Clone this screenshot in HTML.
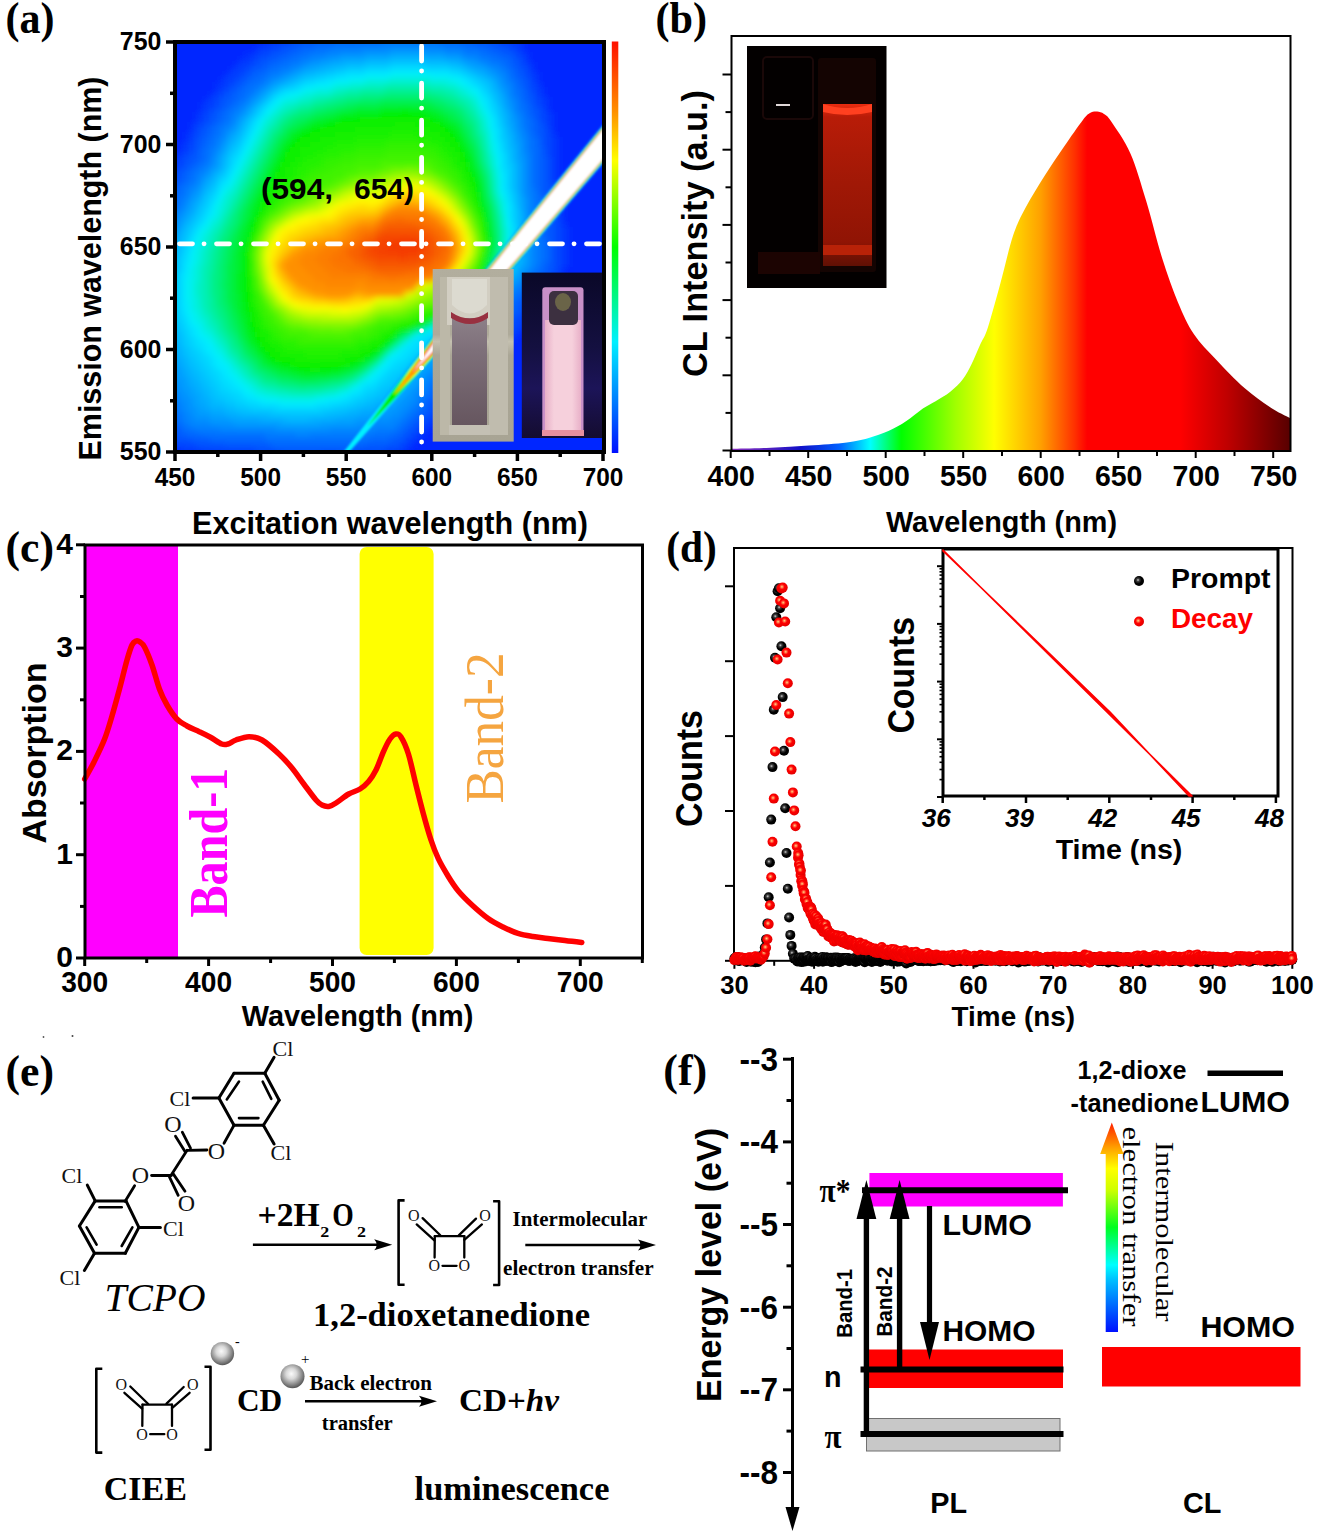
<!DOCTYPE html><html><head><meta charset="utf-8"><style>html,body{margin:0;padding:0;background:#fff;}svg{display:block;}</style></head><body>
<svg width="1325" height="1539" viewBox="0 0 1325 1539">
<rect width="1325" height="1539" fill="#fff"/>
<defs><clipPath id="clipA"><rect x="175" y="42" width="429" height="410"/></clipPath><filter id="blurA" x="-5%" y="-5%" width="110%" height="110%"><feGaussianBlur stdDeviation="3"/></filter><filter id="blurB"><feGaussianBlur stdDeviation="0.9"/></filter></defs>
<g clip-path="url(#clipA)">
<g filter="url(#blurA)"><path fill="#0028ff" d="M160 27h130v5h-130zM500 27h120v5h-120zM160 32h120v5h-120zM510 32h110v5h-110zM160 37h110v5h-110zM520 37h100v5h-100zM160 42h100v5h-100zM525 42h95v5h-95zM160 47h95v5h-95zM525 47h95v5h-95zM160 52h85v5h-85zM530 52h90v5h-90zM160 57h80v5h-80zM530 57h90v5h-90zM160 62h75v5h-75zM535 62h85v5h-85zM160 67h70v5h-70zM535 67h85v5h-85zM160 72h65v5h-65zM540 72h80v5h-80zM160 77h60v5h-60zM540 77h80v5h-80zM160 82h55v5h-55zM540 82h80v5h-80zM160 87h55v5h-55zM545 87h75v5h-75zM160 92h50v5h-50zM545 92h75v5h-75zM160 97h45v5h-45zM550 97h70v5h-70zM160 102h40v5h-40zM550 102h70v5h-70zM160 107h40v5h-40zM550 107h70v5h-70zM160 112h35v5h-35zM555 112h65v5h-65zM160 117h35v5h-35zM555 117h65v5h-65zM160 122h30v5h-30zM555 122h65v5h-65zM160 127h30v5h-30zM555 127h65v5h-65zM160 132h25v5h-25zM555 132h65v5h-65zM160 137h25v5h-25zM560 137h60v5h-60zM160 142h20v5h-20zM560 142h60v5h-60zM160 147h20v5h-20zM560 147h60v5h-60zM160 152h15v5h-15zM560 152h60v5h-60zM160 157h10v5h-10zM560 157h60v5h-60zM160 162h5v5h-5zM560 162h60v5h-60zM160 167h5v5h-5zM560 167h60v5h-60zM560 172h60v5h-60zM560 177h60v5h-60zM560 182h60v5h-60zM565 187h55v5h-55zM565 192h55v5h-55zM565 197h55v5h-55zM565 202h55v5h-55zM565 207h55v5h-55zM565 212h55v5h-55zM565 217h55v5h-55zM565 222h55v5h-55zM570 227h50v5h-50zM570 232h50v5h-50zM570 237h50v5h-50zM570 242h50v5h-50zM570 247h50v5h-50zM570 252h50v5h-50zM570 257h50v5h-50zM570 262h50v5h-50zM565 267h55v5h-55zM565 272h55v5h-55zM560 277h60v5h-60zM560 282h60v5h-60zM555 287h65v5h-65zM550 292h70v5h-70zM550 297h70v5h-70zM545 302h75v5h-75zM540 307h80v5h-80zM535 312h85v5h-85zM530 317h90v5h-90zM530 322h90v5h-90zM525 327h95v5h-95zM520 332h100v5h-100zM515 337h105v5h-105zM510 342h110v5h-110zM505 347h115v5h-115zM500 352h120v5h-120zM495 357h125v5h-125zM490 362h130v5h-130zM490 367h130v5h-130zM485 372h135v5h-135zM480 377h140v5h-140zM475 382h145v5h-145zM470 387h150v5h-150zM465 392h155v5h-155zM460 397h160v5h-160zM455 402h165v5h-165zM445 407h175v5h-175zM440 412h180v5h-180zM440 417h180v5h-180zM435 422h185v5h-185zM430 427h190v5h-190zM425 432h195v5h-195zM420 437h200v5h-200zM415 442h205v5h-205zM160 447h5v5h-5zM410 447h210v5h-210zM160 452h25v5h-25zM405 452h215v5h-215zM160 457h70v5h-70zM400 457h220v5h-220zM160 462h105v5h-105zM375 462h245v5h-245z"/><path fill="#0033ff" d="M290 27h15v5h-15zM485 27h15v5h-15zM280 32h10v5h-10zM500 32h10v5h-10zM270 37h10v5h-10zM510 37h10v5h-10zM260 42h10v5h-10zM520 42h5v5h-5zM255 47h5v5h-5zM520 47h5v5h-5zM245 52h10v5h-10zM525 52h5v5h-5zM240 57h10v5h-10zM525 57h5v5h-5zM235 62h5v5h-5zM530 62h5v5h-5zM230 67h5v5h-5zM530 67h5v5h-5zM225 72h5v5h-5zM535 72h5v5h-5zM220 77h5v5h-5zM535 77h5v5h-5zM215 82h10v5h-10zM215 87h5v5h-5zM540 87h5v5h-5zM210 92h5v5h-5zM540 92h5v5h-5zM205 97h5v5h-5zM545 97h5v5h-5zM200 102h5v5h-5zM545 102h5v5h-5zM200 107h5v5h-5zM545 107h5v5h-5zM195 112h5v5h-5zM550 112h5v5h-5zM195 117h5v5h-5zM550 117h5v5h-5zM190 122h5v5h-5zM550 122h5v5h-5zM190 127h5v5h-5zM550 127h5v5h-5zM185 132h5v5h-5zM185 137h5v5h-5zM555 137h5v5h-5zM180 142h5v5h-5zM555 142h5v5h-5zM180 147h5v5h-5zM555 147h5v5h-5zM175 152h5v5h-5zM555 152h5v5h-5zM170 157h5v5h-5zM555 157h5v5h-5zM165 162h10v5h-10zM555 162h5v5h-5zM165 167h5v5h-5zM555 167h5v5h-5zM160 172h5v5h-5zM555 172h5v5h-5zM160 177h5v5h-5zM555 177h5v5h-5zM560 187h5v5h-5zM560 192h5v5h-5zM560 197h5v5h-5zM560 202h5v5h-5zM560 207h5v5h-5zM560 212h5v5h-5zM560 217h5v5h-5zM565 227h5v5h-5zM565 232h5v5h-5zM565 237h5v5h-5zM565 242h5v5h-5zM565 247h5v5h-5zM565 252h5v5h-5zM565 257h5v5h-5zM565 262h5v5h-5zM560 267h5v5h-5zM560 272h5v5h-5zM555 277h5v5h-5zM555 282h5v5h-5zM550 287h5v5h-5zM545 292h5v5h-5zM545 297h5v5h-5zM540 302h5v5h-5zM535 307h5v5h-5zM530 312h5v5h-5zM525 317h5v5h-5zM525 322h5v5h-5zM520 327h5v5h-5zM515 332h5v5h-5zM510 337h5v5h-5zM505 342h5v5h-5zM500 347h5v5h-5zM495 352h5v5h-5zM490 357h5v5h-5zM485 362h5v5h-5zM485 367h5v5h-5zM480 372h5v5h-5zM475 377h5v5h-5zM470 382h5v5h-5zM465 387h5v5h-5zM460 392h5v5h-5zM455 397h5v5h-5zM445 402h10v5h-10zM440 407h5v5h-5zM435 417h5v5h-5zM430 422h5v5h-5zM425 427h5v5h-5zM420 432h5v5h-5zM160 437h5v5h-5zM415 437h5v5h-5zM160 442h5v5h-5zM410 442h5v5h-5zM165 447h15v5h-15zM405 447h5v5h-5zM185 452h25v5h-25zM400 452h5v5h-5zM230 457h30v5h-30zM380 457h20v5h-20zM265 462h110v5h-110z"/><path fill="#003dff" d="M305 27h15v5h-15zM475 27h10v5h-10zM290 32h15v5h-15zM485 32h15v5h-15zM280 37h10v5h-10zM500 37h10v5h-10zM270 42h10v5h-10zM510 42h10v5h-10zM260 47h10v5h-10zM515 47h5v5h-5zM255 52h5v5h-5zM520 52h5v5h-5zM250 57h5v5h-5zM240 62h10v5h-10zM525 62h5v5h-5zM235 67h10v5h-10zM230 72h10v5h-10zM530 72h5v5h-5zM225 77h10v5h-10zM530 77h5v5h-5zM225 82h5v5h-5zM535 82h5v5h-5zM220 87h5v5h-5zM535 87h5v5h-5zM215 92h5v5h-5zM535 92h5v5h-5zM210 97h5v5h-5zM540 97h5v5h-5zM205 102h10v5h-10zM540 102h5v5h-5zM205 107h5v5h-5zM200 112h5v5h-5zM545 112h5v5h-5zM200 117h5v5h-5zM545 117h5v5h-5zM195 122h5v5h-5zM545 122h5v5h-5zM190 132h5v5h-5zM550 132h5v5h-5zM190 137h5v5h-5zM550 137h5v5h-5zM185 142h5v5h-5zM550 142h5v5h-5zM185 147h5v5h-5zM550 147h5v5h-5zM180 152h5v5h-5zM550 152h5v5h-5zM175 157h5v5h-5zM550 157h5v5h-5zM175 162h5v5h-5zM550 162h5v5h-5zM170 167h5v5h-5zM550 167h5v5h-5zM165 172h5v5h-5zM550 172h5v5h-5zM165 177h5v5h-5zM550 177h5v5h-5zM160 182h5v5h-5zM555 182h5v5h-5zM555 187h5v5h-5zM555 192h5v5h-5zM555 197h5v5h-5zM555 202h5v5h-5zM555 207h5v5h-5zM555 212h5v5h-5zM560 222h5v5h-5zM560 227h5v5h-5zM560 232h5v5h-5zM560 237h5v5h-5zM560 242h5v5h-5zM560 247h5v5h-5zM560 252h5v5h-5zM560 257h5v5h-5zM560 262h5v5h-5zM555 272h5v5h-5zM550 277h5v5h-5zM550 282h5v5h-5zM545 287h5v5h-5zM540 292h5v5h-5zM540 297h5v5h-5zM535 302h5v5h-5zM530 307h5v5h-5zM525 312h5v5h-5zM520 317h5v5h-5zM520 322h5v5h-5zM515 327h5v5h-5zM510 332h5v5h-5zM505 337h5v5h-5zM500 342h5v5h-5zM495 347h5v5h-5zM490 352h5v5h-5zM485 357h5v5h-5zM480 362h5v5h-5zM475 367h10v5h-10zM475 372h5v5h-5zM470 377h5v5h-5zM465 382h5v5h-5zM460 387h5v5h-5zM455 392h5v5h-5zM445 397h10v5h-10zM440 402h5v5h-5zM435 407h5v5h-5zM435 412h5v5h-5zM430 417h5v5h-5zM425 422h5v5h-5zM420 427h5v5h-5zM160 432h5v5h-5zM415 432h5v5h-5zM165 437h5v5h-5zM410 437h5v5h-5zM165 442h10v5h-10zM405 442h5v5h-5zM180 447h20v5h-20zM400 447h5v5h-5zM210 452h45v5h-45zM385 452h15v5h-15zM260 457h120v5h-120z"/><path fill="#0047ff" d="M320 27h25v5h-25zM455 27h20v5h-20zM305 32h10v5h-10zM475 32h10v5h-10zM290 37h10v5h-10zM490 37h10v5h-10zM280 42h10v5h-10zM500 42h10v5h-10zM270 47h10v5h-10zM510 47h5v5h-5zM260 52h10v5h-10zM515 52h5v5h-5zM255 57h5v5h-5zM520 57h5v5h-5zM250 62h5v5h-5zM520 62h5v5h-5zM245 67h5v5h-5zM525 67h5v5h-5zM240 72h5v5h-5zM525 72h5v5h-5zM235 77h5v5h-5zM230 82h5v5h-5zM530 82h5v5h-5zM225 87h5v5h-5zM530 87h5v5h-5zM220 92h5v5h-5zM215 97h5v5h-5zM535 97h5v5h-5zM215 102h5v5h-5zM535 102h5v5h-5zM210 107h5v5h-5zM540 107h5v5h-5zM205 112h5v5h-5zM540 112h5v5h-5zM205 117h5v5h-5zM540 117h5v5h-5zM200 122h5v5h-5zM195 127h5v5h-5zM545 127h5v5h-5zM195 132h5v5h-5zM545 132h5v5h-5zM545 137h5v5h-5zM190 142h5v5h-5zM545 142h5v5h-5zM190 147h5v5h-5zM545 147h5v5h-5zM185 152h5v5h-5zM545 152h5v5h-5zM180 157h5v5h-5zM180 162h5v5h-5zM175 167h5v5h-5zM170 172h5v5h-5zM170 177h5v5h-5zM165 182h5v5h-5zM550 182h5v5h-5zM160 187h5v5h-5zM550 187h5v5h-5zM160 192h5v5h-5zM550 192h5v5h-5zM550 197h5v5h-5zM550 202h5v5h-5zM555 217h5v5h-5zM555 222h5v5h-5zM555 227h5v5h-5zM555 232h5v5h-5zM555 237h5v5h-5zM555 242h5v5h-5zM555 247h5v5h-5zM555 252h5v5h-5zM555 257h5v5h-5zM555 262h5v5h-5zM555 267h5v5h-5zM550 272h5v5h-5zM545 277h5v5h-5zM545 282h5v5h-5zM540 287h5v5h-5zM535 292h5v5h-5zM535 297h5v5h-5zM530 302h5v5h-5zM525 307h5v5h-5zM520 312h5v5h-5zM515 317h5v5h-5zM510 322h10v5h-10zM510 327h5v5h-5zM505 332h5v5h-5zM500 337h5v5h-5zM490 342h10v5h-10zM485 347h10v5h-10zM485 352h5v5h-5zM480 357h5v5h-5zM475 362h5v5h-5zM470 367h5v5h-5zM470 372h5v5h-5zM465 377h5v5h-5zM460 382h5v5h-5zM450 387h10v5h-10zM445 392h10v5h-10zM440 397h5v5h-5zM435 402h5v5h-5zM430 412h5v5h-5zM425 417h5v5h-5zM160 422h5v5h-5zM420 422h5v5h-5zM160 427h5v5h-5zM415 427h5v5h-5zM165 432h5v5h-5zM410 432h5v5h-5zM170 437h5v5h-5zM405 437h5v5h-5zM175 442h20v5h-20zM400 442h5v5h-5zM200 447h55v5h-55zM385 447h15v5h-15zM255 452h30v5h-30zM320 452h20v5h-20zM345 452h40v5h-40z"/><path fill="#0052ff" d="M345 27h55v5h-55zM420 27h35v5h-35zM315 32h25v5h-25zM460 32h15v5h-15zM300 37h15v5h-15zM475 37h15v5h-15zM290 42h10v5h-10zM490 42h10v5h-10zM280 47h10v5h-10zM500 47h10v5h-10zM270 52h10v5h-10zM510 52h5v5h-5zM260 57h10v5h-10zM515 57h5v5h-5zM255 62h10v5h-10zM515 62h5v5h-5zM250 67h5v5h-5zM520 67h5v5h-5zM245 72h5v5h-5zM520 72h5v5h-5zM240 77h5v5h-5zM525 77h5v5h-5zM235 82h5v5h-5zM525 82h5v5h-5zM230 87h5v5h-5zM525 87h5v5h-5zM225 92h5v5h-5zM530 92h5v5h-5zM220 97h5v5h-5zM530 97h5v5h-5zM220 102h5v5h-5zM530 102h5v5h-5zM215 107h5v5h-5zM535 107h5v5h-5zM210 112h5v5h-5zM535 112h5v5h-5zM210 117h5v5h-5zM535 117h5v5h-5zM205 122h5v5h-5zM540 122h5v5h-5zM200 127h5v5h-5zM540 127h5v5h-5zM200 132h5v5h-5zM540 132h5v5h-5zM195 137h5v5h-5zM540 137h5v5h-5zM195 142h5v5h-5zM540 142h5v5h-5zM195 147h5v5h-5zM190 152h5v5h-5zM185 157h10v5h-10zM545 157h5v5h-5zM185 162h5v5h-5zM545 162h5v5h-5zM180 167h5v5h-5zM545 167h5v5h-5zM175 172h5v5h-5zM545 172h5v5h-5zM175 177h5v5h-5zM545 177h5v5h-5zM170 182h5v5h-5zM545 182h5v5h-5zM165 187h5v5h-5zM545 187h5v5h-5zM165 192h5v5h-5zM545 192h5v5h-5zM160 197h5v5h-5zM545 197h5v5h-5zM160 202h5v5h-5zM550 207h5v5h-5zM550 212h5v5h-5zM550 217h5v5h-5zM550 222h5v5h-5zM550 227h5v5h-5zM550 232h5v5h-5zM550 237h5v5h-5zM550 242h5v5h-5zM550 247h5v5h-5zM550 252h5v5h-5zM550 257h5v5h-5zM550 262h5v5h-5zM550 267h5v5h-5zM545 272h5v5h-5zM540 282h5v5h-5zM535 287h5v5h-5zM530 292h5v5h-5zM525 297h10v5h-10zM520 302h10v5h-10zM520 307h5v5h-5zM515 312h5v5h-5zM510 317h5v5h-5zM505 322h5v5h-5zM500 327h10v5h-10zM495 332h10v5h-10zM490 337h10v5h-10zM485 342h5v5h-5zM480 347h5v5h-5zM480 352h5v5h-5zM475 357h5v5h-5zM470 362h5v5h-5zM465 367h5v5h-5zM460 372h10v5h-10zM455 377h10v5h-10zM450 382h10v5h-10zM445 387h5v5h-5zM440 392h5v5h-5zM435 397h5v5h-5zM430 402h5v5h-5zM430 407h5v5h-5zM160 412h5v5h-5zM425 412h5v5h-5zM160 417h5v5h-5zM420 417h5v5h-5zM165 422h5v5h-5zM415 422h5v5h-5zM165 427h10v5h-10zM410 427h5v5h-5zM170 432h5v5h-5zM405 432h5v5h-5zM175 437h15v5h-15zM400 437h5v5h-5zM195 442h30v5h-30zM390 442h10v5h-10zM255 447h20v5h-20zM355 447h30v5h-30zM285 452h35v5h-35zM340 452h5v5h-5z"/><path fill="#005cff" d="M400 27h20v5h-20zM340 32h50v5h-50zM430 32h30v5h-30zM315 37h20v5h-20zM460 37h15v5h-15zM300 42h15v5h-15zM475 42h15v5h-15zM290 47h10v5h-10zM490 47h10v5h-10zM280 52h10v5h-10zM500 52h10v5h-10zM270 57h10v5h-10zM510 57h5v5h-5zM265 62h5v5h-5zM510 62h5v5h-5zM255 67h10v5h-10zM515 67h5v5h-5zM250 72h5v5h-5zM515 72h5v5h-5zM245 77h5v5h-5zM520 77h5v5h-5zM240 82h5v5h-5zM520 82h5v5h-5zM235 87h5v5h-5zM230 92h5v5h-5zM525 92h5v5h-5zM225 97h10v5h-10zM525 97h5v5h-5zM225 102h5v5h-5zM220 107h5v5h-5zM530 107h5v5h-5zM215 112h5v5h-5zM530 112h5v5h-5zM215 117h5v5h-5zM210 122h5v5h-5zM535 122h5v5h-5zM205 127h5v5h-5zM535 127h5v5h-5zM205 132h5v5h-5zM535 132h5v5h-5zM200 137h5v5h-5zM200 142h5v5h-5zM540 147h5v5h-5zM195 152h5v5h-5zM540 152h5v5h-5zM195 157h5v5h-5zM540 157h5v5h-5zM190 162h5v5h-5zM540 162h5v5h-5zM185 167h5v5h-5zM540 167h5v5h-5zM180 172h5v5h-5zM540 172h5v5h-5zM180 177h5v5h-5zM540 177h5v5h-5zM175 182h5v5h-5zM540 182h5v5h-5zM170 187h5v5h-5zM540 187h5v5h-5zM170 192h5v5h-5zM540 192h5v5h-5zM165 197h5v5h-5zM165 202h5v5h-5zM545 202h5v5h-5zM160 207h5v5h-5zM545 207h5v5h-5zM160 212h5v5h-5zM545 212h5v5h-5zM545 217h5v5h-5zM545 222h5v5h-5zM545 227h5v5h-5zM545 232h5v5h-5zM545 237h5v5h-5zM545 262h5v5h-5zM545 267h5v5h-5zM540 272h5v5h-5zM540 277h5v5h-5zM535 282h5v5h-5zM530 287h5v5h-5zM525 292h5v5h-5zM520 297h5v5h-5zM515 302h5v5h-5zM515 307h5v5h-5zM510 312h5v5h-5zM505 317h5v5h-5zM500 322h5v5h-5zM495 327h5v5h-5zM490 332h5v5h-5zM485 337h5v5h-5zM480 342h5v5h-5zM475 347h5v5h-5zM475 352h5v5h-5zM470 357h5v5h-5zM465 362h5v5h-5zM460 367h5v5h-5zM455 372h5v5h-5zM450 377h5v5h-5zM445 382h5v5h-5zM440 387h5v5h-5zM435 392h5v5h-5zM430 397h5v5h-5zM160 402h5v5h-5zM425 402h5v5h-5zM160 407h5v5h-5zM425 407h5v5h-5zM165 412h5v5h-5zM420 412h5v5h-5zM165 417h5v5h-5zM415 417h5v5h-5zM170 422h5v5h-5zM410 422h5v5h-5zM175 427h5v5h-5zM405 427h5v5h-5zM175 432h10v5h-10zM400 432h5v5h-5zM190 437h20v5h-20zM390 437h10v5h-10zM225 442h45v5h-45zM365 442h25v5h-25zM275 447h80v5h-80z"/><path fill="#0067ff" d="M390 32h40v5h-40zM335 37h50v5h-50zM435 37h25v5h-25zM315 42h20v5h-20zM460 42h15v5h-15zM300 47h15v5h-15zM480 47h10v5h-10zM290 52h10v5h-10zM490 52h10v5h-10zM280 57h10v5h-10zM500 57h10v5h-10zM270 62h10v5h-10zM505 62h5v5h-5zM265 67h5v5h-5zM510 67h5v5h-5zM255 72h10v5h-10zM510 72h5v5h-5zM250 77h10v5h-10zM515 77h5v5h-5zM245 82h5v5h-5zM515 82h5v5h-5zM240 87h5v5h-5zM520 87h5v5h-5zM235 92h10v5h-10zM520 92h5v5h-5zM235 97h5v5h-5zM520 97h5v5h-5zM230 102h5v5h-5zM525 102h5v5h-5zM225 107h5v5h-5zM525 107h5v5h-5zM220 112h5v5h-5zM525 112h5v5h-5zM220 117h5v5h-5zM530 117h5v5h-5zM215 122h5v5h-5zM530 122h5v5h-5zM210 127h5v5h-5zM530 127h5v5h-5zM210 132h5v5h-5zM530 132h5v5h-5zM205 137h5v5h-5zM535 137h5v5h-5zM205 142h5v5h-5zM535 142h5v5h-5zM200 147h5v5h-5zM535 147h5v5h-5zM200 152h5v5h-5zM535 152h5v5h-5zM200 157h5v5h-5zM535 157h5v5h-5zM195 162h5v5h-5zM535 162h5v5h-5zM190 167h5v5h-5zM535 167h5v5h-5zM185 172h5v5h-5zM535 172h5v5h-5zM185 177h5v5h-5zM535 177h5v5h-5zM180 182h5v5h-5zM535 182h5v5h-5zM175 187h5v5h-5zM535 187h5v5h-5zM175 192h5v5h-5zM170 197h5v5h-5zM540 197h5v5h-5zM170 202h5v5h-5zM540 202h5v5h-5zM165 207h5v5h-5zM540 207h5v5h-5zM165 212h5v5h-5zM540 212h5v5h-5zM160 217h5v5h-5zM540 217h5v5h-5zM160 222h5v5h-5zM540 222h5v5h-5zM540 227h5v5h-5zM540 232h5v5h-5zM545 242h5v5h-5zM545 247h5v5h-5zM545 252h5v5h-5zM545 257h5v5h-5zM540 262h5v5h-5zM540 267h5v5h-5zM535 272h5v5h-5zM535 277h5v5h-5zM530 282h5v5h-5zM525 287h5v5h-5zM520 292h5v5h-5zM515 297h5v5h-5zM510 302h5v5h-5zM510 307h5v5h-5zM505 312h5v5h-5zM500 317h5v5h-5zM495 322h5v5h-5zM490 327h5v5h-5zM485 332h5v5h-5zM480 337h5v5h-5zM475 342h5v5h-5zM470 347h5v5h-5zM465 352h10v5h-10zM465 357h5v5h-5zM460 362h5v5h-5zM455 367h5v5h-5zM450 372h5v5h-5zM445 377h5v5h-5zM440 382h5v5h-5zM430 387h10v5h-10zM160 392h5v5h-5zM430 392h5v5h-5zM160 397h5v5h-5zM425 397h5v5h-5zM165 402h5v5h-5zM165 407h5v5h-5zM420 407h5v5h-5zM170 412h5v5h-5zM415 412h5v5h-5zM170 417h5v5h-5zM410 417h5v5h-5zM175 422h5v5h-5zM405 422h5v5h-5zM180 427h5v5h-5zM400 427h5v5h-5zM185 432h15v5h-15zM390 432h10v5h-10zM210 437h55v5h-55zM370 437h20v5h-20zM270 442h95v5h-95z"/><path fill="#0071ff" d="M385 37h50v5h-50zM335 42h45v5h-45zM440 42h20v5h-20zM315 47h15v5h-15zM465 47h15v5h-15zM300 52h10v5h-10zM480 52h10v5h-10zM290 57h10v5h-10zM490 57h10v5h-10zM280 62h10v5h-10zM500 62h5v5h-5zM270 67h10v5h-10zM505 67h5v5h-5zM265 72h5v5h-5zM260 77h5v5h-5zM510 77h5v5h-5zM250 82h10v5h-10zM245 87h10v5h-10zM515 87h5v5h-5zM245 92h5v5h-5zM515 92h5v5h-5zM240 97h5v5h-5zM235 102h5v5h-5zM520 102h5v5h-5zM230 107h5v5h-5zM520 107h5v5h-5zM225 112h5v5h-5zM225 117h5v5h-5zM525 117h5v5h-5zM220 122h5v5h-5zM525 122h5v5h-5zM215 127h5v5h-5zM525 127h5v5h-5zM215 132h5v5h-5zM210 137h5v5h-5zM530 137h5v5h-5zM210 142h5v5h-5zM530 142h5v5h-5zM205 147h5v5h-5zM530 147h5v5h-5zM205 152h5v5h-5zM530 152h5v5h-5zM205 157h5v5h-5zM530 157h5v5h-5zM200 162h5v5h-5zM530 162h5v5h-5zM195 167h5v5h-5zM530 167h5v5h-5zM190 172h5v5h-5zM530 172h5v5h-5zM190 177h5v5h-5zM530 177h5v5h-5zM185 182h5v5h-5zM530 182h5v5h-5zM180 187h5v5h-5zM180 192h5v5h-5zM535 192h5v5h-5zM175 197h5v5h-5zM535 197h5v5h-5zM175 202h5v5h-5zM535 202h5v5h-5zM170 207h5v5h-5zM535 207h5v5h-5zM535 212h5v5h-5zM165 217h5v5h-5zM535 217h5v5h-5zM535 222h5v5h-5zM160 227h5v5h-5zM535 227h5v5h-5zM160 232h5v5h-5zM540 237h5v5h-5zM540 242h5v5h-5zM540 247h5v5h-5zM540 252h5v5h-5zM540 257h5v5h-5zM535 267h5v5h-5zM530 272h5v5h-5zM530 277h5v5h-5zM525 282h5v5h-5zM520 287h5v5h-5zM515 292h5v5h-5zM510 297h5v5h-5zM505 302h5v5h-5zM505 307h5v5h-5zM500 312h5v5h-5zM495 317h5v5h-5zM490 322h5v5h-5zM485 327h5v5h-5zM475 332h10v5h-10zM470 337h10v5h-10zM470 342h5v5h-5zM465 347h5v5h-5zM460 352h5v5h-5zM460 357h5v5h-5zM455 362h5v5h-5zM450 367h5v5h-5zM445 372h5v5h-5zM435 377h10v5h-10zM160 382h5v5h-5zM430 382h10v5h-10zM160 387h5v5h-5zM425 392h5v5h-5zM165 397h5v5h-5zM420 397h5v5h-5zM170 402h5v5h-5zM420 402h5v5h-5zM170 407h5v5h-5zM415 407h5v5h-5zM175 412h5v5h-5zM410 412h5v5h-5zM175 417h5v5h-5zM405 417h5v5h-5zM180 422h5v5h-5zM400 422h5v5h-5zM185 427h10v5h-10zM395 427h5v5h-5zM200 432h65v5h-65zM370 432h20v5h-20zM265 437h105v5h-105z"/><path fill="#007bff" d="M380 42h60v5h-60zM330 47h30v5h-30zM445 47h20v5h-20zM310 52h15v5h-15zM465 52h15v5h-15zM300 57h10v5h-10zM480 57h10v5h-10zM290 62h10v5h-10zM490 62h10v5h-10zM280 67h10v5h-10zM500 67h5v5h-5zM270 72h10v5h-10zM505 72h5v5h-5zM265 77h5v5h-5zM505 77h5v5h-5zM260 82h5v5h-5zM510 82h5v5h-5zM255 87h5v5h-5zM510 87h5v5h-5zM250 92h5v5h-5zM510 92h5v5h-5zM245 97h5v5h-5zM515 97h5v5h-5zM240 102h5v5h-5zM515 102h5v5h-5zM235 107h5v5h-5zM515 107h5v5h-5zM230 112h5v5h-5zM520 112h5v5h-5zM230 117h5v5h-5zM520 117h5v5h-5zM225 122h5v5h-5zM520 122h5v5h-5zM220 127h5v5h-5zM220 132h5v5h-5zM525 132h5v5h-5zM215 137h5v5h-5zM525 137h5v5h-5zM215 142h5v5h-5zM525 142h5v5h-5zM210 147h5v5h-5zM525 147h5v5h-5zM210 152h5v5h-5zM205 162h5v5h-5zM200 167h5v5h-5zM195 172h5v5h-5zM195 177h5v5h-5zM190 182h5v5h-5zM185 187h5v5h-5zM530 187h5v5h-5zM185 192h5v5h-5zM530 192h5v5h-5zM180 197h5v5h-5zM530 197h5v5h-5zM180 202h5v5h-5zM530 202h5v5h-5zM175 207h5v5h-5zM530 207h5v5h-5zM170 212h5v5h-5zM530 212h5v5h-5zM170 217h5v5h-5zM530 217h5v5h-5zM165 222h5v5h-5zM530 222h5v5h-5zM165 227h5v5h-5zM535 232h5v5h-5zM160 237h5v5h-5zM535 237h5v5h-5zM160 242h5v5h-5zM535 242h5v5h-5zM535 247h5v5h-5zM535 252h5v5h-5zM535 257h5v5h-5zM535 262h5v5h-5zM530 267h5v5h-5zM525 272h5v5h-5zM525 277h5v5h-5zM520 282h5v5h-5zM515 287h5v5h-5zM510 292h5v5h-5zM505 297h5v5h-5zM500 302h5v5h-5zM500 307h5v5h-5zM495 312h5v5h-5zM490 317h5v5h-5zM485 322h5v5h-5zM475 327h10v5h-10zM470 332h5v5h-5zM465 337h5v5h-5zM465 342h5v5h-5zM460 347h5v5h-5zM455 352h5v5h-5zM450 357h10v5h-10zM450 362h5v5h-5zM440 367h10v5h-10zM160 372h5v5h-5zM435 372h10v5h-10zM160 377h5v5h-5zM430 377h5v5h-5zM165 382h5v5h-5zM425 382h5v5h-5zM165 387h5v5h-5zM425 387h5v5h-5zM165 392h5v5h-5zM420 392h5v5h-5zM170 397h5v5h-5zM175 402h5v5h-5zM415 402h5v5h-5zM175 407h5v5h-5zM410 407h5v5h-5zM180 412h5v5h-5zM405 412h5v5h-5zM180 417h5v5h-5zM400 417h5v5h-5zM185 422h5v5h-5zM395 422h5v5h-5zM195 427h25v5h-25zM375 427h20v5h-20zM265 432h30v5h-30zM310 432h60v5h-60z"/><path fill="#0086ff" d="M360 47h30v5h-30zM425 47h20v5h-20zM325 52h15v5h-15zM460 52h5v5h-5zM310 57h10v5h-10zM475 57h5v5h-5zM300 62h5v5h-5zM485 62h5v5h-5zM290 67h5v5h-5zM495 67h5v5h-5zM280 72h5v5h-5zM500 72h5v5h-5zM270 77h5v5h-5zM265 82h5v5h-5zM505 82h5v5h-5zM510 97h5v5h-5zM245 102h5v5h-5zM240 107h5v5h-5zM235 112h5v5h-5zM515 112h5v5h-5zM230 122h5v5h-5zM225 127h5v5h-5zM520 127h5v5h-5zM520 132h5v5h-5zM220 137h5v5h-5zM215 147h5v5h-5zM525 152h5v5h-5zM210 157h5v5h-5zM525 157h5v5h-5zM210 162h5v5h-5zM525 162h5v5h-5zM205 167h5v5h-5zM525 167h5v5h-5zM200 172h5v5h-5zM525 172h5v5h-5zM525 177h5v5h-5zM195 182h5v5h-5zM525 182h5v5h-5zM190 187h5v5h-5zM525 187h5v5h-5zM525 192h5v5h-5zM185 197h5v5h-5zM180 207h5v5h-5zM175 212h5v5h-5zM170 222h5v5h-5zM530 227h5v5h-5zM165 232h5v5h-5zM530 232h5v5h-5zM165 237h5v5h-5zM530 237h5v5h-5zM530 242h5v5h-5zM160 247h5v5h-5zM530 247h5v5h-5zM160 252h5v5h-5zM530 252h5v5h-5zM160 257h5v5h-5zM530 257h5v5h-5zM530 262h5v5h-5zM520 277h5v5h-5zM515 282h5v5h-5zM510 287h5v5h-5zM500 297h5v5h-5zM495 307h5v5h-5zM490 312h5v5h-5zM485 317h5v5h-5zM480 322h5v5h-5zM465 332h5v5h-5zM460 342h5v5h-5zM455 347h5v5h-5zM160 352h5v5h-5zM450 352h5v5h-5zM160 357h5v5h-5zM160 362h5v5h-5zM440 362h10v5h-10zM160 367h5v5h-5zM435 367h5v5h-5zM165 372h5v5h-5zM430 372h5v5h-5zM165 377h5v5h-5zM425 377h5v5h-5zM170 382h5v5h-5zM170 387h5v5h-5zM420 387h5v5h-5zM170 392h10v5h-10zM415 392h5v5h-5zM175 397h5v5h-5zM415 397h5v5h-5zM180 402h5v5h-5zM410 402h5v5h-5zM180 407h5v5h-5zM405 407h5v5h-5zM185 412h5v5h-5zM400 412h5v5h-5zM185 417h10v5h-10zM390 417h10v5h-10zM190 422h20v5h-20zM375 422h20v5h-20zM220 427h55v5h-55zM330 427h45v5h-45zM295 432h15v5h-15z"/><path fill="#0090ff" d="M390 47h35v5h-35zM340 52h25v5h-25zM445 52h15v5h-15zM320 57h10v5h-10zM465 57h10v5h-10zM305 62h5v5h-5zM480 62h5v5h-5zM295 67h5v5h-5zM490 67h5v5h-5zM285 72h5v5h-5zM495 72h5v5h-5zM275 77h5v5h-5zM500 77h5v5h-5zM500 82h5v5h-5zM260 87h5v5h-5zM505 87h5v5h-5zM255 92h5v5h-5zM505 92h5v5h-5zM250 97h5v5h-5zM510 102h5v5h-5zM510 107h5v5h-5zM240 112h5v5h-5zM235 117h5v5h-5zM515 117h5v5h-5zM515 122h5v5h-5zM230 127h5v5h-5zM515 127h5v5h-5zM225 132h5v5h-5zM520 137h5v5h-5zM220 142h5v5h-5zM520 142h5v5h-5zM520 147h5v5h-5zM215 152h5v5h-5zM520 152h5v5h-5zM205 172h5v5h-5zM200 177h5v5h-5zM195 187h5v5h-5zM190 192h5v5h-5zM525 197h5v5h-5zM185 202h5v5h-5zM525 202h5v5h-5zM525 207h5v5h-5zM180 212h5v5h-5zM525 212h5v5h-5zM175 217h5v5h-5zM525 217h5v5h-5zM175 222h5v5h-5zM170 227h5v5h-5zM170 232h5v5h-5zM165 242h5v5h-5zM165 247h5v5h-5zM160 262h5v5h-5zM160 267h5v5h-5zM525 267h5v5h-5zM160 272h5v5h-5zM520 272h5v5h-5zM505 292h5v5h-5zM495 302h5v5h-5zM490 307h5v5h-5zM485 312h5v5h-5zM480 317h5v5h-5zM475 322h5v5h-5zM470 327h5v5h-5zM160 332h5v5h-5zM160 337h5v5h-5zM460 337h5v5h-5zM160 342h5v5h-5zM455 342h5v5h-5zM160 347h5v5h-5zM450 347h5v5h-5zM165 352h5v5h-5zM165 357h5v5h-5zM440 357h10v5h-10zM165 362h5v5h-5zM435 362h5v5h-5zM165 367h5v5h-5zM430 367h5v5h-5zM170 372h5v5h-5zM425 372h5v5h-5zM170 377h5v5h-5zM420 377h5v5h-5zM175 382h5v5h-5zM420 382h5v5h-5zM175 387h5v5h-5zM415 387h5v5h-5zM180 392h5v5h-5zM410 392h5v5h-5zM180 397h10v5h-10zM405 397h10v5h-10zM185 402h5v5h-5zM400 402h10v5h-10zM185 407h10v5h-10zM395 407h10v5h-10zM190 412h5v5h-5zM390 412h10v5h-10zM195 417h15v5h-15zM375 417h15v5h-15zM210 422h25v5h-25zM355 422h20v5h-20zM275 427h55v5h-55z"/><path fill="#009aff" d="M365 52h25v5h-25zM425 52h20v5h-20zM330 57h10v5h-10zM460 57h5v5h-5zM310 62h10v5h-10zM470 62h10v5h-10zM300 67h5v5h-5zM485 67h5v5h-5zM290 72h5v5h-5zM490 72h5v5h-5zM280 77h5v5h-5zM495 77h5v5h-5zM270 82h5v5h-5zM265 87h5v5h-5zM500 87h5v5h-5zM260 92h5v5h-5zM255 97h5v5h-5zM505 97h5v5h-5zM250 102h5v5h-5zM505 102h5v5h-5zM245 107h5v5h-5zM510 112h5v5h-5zM510 117h5v5h-5zM235 122h5v5h-5zM515 132h5v5h-5zM225 137h5v5h-5zM515 137h5v5h-5zM220 147h5v5h-5zM215 157h5v5h-5zM520 157h5v5h-5zM215 162h5v5h-5zM520 162h5v5h-5zM210 167h5v5h-5zM520 167h5v5h-5zM520 172h5v5h-5zM520 177h5v5h-5zM200 182h5v5h-5zM520 182h5v5h-5zM520 187h5v5h-5zM195 192h5v5h-5zM520 192h5v5h-5zM190 197h5v5h-5zM185 207h5v5h-5zM180 217h5v5h-5zM525 222h5v5h-5zM175 227h5v5h-5zM525 227h5v5h-5zM525 232h5v5h-5zM170 237h5v5h-5zM165 252h5v5h-5zM525 252h5v5h-5zM165 257h5v5h-5zM525 257h5v5h-5zM525 262h5v5h-5zM520 267h5v5h-5zM160 277h5v5h-5zM515 277h5v5h-5zM160 282h5v5h-5zM510 282h5v5h-5zM160 287h5v5h-5zM505 287h5v5h-5zM160 292h5v5h-5zM500 292h5v5h-5zM160 297h5v5h-5zM495 297h5v5h-5zM160 302h5v5h-5zM160 307h5v5h-5zM160 312h5v5h-5zM160 317h5v5h-5zM160 322h5v5h-5zM470 322h5v5h-5zM160 327h5v5h-5zM465 327h5v5h-5zM460 332h5v5h-5zM165 337h5v5h-5zM455 337h5v5h-5zM165 342h5v5h-5zM165 347h5v5h-5zM445 352h5v5h-5zM170 357h5v5h-5zM435 357h5v5h-5zM170 362h5v5h-5zM430 362h5v5h-5zM170 367h10v5h-10zM425 367h5v5h-5zM175 372h5v5h-5zM420 372h5v5h-5zM175 377h10v5h-10zM180 382h5v5h-5zM415 382h5v5h-5zM180 387h10v5h-10zM410 387h5v5h-5zM185 392h5v5h-5zM405 392h5v5h-5zM190 397h5v5h-5zM400 397h5v5h-5zM190 402h5v5h-5zM395 402h5v5h-5zM195 407h5v5h-5zM385 407h10v5h-10zM195 412h15v5h-15zM375 412h15v5h-15zM210 417h20v5h-20zM355 417h20v5h-20zM235 422h45v5h-45zM320 422h35v5h-35z"/><path fill="#00a4ff" d="M390 52h35v5h-35zM340 57h25v5h-25zM445 57h15v5h-15zM320 62h10v5h-10zM465 62h5v5h-5zM305 67h10v5h-10zM475 67h10v5h-10zM295 72h5v5h-5zM485 72h5v5h-5zM285 77h5v5h-5zM275 82h5v5h-5zM495 82h5v5h-5zM500 92h5v5h-5zM505 107h5v5h-5zM245 112h5v5h-5zM240 117h5v5h-5zM510 122h5v5h-5zM235 127h5v5h-5zM510 127h5v5h-5zM230 132h5v5h-5zM225 142h5v5h-5zM515 142h5v5h-5zM515 147h5v5h-5zM220 152h5v5h-5zM515 152h5v5h-5zM515 157h5v5h-5zM215 167h5v5h-5zM210 172h5v5h-5zM205 177h5v5h-5zM200 187h5v5h-5zM195 197h5v5h-5zM520 197h5v5h-5zM190 202h5v5h-5zM520 202h5v5h-5zM190 207h5v5h-5zM520 207h5v5h-5zM185 212h5v5h-5zM180 222h5v5h-5zM175 232h5v5h-5zM525 237h5v5h-5zM170 242h5v5h-5zM525 242h5v5h-5zM170 247h5v5h-5zM525 247h5v5h-5zM165 262h5v5h-5zM520 262h5v5h-5zM165 267h5v5h-5zM165 272h5v5h-5zM515 272h5v5h-5zM165 277h5v5h-5zM510 277h5v5h-5zM490 302h5v5h-5zM485 307h5v5h-5zM480 312h5v5h-5zM165 317h5v5h-5zM475 317h5v5h-5zM165 322h5v5h-5zM165 327h5v5h-5zM460 327h5v5h-5zM165 332h5v5h-5zM455 332h5v5h-5zM170 342h5v5h-5zM450 342h5v5h-5zM170 347h5v5h-5zM445 347h5v5h-5zM170 352h5v5h-5zM435 352h10v5h-10zM175 357h5v5h-5zM430 357h5v5h-5zM175 362h5v5h-5zM425 362h5v5h-5zM180 367h5v5h-5zM420 367h5v5h-5zM180 372h5v5h-5zM415 372h5v5h-5zM185 377h5v5h-5zM415 377h5v5h-5zM185 382h5v5h-5zM410 382h5v5h-5zM190 387h5v5h-5zM405 387h5v5h-5zM190 392h10v5h-10zM400 392h5v5h-5zM195 397h5v5h-5zM395 397h5v5h-5zM195 402h10v5h-10zM385 402h10v5h-10zM200 407h10v5h-10zM375 407h10v5h-10zM210 412h15v5h-15zM360 412h15v5h-15zM230 417h30v5h-30zM335 417h20v5h-20zM280 422h40v5h-40z"/><path fill="#00aeff" d="M365 57h25v5h-25zM425 57h20v5h-20zM330 62h15v5h-15zM460 62h5v5h-5zM315 67h10v5h-10zM470 67h5v5h-5zM300 72h5v5h-5zM480 72h5v5h-5zM290 77h5v5h-5zM490 77h5v5h-5zM280 82h5v5h-5zM270 87h5v5h-5zM495 87h5v5h-5zM265 92h5v5h-5zM260 97h5v5h-5zM500 97h5v5h-5zM255 102h5v5h-5zM500 102h5v5h-5zM250 107h5v5h-5zM505 112h5v5h-5zM505 117h5v5h-5zM240 122h5v5h-5zM505 122h5v5h-5zM235 132h5v5h-5zM510 132h5v5h-5zM230 137h5v5h-5zM510 137h5v5h-5zM510 142h5v5h-5zM225 147h5v5h-5zM220 157h5v5h-5zM220 162h5v5h-5zM515 162h5v5h-5zM515 167h5v5h-5zM515 172h5v5h-5zM210 177h5v5h-5zM515 177h5v5h-5zM205 182h5v5h-5zM515 182h5v5h-5zM515 187h5v5h-5zM200 192h5v5h-5zM195 202h5v5h-5zM190 212h5v5h-5zM520 212h5v5h-5zM185 217h5v5h-5zM520 217h5v5h-5zM520 222h5v5h-5zM180 227h5v5h-5zM520 227h5v5h-5zM175 237h5v5h-5zM175 242h5v5h-5zM170 252h5v5h-5zM520 252h5v5h-5zM170 257h5v5h-5zM520 257h5v5h-5zM170 262h5v5h-5zM515 267h5v5h-5zM165 282h5v5h-5zM505 282h5v5h-5zM165 287h5v5h-5zM500 287h5v5h-5zM165 292h5v5h-5zM495 292h5v5h-5zM165 297h5v5h-5zM490 297h5v5h-5zM165 302h5v5h-5zM485 302h5v5h-5zM165 307h5v5h-5zM480 307h5v5h-5zM165 312h5v5h-5zM475 312h5v5h-5zM470 317h5v5h-5zM465 322h5v5h-5zM170 327h5v5h-5zM170 332h5v5h-5zM170 337h5v5h-5zM450 337h5v5h-5zM175 342h5v5h-5zM445 342h5v5h-5zM175 347h5v5h-5zM435 347h10v5h-10zM175 352h5v5h-5zM430 352h5v5h-5zM180 357h5v5h-5zM425 357h5v5h-5zM180 362h5v5h-5zM420 362h5v5h-5zM185 367h5v5h-5zM415 367h5v5h-5zM185 372h5v5h-5zM410 372h5v5h-5zM190 377h5v5h-5zM405 377h10v5h-10zM190 382h10v5h-10zM400 382h10v5h-10zM195 387h5v5h-5zM395 387h10v5h-10zM200 392h5v5h-5zM390 392h10v5h-10zM200 397h10v5h-10zM385 397h10v5h-10zM205 402h5v5h-5zM375 402h10v5h-10zM210 407h15v5h-15zM360 407h15v5h-15zM225 412h15v5h-15zM345 412h15v5h-15zM260 417h25v5h-25zM310 417h25v5h-25z"/><path fill="#00b8ff" d="M390 57h35v5h-35zM345 62h20v5h-20zM450 62h10v5h-10zM325 67h10v5h-10zM465 67h5v5h-5zM305 72h10v5h-10zM475 72h5v5h-5zM295 77h5v5h-5zM485 77h5v5h-5zM285 82h5v5h-5zM490 82h5v5h-5zM275 87h5v5h-5zM490 87h5v5h-5zM495 92h5v5h-5zM495 97h5v5h-5zM500 107h5v5h-5zM250 112h5v5h-5zM500 112h5v5h-5zM245 117h5v5h-5zM240 127h5v5h-5zM505 127h5v5h-5zM505 132h5v5h-5zM235 137h5v5h-5zM230 142h5v5h-5zM510 147h5v5h-5zM225 152h5v5h-5zM510 152h5v5h-5zM510 157h5v5h-5zM220 167h5v5h-5zM215 172h5v5h-5zM210 182h5v5h-5zM205 187h5v5h-5zM515 192h5v5h-5zM200 197h5v5h-5zM515 197h5v5h-5zM515 202h5v5h-5zM195 207h5v5h-5zM190 217h5v5h-5zM185 222h5v5h-5zM180 232h5v5h-5zM520 232h5v5h-5zM180 237h5v5h-5zM520 237h5v5h-5zM520 242h5v5h-5zM175 247h5v5h-5zM520 247h5v5h-5zM175 252h5v5h-5zM515 262h5v5h-5zM170 267h5v5h-5zM170 272h5v5h-5zM510 272h5v5h-5zM170 277h5v5h-5zM505 277h5v5h-5zM170 282h5v5h-5zM170 307h5v5h-5zM170 312h5v5h-5zM170 317h5v5h-5zM465 317h5v5h-5zM170 322h5v5h-5zM460 322h5v5h-5zM455 327h5v5h-5zM175 332h5v5h-5zM450 332h5v5h-5zM175 337h5v5h-5zM445 337h5v5h-5zM440 342h5v5h-5zM180 347h5v5h-5zM430 347h5v5h-5zM180 352h5v5h-5zM425 352h5v5h-5zM185 357h5v5h-5zM420 357h5v5h-5zM185 362h5v5h-5zM415 362h5v5h-5zM190 367h5v5h-5zM410 367h5v5h-5zM190 372h10v5h-10zM405 372h5v5h-5zM195 377h5v5h-5zM400 377h5v5h-5zM200 382h5v5h-5zM395 382h5v5h-5zM200 387h10v5h-10zM390 387h5v5h-5zM205 392h5v5h-5zM385 392h5v5h-5zM210 397h5v5h-5zM375 397h10v5h-10zM210 402h15v5h-15zM365 402h10v5h-10zM225 407h10v5h-10zM350 407h10v5h-10zM240 412h30v5h-30zM325 412h20v5h-20zM285 417h25v5h-25z"/><path fill="#00c2ff" d="M365 62h25v5h-25zM425 62h25v5h-25zM335 67h10v5h-10zM460 67h5v5h-5zM315 72h10v5h-10zM470 72h5v5h-5zM300 77h5v5h-5zM480 77h5v5h-5zM290 82h5v5h-5zM485 82h5v5h-5zM270 92h5v5h-5zM490 92h5v5h-5zM265 97h5v5h-5zM260 102h5v5h-5zM495 102h5v5h-5zM255 107h5v5h-5zM500 117h5v5h-5zM245 122h5v5h-5zM500 122h5v5h-5zM240 132h5v5h-5zM505 137h5v5h-5zM235 142h5v5h-5zM505 142h5v5h-5zM230 147h5v5h-5zM505 147h5v5h-5zM225 157h5v5h-5zM225 162h5v5h-5zM510 162h5v5h-5zM510 167h5v5h-5zM220 172h5v5h-5zM510 172h5v5h-5zM215 177h5v5h-5zM510 177h5v5h-5zM510 182h5v5h-5zM210 187h5v5h-5zM510 187h5v5h-5zM205 192h5v5h-5zM200 202h5v5h-5zM515 207h5v5h-5zM195 212h5v5h-5zM515 212h5v5h-5zM515 217h5v5h-5zM190 222h5v5h-5zM515 222h5v5h-5zM185 227h5v5h-5zM185 232h5v5h-5zM180 242h5v5h-5zM515 252h5v5h-5zM175 257h5v5h-5zM515 257h5v5h-5zM175 262h5v5h-5zM175 267h5v5h-5zM510 267h5v5h-5zM500 282h5v5h-5zM170 287h5v5h-5zM495 287h5v5h-5zM170 292h5v5h-5zM490 292h5v5h-5zM170 297h5v5h-5zM485 297h5v5h-5zM170 302h5v5h-5zM480 302h5v5h-5zM475 307h5v5h-5zM470 312h5v5h-5zM175 322h5v5h-5zM455 322h5v5h-5zM175 327h5v5h-5zM450 327h5v5h-5zM180 332h5v5h-5zM445 332h5v5h-5zM180 337h5v5h-5zM440 337h5v5h-5zM180 342h5v5h-5zM430 342h10v5h-10zM185 347h5v5h-5zM425 347h5v5h-5zM185 352h5v5h-5zM420 352h5v5h-5zM190 357h5v5h-5zM415 357h5v5h-5zM190 362h10v5h-10zM410 362h5v5h-5zM195 367h5v5h-5zM405 367h5v5h-5zM200 372h5v5h-5zM400 372h5v5h-5zM200 377h10v5h-10zM395 377h5v5h-5zM205 382h5v5h-5zM390 382h5v5h-5zM210 387h5v5h-5zM380 387h10v5h-10zM210 392h10v5h-10zM375 392h10v5h-10zM215 397h10v5h-10zM365 397h10v5h-10zM225 402h10v5h-10zM355 402h10v5h-10zM235 407h15v5h-15zM335 407h15v5h-15zM270 412h55v5h-55z"/><path fill="#00ccff" d="M390 62h35v5h-35zM345 67h20v5h-20zM450 67h10v5h-10zM325 72h10v5h-10zM465 72h5v5h-5zM305 77h10v5h-10zM475 77h5v5h-5zM295 82h5v5h-5zM480 82h5v5h-5zM280 87h5v5h-5zM485 87h5v5h-5zM490 97h5v5h-5zM495 107h5v5h-5zM255 112h5v5h-5zM495 112h5v5h-5zM250 117h5v5h-5zM245 127h5v5h-5zM500 127h5v5h-5zM500 132h5v5h-5zM240 137h5v5h-5zM500 137h5v5h-5zM235 147h5v5h-5zM230 152h5v5h-5zM505 152h5v5h-5zM505 157h5v5h-5zM505 162h5v5h-5zM225 167h5v5h-5zM215 182h5v5h-5zM210 192h5v5h-5zM510 192h5v5h-5zM205 197h5v5h-5zM510 197h5v5h-5zM205 202h5v5h-5zM200 207h5v5h-5zM200 212h5v5h-5zM195 217h5v5h-5zM190 227h5v5h-5zM515 227h5v5h-5zM515 232h5v5h-5zM185 237h5v5h-5zM515 237h5v5h-5zM515 242h5v5h-5zM180 247h5v5h-5zM515 247h5v5h-5zM180 252h5v5h-5zM510 262h5v5h-5zM175 272h5v5h-5zM505 272h5v5h-5zM175 277h5v5h-5zM500 277h5v5h-5zM175 282h5v5h-5zM495 282h5v5h-5zM175 287h5v5h-5zM490 287h5v5h-5zM175 292h5v5h-5zM485 292h5v5h-5zM175 297h5v5h-5zM480 297h5v5h-5zM175 302h5v5h-5zM475 302h5v5h-5zM175 307h5v5h-5zM470 307h5v5h-5zM175 312h5v5h-5zM465 312h5v5h-5zM175 317h5v5h-5zM460 317h5v5h-5zM180 322h5v5h-5zM450 322h5v5h-5zM180 327h5v5h-5zM445 327h5v5h-5zM440 332h5v5h-5zM185 337h5v5h-5zM435 337h5v5h-5zM185 342h5v5h-5zM425 342h5v5h-5zM190 347h5v5h-5zM420 347h5v5h-5zM190 352h10v5h-10zM415 352h5v5h-5zM195 357h5v5h-5zM410 357h5v5h-5zM200 362h5v5h-5zM405 362h5v5h-5zM200 367h10v5h-10zM400 367h5v5h-5zM205 372h5v5h-5zM390 372h10v5h-10zM210 377h5v5h-5zM385 377h10v5h-10zM210 382h10v5h-10zM380 382h10v5h-10zM215 387h5v5h-5zM375 387h5v5h-5zM220 392h10v5h-10zM365 392h10v5h-10zM225 397h10v5h-10zM355 397h10v5h-10zM235 402h10v5h-10zM345 402h10v5h-10zM250 407h25v5h-25zM320 407h15v5h-15z"/><path fill="#00d5ff" d="M365 67h25v5h-25zM425 67h25v5h-25zM335 72h10v5h-10zM460 72h5v5h-5zM315 77h10v5h-10zM470 77h5v5h-5zM300 82h5v5h-5zM475 82h5v5h-5zM285 87h10v5h-10zM480 87h5v5h-5zM275 92h5v5h-5zM485 92h5v5h-5zM270 97h5v5h-5zM265 102h5v5h-5zM490 102h5v5h-5zM260 107h5v5h-5zM490 107h5v5h-5zM495 117h5v5h-5zM250 122h5v5h-5zM495 122h5v5h-5zM245 132h5v5h-5zM240 142h5v5h-5zM500 142h5v5h-5zM500 147h5v5h-5zM235 152h5v5h-5zM230 157h5v5h-5zM230 162h5v5h-5zM505 167h5v5h-5zM225 172h5v5h-5zM505 172h5v5h-5zM220 177h5v5h-5zM505 177h5v5h-5zM505 182h5v5h-5zM215 187h5v5h-5zM505 187h5v5h-5zM210 197h5v5h-5zM510 202h5v5h-5zM205 207h5v5h-5zM510 207h5v5h-5zM510 212h5v5h-5zM200 217h5v5h-5zM510 217h5v5h-5zM195 222h5v5h-5zM190 232h5v5h-5zM185 242h5v5h-5zM185 247h5v5h-5zM510 252h5v5h-5zM180 257h5v5h-5zM510 257h5v5h-5zM180 262h5v5h-5zM180 267h5v5h-5zM505 267h5v5h-5zM465 307h5v5h-5zM180 312h5v5h-5zM460 312h5v5h-5zM180 317h5v5h-5zM455 317h5v5h-5zM445 322h5v5h-5zM185 327h5v5h-5zM440 327h5v5h-5zM185 332h5v5h-5zM435 332h5v5h-5zM190 337h5v5h-5zM425 337h10v5h-10zM190 342h5v5h-5zM420 342h5v5h-5zM195 347h5v5h-5zM415 347h5v5h-5zM200 352h5v5h-5zM410 352h5v5h-5zM200 357h10v5h-10zM405 357h5v5h-5zM205 362h5v5h-5zM395 362h10v5h-10zM210 367h5v5h-5zM390 367h10v5h-10zM210 372h10v5h-10zM385 372h5v5h-5zM215 377h5v5h-5zM380 377h5v5h-5zM220 382h5v5h-5zM375 382h5v5h-5zM220 387h10v5h-10zM365 387h10v5h-10zM230 392h10v5h-10zM360 392h5v5h-5zM235 397h10v5h-10zM350 397h5v5h-5zM245 402h15v5h-15zM330 402h15v5h-15zM275 407h45v5h-45z"/><path fill="#00e0ff" d="M390 67h35v5h-35zM345 72h20v5h-20zM450 72h10v5h-10zM325 77h10v5h-10zM465 77h5v5h-5zM305 82h10v5h-10zM470 82h5v5h-5zM295 87h5v5h-5zM280 92h5v5h-5zM480 92h5v5h-5zM485 97h5v5h-5zM485 102h5v5h-5zM260 112h5v5h-5zM490 112h5v5h-5zM255 117h5v5h-5zM250 127h5v5h-5zM495 127h5v5h-5zM495 132h5v5h-5zM245 137h5v5h-5zM495 137h5v5h-5zM240 147h5v5h-5zM500 152h5v5h-5zM235 157h5v5h-5zM500 157h5v5h-5zM500 162h5v5h-5zM230 167h5v5h-5zM500 167h5v5h-5zM225 177h5v5h-5zM220 182h5v5h-5zM215 192h5v5h-5zM505 192h5v5h-5zM505 197h5v5h-5zM210 202h5v5h-5zM205 212h5v5h-5zM200 222h5v5h-5zM510 222h5v5h-5zM195 227h5v5h-5zM510 227h5v5h-5zM510 232h5v5h-5zM190 237h5v5h-5zM510 237h5v5h-5zM510 242h5v5h-5zM510 247h5v5h-5zM185 252h5v5h-5zM185 257h5v5h-5zM505 262h5v5h-5zM180 272h5v5h-5zM500 272h5v5h-5zM180 277h5v5h-5zM495 277h5v5h-5zM180 282h5v5h-5zM490 282h5v5h-5zM180 287h5v5h-5zM485 287h5v5h-5zM180 292h5v5h-5zM480 292h5v5h-5zM180 297h5v5h-5zM475 297h5v5h-5zM180 302h5v5h-5zM470 302h5v5h-5zM180 307h5v5h-5zM185 317h5v5h-5zM450 317h5v5h-5zM185 322h5v5h-5zM440 322h5v5h-5zM190 327h5v5h-5zM435 327h5v5h-5zM190 332h5v5h-5zM425 332h10v5h-10zM195 337h5v5h-5zM415 337h10v5h-10zM195 342h10v5h-10zM410 342h10v5h-10zM200 347h5v5h-5zM405 347h10v5h-10zM205 352h5v5h-5zM400 352h10v5h-10zM210 357h5v5h-5zM395 357h10v5h-10zM210 362h5v5h-5zM390 362h5v5h-5zM215 367h5v5h-5zM385 367h5v5h-5zM220 372h5v5h-5zM380 372h5v5h-5zM220 377h10v5h-10zM375 377h5v5h-5zM225 382h10v5h-10zM365 382h10v5h-10zM230 387h10v5h-10zM360 387h5v5h-5zM240 392h5v5h-5zM350 392h10v5h-10zM245 397h10v5h-10zM340 397h10v5h-10zM260 402h20v5h-20zM315 402h15v5h-15z"/><path fill="#00eaff" d="M365 72h25v5h-25zM430 72h20v5h-20zM335 77h15v5h-15zM460 77h5v5h-5zM315 82h15v5h-15zM465 82h5v5h-5zM300 87h5v5h-5zM475 87h5v5h-5zM285 92h5v5h-5zM275 97h5v5h-5zM480 97h5v5h-5zM270 102h5v5h-5zM265 107h5v5h-5zM485 107h5v5h-5zM490 117h5v5h-5zM255 122h5v5h-5zM490 122h5v5h-5zM490 127h5v5h-5zM250 132h5v5h-5zM245 142h5v5h-5zM495 142h5v5h-5zM495 147h5v5h-5zM240 152h5v5h-5zM495 152h5v5h-5zM235 162h5v5h-5zM230 172h5v5h-5zM500 172h5v5h-5zM500 177h5v5h-5zM225 182h5v5h-5zM500 182h5v5h-5zM220 187h5v5h-5zM500 187h5v5h-5zM215 197h5v5h-5zM505 202h5v5h-5zM210 207h5v5h-5zM505 207h5v5h-5zM210 212h5v5h-5zM505 212h5v5h-5zM205 217h5v5h-5zM195 232h5v5h-5zM190 242h5v5h-5zM190 247h5v5h-5zM505 252h5v5h-5zM505 257h5v5h-5zM185 262h5v5h-5zM185 267h5v5h-5zM500 267h5v5h-5zM185 272h5v5h-5zM495 272h5v5h-5zM470 297h5v5h-5zM185 302h5v5h-5zM465 302h5v5h-5zM185 307h5v5h-5zM460 307h5v5h-5zM185 312h5v5h-5zM455 312h5v5h-5zM445 317h5v5h-5zM190 322h5v5h-5zM435 322h5v5h-5zM195 327h5v5h-5zM430 327h5v5h-5zM195 332h5v5h-5zM420 332h5v5h-5zM200 337h5v5h-5zM410 337h5v5h-5zM205 342h5v5h-5zM405 342h5v5h-5zM205 347h10v5h-10zM400 347h5v5h-5zM210 352h5v5h-5zM395 352h5v5h-5zM215 357h5v5h-5zM385 357h10v5h-10zM215 362h10v5h-10zM385 362h5v5h-5zM220 367h10v5h-10zM380 367h5v5h-5zM225 372h5v5h-5zM375 372h5v5h-5zM230 377h5v5h-5zM370 377h5v5h-5zM235 382h5v5h-5zM360 382h5v5h-5zM240 387h5v5h-5zM355 387h5v5h-5zM245 392h10v5h-10zM345 392h5v5h-5zM255 397h10v5h-10zM325 397h15v5h-15zM280 402h35v5h-35z"/><path fill="#00f0f8" d="M390 72h40v5h-40zM350 77h15v5h-15zM450 77h10v5h-10zM330 82h5v5h-5zM460 82h5v5h-5zM305 87h10v5h-10zM470 87h5v5h-5zM290 92h10v5h-10zM475 92h5v5h-5zM280 97h5v5h-5zM275 102h5v5h-5zM480 102h5v5h-5zM270 107h5v5h-5zM265 112h5v5h-5zM485 112h5v5h-5zM260 117h5v5h-5zM255 127h5v5h-5zM490 132h5v5h-5zM250 137h5v5h-5zM490 137h5v5h-5zM245 147h5v5h-5zM240 157h5v5h-5zM495 157h5v5h-5zM495 162h5v5h-5zM235 167h5v5h-5zM230 177h5v5h-5zM220 192h5v5h-5zM500 192h5v5h-5zM215 202h5v5h-5zM505 217h5v5h-5zM205 222h5v5h-5zM505 222h5v5h-5zM200 227h5v5h-5zM195 237h5v5h-5zM195 242h5v5h-5zM505 247h5v5h-5zM190 252h5v5h-5zM190 257h5v5h-5zM190 262h5v5h-5zM500 262h5v5h-5zM185 277h5v5h-5zM490 277h5v5h-5zM185 282h5v5h-5zM485 282h5v5h-5zM185 287h5v5h-5zM480 287h5v5h-5zM185 292h5v5h-5zM475 292h5v5h-5zM185 297h5v5h-5zM190 312h5v5h-5zM450 312h5v5h-5zM190 317h5v5h-5zM195 322h5v5h-5zM200 332h5v5h-5zM415 332h5v5h-5zM205 337h5v5h-5zM210 342h5v5h-5zM215 352h5v5h-5zM390 352h5v5h-5zM220 357h5v5h-5zM225 362h5v5h-5zM380 362h5v5h-5zM375 367h5v5h-5zM230 372h5v5h-5zM370 372h5v5h-5zM235 377h5v5h-5zM365 377h5v5h-5zM240 382h5v5h-5zM245 387h5v5h-5zM350 387h5v5h-5zM340 392h5v5h-5zM265 397h15v5h-15zM315 397h10v5h-10z"/><path fill="#00f0e9" d="M365 77h25v5h-25zM430 77h20v5h-20zM335 82h15v5h-15zM455 82h5v5h-5zM315 87h15v5h-15zM465 87h5v5h-5zM300 92h5v5h-5zM470 92h5v5h-5zM285 97h10v5h-10zM475 97h5v5h-5zM480 107h5v5h-5zM485 117h5v5h-5zM260 122h5v5h-5zM485 122h5v5h-5zM255 132h5v5h-5zM250 142h5v5h-5zM490 142h5v5h-5zM490 147h5v5h-5zM245 152h5v5h-5zM240 162h5v5h-5zM495 167h5v5h-5zM235 172h5v5h-5zM495 172h5v5h-5zM230 182h5v5h-5zM225 187h5v5h-5zM220 197h5v5h-5zM500 197h5v5h-5zM215 207h5v5h-5zM215 212h5v5h-5zM210 217h5v5h-5zM205 227h5v5h-5zM505 227h5v5h-5zM200 232h5v5h-5zM505 232h5v5h-5zM200 237h5v5h-5zM505 237h5v5h-5zM505 242h5v5h-5zM195 247h5v5h-5zM195 252h5v5h-5zM195 257h5v5h-5zM500 257h5v5h-5zM190 267h5v5h-5zM190 272h5v5h-5zM190 277h5v5h-5zM190 282h5v5h-5zM190 287h5v5h-5zM190 292h5v5h-5zM190 297h5v5h-5zM190 302h5v5h-5zM190 307h5v5h-5zM195 312h5v5h-5zM195 317h5v5h-5zM200 322h5v5h-5zM200 327h5v5h-5zM425 327h5v5h-5zM205 332h5v5h-5zM210 337h5v5h-5zM215 347h5v5h-5zM395 347h5v5h-5zM220 352h5v5h-5zM230 367h5v5h-5zM235 372h5v5h-5zM240 377h5v5h-5zM245 382h5v5h-5zM355 382h5v5h-5zM250 387h5v5h-5zM255 392h10v5h-10zM335 392h5v5h-5zM280 397h35v5h-35z"/><path fill="#00f0da" d="M390 77h40v5h-40zM350 82h15v5h-15zM445 82h10v5h-10zM330 87h5v5h-5zM460 87h5v5h-5zM305 92h10v5h-10zM465 92h5v5h-5zM295 97h5v5h-5zM280 102h5v5h-5zM475 102h5v5h-5zM275 107h5v5h-5zM270 112h5v5h-5zM480 112h5v5h-5zM265 117h5v5h-5zM260 127h5v5h-5zM485 127h5v5h-5zM255 137h5v5h-5zM250 147h5v5h-5zM490 152h5v5h-5zM245 157h5v5h-5zM240 167h5v5h-5zM235 177h5v5h-5zM495 177h5v5h-5zM495 182h5v5h-5zM230 187h5v5h-5zM495 187h5v5h-5zM225 192h5v5h-5zM220 202h5v5h-5zM500 202h5v5h-5zM220 207h5v5h-5zM500 207h5v5h-5zM215 217h5v5h-5zM210 222h5v5h-5zM205 232h5v5h-5zM200 242h5v5h-5zM200 247h5v5h-5zM195 262h5v5h-5zM195 267h5v5h-5zM495 267h5v5h-5zM195 272h5v5h-5zM195 277h5v5h-5zM195 297h5v5h-5zM195 302h5v5h-5zM195 307h5v5h-5zM200 317h5v5h-5zM205 327h5v5h-5zM210 332h5v5h-5zM215 342h5v5h-5zM400 342h5v5h-5zM220 347h5v5h-5zM225 357h5v5h-5zM230 362h5v5h-5zM235 367h5v5h-5zM360 377h5v5h-5zM250 382h5v5h-5zM255 387h5v5h-5zM345 387h5v5h-5zM265 392h10v5h-10zM325 392h10v5h-10z"/><path fill="#00f0cb" d="M365 82h20v5h-20zM430 82h15v5h-15zM335 87h10v5h-10zM455 87h5v5h-5zM315 92h15v5h-15zM460 92h5v5h-5zM300 97h10v5h-10zM470 97h5v5h-5zM285 102h10v5h-10zM280 107h5v5h-5zM475 107h5v5h-5zM275 112h5v5h-5zM270 117h5v5h-5zM480 117h5v5h-5zM265 122h5v5h-5zM260 132h5v5h-5zM485 132h5v5h-5zM485 137h5v5h-5zM255 142h5v5h-5zM250 152h5v5h-5zM490 157h5v5h-5zM245 162h5v5h-5zM490 162h5v5h-5zM240 172h5v5h-5zM235 182h5v5h-5zM230 192h5v5h-5zM495 192h5v5h-5zM225 197h5v5h-5zM225 202h5v5h-5zM220 212h5v5h-5zM500 212h5v5h-5zM215 222h5v5h-5zM210 227h5v5h-5zM205 237h5v5h-5zM205 242h5v5h-5zM200 252h5v5h-5zM500 252h5v5h-5zM200 257h5v5h-5zM200 262h5v5h-5zM195 282h5v5h-5zM195 287h5v5h-5zM195 292h5v5h-5zM200 307h5v5h-5zM455 307h5v5h-5zM200 312h5v5h-5zM205 317h5v5h-5zM440 317h5v5h-5zM205 322h5v5h-5zM210 327h5v5h-5zM215 337h5v5h-5zM405 337h5v5h-5zM220 342h5v5h-5zM225 352h5v5h-5zM230 357h5v5h-5zM240 372h5v5h-5zM365 372h5v5h-5zM245 377h5v5h-5zM350 382h5v5h-5zM260 387h5v5h-5zM340 387h5v5h-5zM275 392h15v5h-15zM315 392h10v5h-10z"/><path fill="#00f0bc" d="M385 82h45v5h-45zM345 87h15v5h-15zM445 87h10v5h-10zM330 92h5v5h-5zM455 92h5v5h-5zM310 97h5v5h-5zM465 97h5v5h-5zM295 102h5v5h-5zM470 102h5v5h-5zM285 107h5v5h-5zM475 112h5v5h-5zM270 122h5v5h-5zM480 122h5v5h-5zM265 127h5v5h-5zM480 127h5v5h-5zM260 137h5v5h-5zM485 142h5v5h-5zM255 147h5v5h-5zM485 147h5v5h-5zM250 157h5v5h-5zM245 167h5v5h-5zM490 167h5v5h-5zM240 177h5v5h-5zM235 187h5v5h-5zM230 197h5v5h-5zM495 197h5v5h-5zM225 207h5v5h-5zM220 217h5v5h-5zM500 217h5v5h-5zM500 222h5v5h-5zM215 227h5v5h-5zM210 232h5v5h-5zM210 237h5v5h-5zM205 247h5v5h-5zM500 247h5v5h-5zM205 252h5v5h-5zM205 257h5v5h-5zM495 262h5v5h-5zM200 267h5v5h-5zM200 272h5v5h-5zM490 272h5v5h-5zM200 277h5v5h-5zM200 282h5v5h-5zM200 287h5v5h-5zM200 292h5v5h-5zM200 297h5v5h-5zM200 302h5v5h-5zM205 312h5v5h-5zM210 322h5v5h-5zM215 332h5v5h-5zM220 337h5v5h-5zM225 347h5v5h-5zM385 352h5v5h-5zM235 362h5v5h-5zM240 367h5v5h-5zM370 367h5v5h-5zM245 372h5v5h-5zM250 377h5v5h-5zM255 382h5v5h-5zM265 387h10v5h-10zM335 387h5v5h-5zM290 392h25v5h-25z"/><path fill="#00f0ad" d="M360 87h25v5h-25zM430 87h15v5h-15zM335 92h10v5h-10zM450 92h5v5h-5zM315 97h10v5h-10zM460 97h5v5h-5zM300 102h10v5h-10zM465 102h5v5h-5zM290 107h5v5h-5zM470 107h5v5h-5zM280 112h5v5h-5zM275 117h5v5h-5zM475 117h5v5h-5zM265 132h5v5h-5zM480 132h5v5h-5zM260 142h5v5h-5zM255 152h5v5h-5zM485 152h5v5h-5zM485 157h5v5h-5zM250 162h5v5h-5zM245 172h5v5h-5zM490 172h5v5h-5zM490 177h5v5h-5zM240 182h5v5h-5zM235 192h5v5h-5zM230 202h5v5h-5zM495 202h5v5h-5zM225 212h5v5h-5zM220 222h5v5h-5zM500 227h5v5h-5zM215 232h5v5h-5zM500 232h5v5h-5zM500 237h5v5h-5zM210 242h5v5h-5zM500 242h5v5h-5zM210 247h5v5h-5zM205 262h5v5h-5zM205 267h5v5h-5zM205 272h5v5h-5zM205 277h5v5h-5zM485 277h5v5h-5zM205 282h5v5h-5zM205 287h5v5h-5zM205 292h5v5h-5zM205 297h5v5h-5zM465 297h5v5h-5zM205 302h5v5h-5zM460 302h5v5h-5zM205 307h5v5h-5zM210 312h5v5h-5zM210 317h5v5h-5zM215 322h5v5h-5zM215 327h5v5h-5zM220 332h5v5h-5zM410 332h5v5h-5zM225 342h5v5h-5zM390 347h5v5h-5zM230 352h5v5h-5zM235 357h5v5h-5zM380 357h5v5h-5zM240 362h5v5h-5zM375 362h5v5h-5zM245 367h5v5h-5zM255 377h5v5h-5zM355 377h5v5h-5zM260 382h5v5h-5zM345 382h5v5h-5zM275 387h10v5h-10zM325 387h10v5h-10z"/><path fill="#00f09d" d="M385 87h45v5h-45zM345 92h15v5h-15zM440 92h10v5h-10zM325 97h10v5h-10zM455 97h5v5h-5zM310 102h5v5h-5zM460 102h5v5h-5zM295 107h5v5h-5zM465 107h5v5h-5zM285 112h5v5h-5zM470 112h5v5h-5zM280 117h5v5h-5zM275 122h5v5h-5zM475 122h5v5h-5zM270 127h5v5h-5zM475 127h5v5h-5zM265 137h5v5h-5zM480 137h5v5h-5zM480 142h5v5h-5zM260 147h5v5h-5zM255 157h5v5h-5zM485 162h5v5h-5zM250 167h5v5h-5zM245 177h5v5h-5zM490 182h5v5h-5zM240 187h5v5h-5zM490 187h5v5h-5zM235 197h5v5h-5zM230 207h5v5h-5zM495 207h5v5h-5zM225 217h5v5h-5zM220 227h5v5h-5zM215 237h5v5h-5zM215 242h5v5h-5zM210 252h5v5h-5zM210 257h5v5h-5zM495 257h5v5h-5zM210 262h5v5h-5zM210 267h5v5h-5zM480 282h5v5h-5zM470 292h5v5h-5zM210 297h5v5h-5zM210 302h5v5h-5zM210 307h5v5h-5zM215 317h5v5h-5zM430 322h5v5h-5zM220 327h5v5h-5zM225 337h5v5h-5zM395 342h5v5h-5zM230 347h5v5h-5zM235 352h5v5h-5zM250 372h5v5h-5zM360 372h5v5h-5zM265 382h10v5h-10zM340 382h5v5h-5zM285 387h15v5h-15zM305 387h20v5h-20z"/><path fill="#00f08e" d="M360 92h25v5h-25zM430 92h10v5h-10zM335 97h10v5h-10zM445 97h10v5h-10zM315 102h10v5h-10zM455 102h5v5h-5zM300 107h10v5h-10zM290 112h5v5h-5zM465 112h5v5h-5zM470 117h5v5h-5zM275 127h5v5h-5zM270 132h5v5h-5zM475 132h5v5h-5zM265 142h5v5h-5zM480 147h5v5h-5zM260 152h5v5h-5zM255 162h5v5h-5zM485 167h5v5h-5zM250 172h5v5h-5zM245 182h5v5h-5zM240 192h5v5h-5zM490 192h5v5h-5zM235 202h5v5h-5zM230 212h5v5h-5zM495 212h5v5h-5zM495 217h5v5h-5zM225 222h5v5h-5zM220 232h5v5h-5zM215 247h5v5h-5zM215 252h5v5h-5zM495 252h5v5h-5zM215 257h5v5h-5zM490 267h5v5h-5zM210 272h5v5h-5zM210 277h5v5h-5zM210 282h5v5h-5zM210 287h5v5h-5zM475 287h5v5h-5zM210 292h5v5h-5zM215 307h5v5h-5zM215 312h5v5h-5zM220 317h5v5h-5zM220 322h5v5h-5zM420 327h5v5h-5zM225 332h5v5h-5zM230 337h5v5h-5zM400 337h5v5h-5zM230 342h5v5h-5zM235 347h5v5h-5zM240 357h5v5h-5zM245 362h5v5h-5zM250 367h5v5h-5zM365 367h5v5h-5zM255 372h5v5h-5zM260 377h5v5h-5zM350 377h5v5h-5zM275 382h5v5h-5zM330 382h10v5h-10zM300 387h5v5h-5z"/><path fill="#00f07f" d="M385 92h45v5h-45zM345 97h15v5h-15zM440 97h5v5h-5zM325 102h10v5h-10zM450 102h5v5h-5zM310 107h5v5h-5zM460 107h5v5h-5zM295 112h5v5h-5zM285 117h5v5h-5zM465 117h5v5h-5zM280 122h5v5h-5zM470 122h5v5h-5zM270 137h5v5h-5zM475 137h5v5h-5zM265 147h5v5h-5zM480 152h5v5h-5zM260 157h5v5h-5zM480 157h5v5h-5zM255 167h5v5h-5zM485 172h5v5h-5zM250 177h5v5h-5zM245 187h5v5h-5zM240 197h5v5h-5zM490 197h5v5h-5zM235 207h5v5h-5zM230 217h5v5h-5zM230 222h5v5h-5zM495 222h5v5h-5zM225 227h5v5h-5zM495 227h5v5h-5zM225 232h5v5h-5zM220 237h5v5h-5zM220 242h5v5h-5zM220 247h5v5h-5zM495 247h5v5h-5zM215 262h5v5h-5zM490 262h5v5h-5zM215 267h5v5h-5zM215 272h5v5h-5zM215 277h5v5h-5zM215 282h5v5h-5zM215 287h5v5h-5zM215 292h5v5h-5zM215 297h5v5h-5zM215 302h5v5h-5zM220 307h5v5h-5zM220 312h5v5h-5zM225 322h5v5h-5zM225 327h5v5h-5zM230 332h5v5h-5zM235 342h5v5h-5zM240 352h5v5h-5zM245 357h5v5h-5zM250 362h5v5h-5zM370 362h5v5h-5zM260 372h5v5h-5zM355 372h5v5h-5zM265 377h10v5h-10zM345 377h5v5h-5zM280 382h15v5h-15zM320 382h10v5h-10z"/><path fill="#00f070" d="M360 97h20v5h-20zM430 97h10v5h-10zM335 102h10v5h-10zM445 102h5v5h-5zM315 107h10v5h-10zM455 107h5v5h-5zM300 112h10v5h-10zM460 112h5v5h-5zM290 117h5v5h-5zM285 122h5v5h-5zM465 122h5v5h-5zM280 127h5v5h-5zM470 127h5v5h-5zM275 132h5v5h-5zM470 132h5v5h-5zM270 142h5v5h-5zM475 142h5v5h-5zM265 152h5v5h-5zM260 162h5v5h-5zM480 162h5v5h-5zM255 172h5v5h-5zM485 177h5v5h-5zM250 182h5v5h-5zM485 182h5v5h-5zM245 192h5v5h-5zM240 202h5v5h-5zM490 202h5v5h-5zM235 212h5v5h-5zM235 217h5v5h-5zM230 227h5v5h-5zM495 232h5v5h-5zM225 237h5v5h-5zM495 237h5v5h-5zM495 242h5v5h-5zM220 252h5v5h-5zM220 257h5v5h-5zM220 262h5v5h-5zM220 267h5v5h-5zM220 272h5v5h-5zM485 272h5v5h-5zM220 277h5v5h-5zM220 287h5v5h-5zM220 292h5v5h-5zM220 297h5v5h-5zM220 302h5v5h-5zM225 312h5v5h-5zM445 312h5v5h-5zM225 317h5v5h-5zM230 327h5v5h-5zM235 337h5v5h-5zM240 347h5v5h-5zM375 357h5v5h-5zM255 367h5v5h-5zM265 372h5v5h-5zM275 377h5v5h-5zM340 377h5v5h-5zM295 382h25v5h-25z"/><path fill="#00f061" d="M380 97h50v5h-50zM345 102h10v5h-10zM435 102h10v5h-10zM325 107h10v5h-10zM445 107h10v5h-10zM310 112h5v5h-5zM455 112h5v5h-5zM295 117h10v5h-10zM460 117h5v5h-5zM290 122h5v5h-5zM465 127h5v5h-5zM280 132h5v5h-5zM275 137h5v5h-5zM470 137h5v5h-5zM270 147h5v5h-5zM475 147h5v5h-5zM475 152h5v5h-5zM265 157h5v5h-5zM260 167h5v5h-5zM480 167h5v5h-5zM255 177h5v5h-5zM250 187h5v5h-5zM485 187h5v5h-5zM485 192h5v5h-5zM245 197h5v5h-5zM240 207h5v5h-5zM490 207h5v5h-5zM490 212h5v5h-5zM235 222h5v5h-5zM230 232h5v5h-5zM225 242h5v5h-5zM225 247h5v5h-5zM225 252h5v5h-5zM225 257h5v5h-5zM490 257h5v5h-5zM220 282h5v5h-5zM225 302h5v5h-5zM225 307h5v5h-5zM230 317h5v5h-5zM230 322h5v5h-5zM235 332h5v5h-5zM405 332h5v5h-5zM240 342h5v5h-5zM385 347h5v5h-5zM245 352h5v5h-5zM380 352h5v5h-5zM250 357h5v5h-5zM255 362h5v5h-5zM260 367h5v5h-5zM360 367h5v5h-5zM270 372h5v5h-5zM350 372h5v5h-5zM280 377h10v5h-10zM330 377h10v5h-10z"/><path fill="#00f051" d="M355 102h25v5h-25zM430 102h5v5h-5zM335 107h10v5h-10zM440 107h5v5h-5zM315 112h10v5h-10zM450 112h5v5h-5zM305 117h5v5h-5zM455 117h5v5h-5zM295 122h5v5h-5zM460 122h5v5h-5zM285 127h5v5h-5zM465 132h5v5h-5zM275 142h5v5h-5zM470 142h5v5h-5zM270 152h5v5h-5zM475 157h5v5h-5zM265 162h5v5h-5zM260 172h5v5h-5zM480 172h5v5h-5zM255 182h5v5h-5zM250 192h5v5h-5zM485 197h5v5h-5zM245 202h5v5h-5zM240 212h5v5h-5zM240 217h5v5h-5zM490 217h5v5h-5zM235 227h5v5h-5zM230 237h5v5h-5zM230 242h5v5h-5zM230 247h5v5h-5zM490 252h5v5h-5zM225 262h5v5h-5zM225 267h5v5h-5zM485 267h5v5h-5zM225 272h5v5h-5zM225 277h5v5h-5zM480 277h5v5h-5zM225 282h5v5h-5zM225 287h5v5h-5zM225 292h5v5h-5zM225 297h5v5h-5zM230 307h5v5h-5zM230 312h5v5h-5zM235 322h5v5h-5zM235 327h5v5h-5zM415 327h5v5h-5zM240 337h5v5h-5zM395 337h5v5h-5zM390 342h5v5h-5zM245 347h5v5h-5zM250 352h5v5h-5zM255 357h5v5h-5zM365 362h5v5h-5zM265 367h5v5h-5zM275 372h5v5h-5zM345 372h5v5h-5zM290 377h10v5h-10zM315 377h15v5h-15z"/><path fill="#00f042" d="M380 102h50v5h-50zM345 107h10v5h-10zM435 107h5v5h-5zM325 112h10v5h-10zM445 112h5v5h-5zM310 117h5v5h-5zM450 117h5v5h-5zM300 122h5v5h-5zM290 127h5v5h-5zM460 127h5v5h-5zM285 132h5v5h-5zM280 137h5v5h-5zM465 137h5v5h-5zM275 147h5v5h-5zM470 147h5v5h-5zM270 157h5v5h-5zM475 162h5v5h-5zM265 167h5v5h-5zM260 177h5v5h-5zM480 177h5v5h-5zM255 187h5v5h-5zM250 197h5v5h-5zM485 202h5v5h-5zM245 207h5v5h-5zM245 212h5v5h-5zM240 222h5v5h-5zM490 222h5v5h-5zM490 227h5v5h-5zM235 232h5v5h-5zM235 237h5v5h-5zM490 247h5v5h-5zM230 252h5v5h-5zM230 257h5v5h-5zM230 262h5v5h-5zM230 267h5v5h-5zM230 272h5v5h-5zM230 277h5v5h-5zM230 282h5v5h-5zM475 282h5v5h-5zM230 287h5v5h-5zM230 292h5v5h-5zM230 297h5v5h-5zM230 302h5v5h-5zM450 307h5v5h-5zM235 312h5v5h-5zM235 317h5v5h-5zM435 317h5v5h-5zM240 327h5v5h-5zM240 332h5v5h-5zM400 332h5v5h-5zM245 342h5v5h-5zM250 347h5v5h-5zM260 362h5v5h-5zM270 367h5v5h-5zM355 367h5v5h-5zM280 372h10v5h-10zM340 372h5v5h-5zM300 377h15v5h-15z"/><path fill="#00f033" d="M355 107h25v5h-25zM425 107h10v5h-10zM335 112h5v5h-5zM440 112h5v5h-5zM315 117h10v5h-10zM445 117h5v5h-5zM305 122h5v5h-5zM455 122h5v5h-5zM295 127h5v5h-5zM460 132h5v5h-5zM285 137h5v5h-5zM280 142h5v5h-5zM465 142h5v5h-5zM275 152h5v5h-5zM470 152h5v5h-5zM270 162h5v5h-5zM475 167h5v5h-5zM265 172h5v5h-5zM260 182h5v5h-5zM480 182h5v5h-5zM480 187h5v5h-5zM255 192h5v5h-5zM250 202h5v5h-5zM485 207h5v5h-5zM245 217h5v5h-5zM240 227h5v5h-5zM240 232h5v5h-5zM490 232h5v5h-5zM490 237h5v5h-5zM235 242h5v5h-5zM490 242h5v5h-5zM235 247h5v5h-5zM235 252h5v5h-5zM235 257h5v5h-5zM235 262h5v5h-5zM485 262h5v5h-5zM235 267h5v5h-5zM470 287h5v5h-5zM235 292h5v5h-5zM235 297h5v5h-5zM235 302h5v5h-5zM455 302h5v5h-5zM235 307h5v5h-5zM240 317h5v5h-5zM240 322h5v5h-5zM425 322h5v5h-5zM245 337h5v5h-5zM255 352h5v5h-5zM260 357h5v5h-5zM370 357h5v5h-5zM265 362h5v5h-5zM360 362h5v5h-5zM275 367h5v5h-5zM350 367h5v5h-5zM290 372h10v5h-10zM330 372h10v5h-10z"/><path fill="#00f024" d="M380 107h20v5h-20zM410 107h15v5h-15zM340 112h15v5h-15zM430 112h10v5h-10zM325 117h10v5h-10zM440 117h5v5h-5zM310 122h5v5h-5zM450 122h5v5h-5zM300 127h5v5h-5zM455 127h5v5h-5zM290 132h5v5h-5zM460 137h5v5h-5zM280 147h5v5h-5zM465 147h5v5h-5zM275 157h5v5h-5zM470 157h5v5h-5zM470 162h5v5h-5zM270 167h5v5h-5zM475 172h5v5h-5zM265 177h5v5h-5zM260 187h5v5h-5zM480 192h5v5h-5zM255 197h5v5h-5zM250 207h5v5h-5zM250 212h5v5h-5zM485 212h5v5h-5zM245 222h5v5h-5zM245 227h5v5h-5zM240 237h5v5h-5zM240 242h5v5h-5zM240 247h5v5h-5zM485 257h5v5h-5zM235 272h5v5h-5zM480 272h5v5h-5zM235 277h5v5h-5zM235 282h5v5h-5zM235 287h5v5h-5zM465 292h5v5h-5zM460 297h5v5h-5zM240 302h5v5h-5zM240 307h5v5h-5zM240 312h5v5h-5zM245 327h5v5h-5zM245 332h5v5h-5zM250 342h5v5h-5zM255 347h5v5h-5zM260 352h5v5h-5zM375 352h5v5h-5zM270 362h5v5h-5zM280 367h10v5h-10zM345 367h5v5h-5zM300 372h30v5h-30z"/><path fill="#00f015" d="M400 107h10v5h-10zM355 112h25v5h-25zM425 112h5v5h-5zM335 117h5v5h-5zM435 117h5v5h-5zM315 122h10v5h-10zM445 122h5v5h-5zM305 127h5v5h-5zM450 127h5v5h-5zM295 132h5v5h-5zM455 132h5v5h-5zM290 137h5v5h-5zM285 142h5v5h-5zM460 142h5v5h-5zM280 152h5v5h-5zM465 152h5v5h-5zM275 162h5v5h-5zM470 167h5v5h-5zM270 172h5v5h-5zM475 177h5v5h-5zM265 182h5v5h-5zM260 192h5v5h-5zM480 197h5v5h-5zM255 202h5v5h-5zM480 202h5v5h-5zM255 207h5v5h-5zM250 217h5v5h-5zM485 217h5v5h-5zM485 222h5v5h-5zM245 232h5v5h-5zM245 237h5v5h-5zM240 252h5v5h-5zM485 252h5v5h-5zM240 257h5v5h-5zM240 262h5v5h-5zM240 267h5v5h-5zM240 272h5v5h-5zM240 277h5v5h-5zM240 282h5v5h-5zM240 287h5v5h-5zM240 292h5v5h-5zM240 297h5v5h-5zM245 312h5v5h-5zM245 317h5v5h-5zM245 322h5v5h-5zM410 327h5v5h-5zM250 332h5v5h-5zM250 337h5v5h-5zM255 342h5v5h-5zM380 347h5v5h-5zM265 357h5v5h-5zM365 357h5v5h-5zM275 362h5v5h-5zM355 362h5v5h-5zM290 367h5v5h-5zM340 367h5v5h-5z"/><path fill="#00f006" d="M380 112h45v5h-45zM340 117h20v5h-20zM430 117h5v5h-5zM325 122h10v5h-10zM440 122h5v5h-5zM310 127h10v5h-10zM445 127h5v5h-5zM300 132h10v5h-10zM450 132h5v5h-5zM295 137h5v5h-5zM455 137h5v5h-5zM290 142h5v5h-5zM285 147h5v5h-5zM460 147h5v5h-5zM280 157h5v5h-5zM465 157h5v5h-5zM275 167h5v5h-5zM470 172h5v5h-5zM270 177h5v5h-5zM475 182h5v5h-5zM265 187h5v5h-5zM475 187h5v5h-5zM260 197h5v5h-5zM480 207h5v5h-5zM255 212h5v5h-5zM250 222h5v5h-5zM250 227h5v5h-5zM485 227h5v5h-5zM485 232h5v5h-5zM245 242h5v5h-5zM245 247h5v5h-5zM485 247h5v5h-5zM245 252h5v5h-5zM245 257h5v5h-5zM245 262h5v5h-5zM245 267h5v5h-5zM480 267h5v5h-5zM245 272h5v5h-5zM245 277h5v5h-5zM475 277h5v5h-5zM245 282h5v5h-5zM245 287h5v5h-5zM245 292h5v5h-5zM245 297h5v5h-5zM245 302h5v5h-5zM245 307h5v5h-5zM250 322h5v5h-5zM250 327h5v5h-5zM395 332h5v5h-5zM255 337h5v5h-5zM390 337h5v5h-5zM385 342h5v5h-5zM260 347h5v5h-5zM265 352h5v5h-5zM370 352h5v5h-5zM270 357h5v5h-5zM280 362h10v5h-10zM350 362h5v5h-5zM295 367h15v5h-15zM320 367h20v5h-20z"/><path fill="#08f000" d="M360 117h70v5h-70zM335 122h60v5h-60zM415 122h25v5h-25zM320 127h35v5h-35zM430 127h15v5h-15zM310 132h25v5h-25zM440 132h10v5h-10zM300 137h20v5h-20zM445 137h10v5h-10zM295 142h15v5h-15zM450 142h10v5h-10zM290 147h10v5h-10zM455 147h5v5h-5zM285 152h15v5h-15zM460 152h5v5h-5zM285 157h10v5h-10zM460 157h5v5h-5zM280 162h10v5h-10zM465 162h5v5h-5zM280 167h5v5h-5zM465 167h5v5h-5zM275 172h10v5h-10zM275 177h5v5h-5zM470 177h5v5h-5zM270 182h10v5h-10zM470 182h5v5h-5zM270 187h5v5h-5zM265 192h5v5h-5zM475 192h5v5h-5zM265 197h5v5h-5zM475 197h5v5h-5zM260 202h5v5h-5zM260 207h5v5h-5zM480 212h5v5h-5zM255 217h5v5h-5zM250 232h5v5h-5zM485 237h5v5h-5zM485 242h5v5h-5zM480 262h5v5h-5zM470 282h5v5h-5zM450 302h5v5h-5zM250 307h5v5h-5zM445 307h5v5h-5zM250 312h5v5h-5zM440 312h5v5h-5zM250 317h5v5h-5zM430 317h5v5h-5zM415 322h10v5h-10zM255 327h5v5h-5zM400 327h10v5h-10zM255 332h5v5h-5zM260 337h5v5h-5zM385 337h5v5h-5zM260 342h10v5h-10zM380 342h5v5h-5zM265 347h10v5h-10zM370 347h10v5h-10zM270 352h10v5h-10zM360 352h10v5h-10zM275 357h20v5h-20zM345 357h20v5h-20zM290 362h60v5h-60zM310 367h10v5h-10z"/><path fill="#16f100" d="M395 122h20v5h-20zM355 127h75v5h-75zM335 132h55v5h-55zM415 132h25v5h-25zM320 137h35v5h-35zM430 137h15v5h-15zM310 142h25v5h-25zM440 142h10v5h-10zM300 147h25v5h-25zM445 147h10v5h-10zM300 152h15v5h-15zM450 152h10v5h-10zM295 157h10v5h-10zM455 157h5v5h-5zM290 162h10v5h-10zM455 162h10v5h-10zM285 167h10v5h-10zM460 167h5v5h-5zM285 172h10v5h-10zM465 172h5v5h-5zM280 177h10v5h-10zM465 177h5v5h-5zM280 182h5v5h-5zM275 187h5v5h-5zM470 187h5v5h-5zM270 192h5v5h-5zM270 197h5v5h-5zM265 202h5v5h-5zM475 202h5v5h-5zM260 212h5v5h-5zM480 217h5v5h-5zM255 222h5v5h-5zM250 237h5v5h-5zM475 272h5v5h-5zM465 287h5v5h-5zM250 292h5v5h-5zM460 292h5v5h-5zM250 297h5v5h-5zM455 297h5v5h-5zM250 302h5v5h-5zM440 307h5v5h-5zM255 312h5v5h-5zM435 312h5v5h-5zM255 317h5v5h-5zM420 317h10v5h-10zM255 322h5v5h-5zM410 322h5v5h-5zM260 327h5v5h-5zM395 327h5v5h-5zM260 332h10v5h-10zM385 332h10v5h-10zM265 337h5v5h-5zM380 337h5v5h-5zM270 342h10v5h-10zM370 342h10v5h-10zM275 347h10v5h-10zM360 347h10v5h-10zM280 352h25v5h-25zM340 352h20v5h-20zM295 357h50v5h-50z"/><path fill="#24f200" d="M390 132h25v5h-25zM355 137h75v5h-75zM335 142h50v5h-50zM420 142h20v5h-20zM325 147h30v5h-30zM435 147h10v5h-10zM315 152h25v5h-25zM440 152h10v5h-10zM305 157h20v5h-20zM445 157h10v5h-10zM300 162h20v5h-20zM450 162h5v5h-5zM295 167h15v5h-15zM455 167h5v5h-5zM295 172h10v5h-10zM460 172h5v5h-5zM290 177h10v5h-10zM460 177h5v5h-5zM285 182h10v5h-10zM465 182h5v5h-5zM280 187h10v5h-10zM465 187h5v5h-5zM275 192h10v5h-10zM470 192h5v5h-5zM275 197h5v5h-5zM470 197h5v5h-5zM270 202h5v5h-5zM265 207h5v5h-5zM475 207h5v5h-5zM480 222h5v5h-5zM255 227h5v5h-5zM480 227h5v5h-5zM250 242h5v5h-5zM480 257h5v5h-5zM250 277h5v5h-5zM470 277h5v5h-5zM250 282h5v5h-5zM250 287h5v5h-5zM255 302h5v5h-5zM445 302h5v5h-5zM255 307h5v5h-5zM425 312h10v5h-10zM260 317h5v5h-5zM415 317h5v5h-5zM260 322h5v5h-5zM400 322h10v5h-10zM265 327h5v5h-5zM390 327h5v5h-5zM270 332h5v5h-5zM380 332h5v5h-5zM270 337h10v5h-10zM370 337h10v5h-10zM280 342h15v5h-15zM355 342h15v5h-15zM285 347h75v5h-75zM305 352h35v5h-35z"/><path fill="#31f200" d="M385 142h35v5h-35zM355 147h80v5h-80zM340 152h45v5h-45zM425 152h15v5h-15zM325 157h30v5h-30zM435 157h10v5h-10zM320 162h20v5h-20zM440 162h10v5h-10zM310 167h20v5h-20zM445 167h10v5h-10zM305 172h15v5h-15zM450 172h10v5h-10zM300 177h10v5h-10zM455 177h5v5h-5zM295 182h10v5h-10zM460 182h5v5h-5zM290 187h10v5h-10zM285 192h10v5h-10zM465 192h5v5h-5zM280 197h5v5h-5zM275 202h5v5h-5zM470 202h5v5h-5zM270 207h5v5h-5zM265 212h5v5h-5zM475 212h5v5h-5zM260 217h5v5h-5zM255 232h5v5h-5zM480 232h5v5h-5zM250 247h5v5h-5zM480 252h5v5h-5zM250 257h5v5h-5zM250 262h5v5h-5zM250 267h5v5h-5zM475 267h5v5h-5zM250 272h5v5h-5zM465 282h5v5h-5zM460 287h5v5h-5zM255 292h5v5h-5zM455 292h5v5h-5zM255 297h5v5h-5zM450 297h5v5h-5zM440 302h5v5h-5zM260 307h5v5h-5zM430 307h10v5h-10zM260 312h5v5h-5zM420 312h5v5h-5zM265 317h5v5h-5zM410 317h5v5h-5zM265 322h10v5h-10zM390 322h10v5h-10zM270 327h10v5h-10zM375 327h15v5h-15zM275 332h10v5h-10zM370 332h10v5h-10zM280 337h20v5h-20zM355 337h15v5h-15zM295 342h60v5h-60z"/><path fill="#3ff300" d="M385 152h40v5h-40zM355 157h80v5h-80zM340 162h40v5h-40zM430 162h10v5h-10zM330 167h25v5h-25zM435 167h10v5h-10zM320 172h25v5h-25zM445 172h5v5h-5zM310 177h25v5h-25zM450 177h5v5h-5zM305 182h20v5h-20zM455 182h5v5h-5zM300 187h10v5h-10zM460 187h5v5h-5zM295 192h10v5h-10zM460 192h5v5h-5zM285 197h10v5h-10zM465 197h5v5h-5zM280 202h5v5h-5zM275 207h5v5h-5zM470 207h5v5h-5zM475 217h5v5h-5zM260 222h5v5h-5zM480 237h5v5h-5zM480 242h5v5h-5zM250 252h5v5h-5zM470 272h5v5h-5zM255 287h5v5h-5zM260 297h5v5h-5zM445 297h5v5h-5zM260 302h5v5h-5zM265 307h5v5h-5zM425 307h5v5h-5zM265 312h10v5h-10zM415 312h5v5h-5zM270 317h5v5h-5zM400 317h10v5h-10zM275 322h5v5h-5zM375 322h15v5h-15zM280 327h10v5h-10zM365 327h10v5h-10zM285 332h25v5h-25zM350 332h20v5h-20zM300 337h55v5h-55z"/><path fill="#4df400" d="M380 162h50v5h-50zM355 167h30v5h-30zM430 167h5v5h-5zM345 172h15v5h-15zM435 172h10v5h-10zM335 177h10v5h-10zM445 177h5v5h-5zM325 182h10v5h-10zM450 182h5v5h-5zM310 187h15v5h-15zM455 187h5v5h-5zM305 192h5v5h-5zM295 197h10v5h-10zM285 202h5v5h-5zM465 202h5v5h-5zM270 212h5v5h-5zM470 212h5v5h-5zM265 217h5v5h-5zM475 222h5v5h-5zM260 227h5v5h-5zM255 237h5v5h-5zM480 247h5v5h-5zM475 262h5v5h-5zM255 277h5v5h-5zM465 277h5v5h-5zM255 282h5v5h-5zM455 287h5v5h-5zM260 292h5v5h-5zM450 292h5v5h-5zM440 297h5v5h-5zM265 302h5v5h-5zM435 302h5v5h-5zM420 307h5v5h-5zM410 312h5v5h-5zM275 317h5v5h-5zM380 317h20v5h-20zM280 322h5v5h-5zM370 322h5v5h-5zM290 327h15v5h-15zM355 327h10v5h-10zM310 332h40v5h-40z"/><path fill="#5bf500" d="M385 167h5v5h-5zM425 167h5v5h-5zM360 172h15v5h-15zM345 177h5v5h-5zM440 177h5v5h-5zM335 182h5v5h-5zM325 187h5v5h-5zM310 192h5v5h-5zM460 197h5v5h-5zM290 202h5v5h-5zM280 207h5v5h-5zM275 212h5v5h-5zM475 227h5v5h-5zM255 242h5v5h-5zM475 257h5v5h-5zM470 267h5v5h-5zM255 272h5v5h-5zM460 282h5v5h-5zM445 292h5v5h-5zM430 302h5v5h-5zM270 307h5v5h-5zM415 307h5v5h-5zM275 312h5v5h-5zM405 312h5v5h-5zM280 317h5v5h-5zM375 317h5v5h-5zM285 322h5v5h-5zM365 322h5v5h-5zM305 327h15v5h-15zM325 327h5v5h-5zM345 327h10v5h-10z"/><path fill="#69f600" d="M390 167h15v5h-15zM415 167h10v5h-10zM375 172h5v5h-5zM430 172h5v5h-5zM350 177h5v5h-5zM340 182h5v5h-5zM445 182h5v5h-5zM330 187h5v5h-5zM450 187h5v5h-5zM315 192h5v5h-5zM455 192h5v5h-5zM305 197h5v5h-5zM295 202h5v5h-5zM285 207h5v5h-5zM465 207h5v5h-5zM270 217h5v5h-5zM470 217h5v5h-5zM265 222h5v5h-5zM260 232h5v5h-5zM475 232h5v5h-5zM255 247h5v5h-5zM255 262h5v5h-5zM255 267h5v5h-5zM260 287h5v5h-5zM450 287h5v5h-5zM440 292h5v5h-5zM265 297h5v5h-5zM435 297h5v5h-5zM425 302h5v5h-5zM410 307h5v5h-5zM395 312h10v5h-10zM290 322h10v5h-10zM360 322h5v5h-5zM320 327h5v5h-5zM330 327h15v5h-15z"/><path fill="#77f700" d="M405 167h10v5h-10zM380 172h10v5h-10zM425 172h5v5h-5zM355 177h20v5h-20zM435 177h5v5h-5zM345 182h5v5h-5zM335 187h5v5h-5zM320 192h5v5h-5zM310 197h5v5h-5zM300 202h5v5h-5zM460 202h5v5h-5zM280 212h5v5h-5zM470 222h5v5h-5zM475 237h5v5h-5zM255 252h5v5h-5zM475 252h5v5h-5zM255 257h5v5h-5zM465 272h5v5h-5zM460 277h5v5h-5zM260 282h5v5h-5zM455 282h5v5h-5zM445 287h5v5h-5zM430 297h5v5h-5zM270 302h5v5h-5zM415 302h10v5h-10zM275 307h5v5h-5zM405 307h5v5h-5zM280 312h5v5h-5zM380 312h15v5h-15zM285 317h5v5h-5zM370 317h5v5h-5zM300 322h10v5h-10zM355 322h5v5h-5z"/><path fill="#85f700" d="M390 172h5v5h-5zM420 172h5v5h-5zM375 177h5v5h-5zM350 182h5v5h-5zM440 182h5v5h-5zM445 187h5v5h-5zM325 192h5v5h-5zM450 192h5v5h-5zM315 197h5v5h-5zM455 197h5v5h-5zM305 202h5v5h-5zM290 207h5v5h-5zM465 212h5v5h-5zM275 217h5v5h-5zM265 227h5v5h-5zM260 237h5v5h-5zM475 242h5v5h-5zM475 247h5v5h-5zM470 262h5v5h-5zM260 277h5v5h-5zM450 282h5v5h-5zM265 292h5v5h-5zM435 292h5v5h-5zM425 297h5v5h-5zM400 307h5v5h-5zM375 312h5v5h-5zM290 317h5v5h-5zM365 317h5v5h-5zM310 322h45v5h-45z"/><path fill="#92f800" d="M395 172h25v5h-25zM380 177h5v5h-5zM430 177h5v5h-5zM355 182h10v5h-10zM340 187h5v5h-5zM330 192h5v5h-5zM320 197h5v5h-5zM310 202h5v5h-5zM295 207h5v5h-5zM460 207h5v5h-5zM285 212h5v5h-5zM270 222h5v5h-5zM470 227h5v5h-5zM260 242h5v5h-5zM465 267h5v5h-5zM260 272h5v5h-5zM455 277h5v5h-5zM440 287h5v5h-5zM430 292h5v5h-5zM270 297h5v5h-5zM420 297h5v5h-5zM410 302h5v5h-5zM280 307h5v5h-5zM390 307h10v5h-10zM285 312h5v5h-5zM370 312h5v5h-5zM295 317h10v5h-10zM360 317h5v5h-5z"/><path fill="#a0f900" d="M385 177h5v5h-5zM425 177h5v5h-5zM365 182h15v5h-15zM435 182h5v5h-5zM345 187h5v5h-5zM440 187h5v5h-5zM335 192h5v5h-5zM315 202h5v5h-5zM455 202h5v5h-5zM300 207h5v5h-5zM280 217h5v5h-5zM465 217h5v5h-5zM265 232h5v5h-5zM470 257h5v5h-5zM260 267h5v5h-5zM460 272h5v5h-5zM445 282h5v5h-5zM265 287h5v5h-5zM435 287h5v5h-5zM425 292h5v5h-5zM415 297h5v5h-5zM275 302h5v5h-5zM405 302h5v5h-5zM380 307h10v5h-10zM290 312h5v5h-5zM305 317h15v5h-15zM355 317h5v5h-5z"/><path fill="#aefa00" d="M390 177h10v5h-10zM420 177h5v5h-5zM380 182h5v5h-5zM430 182h5v5h-5zM350 187h5v5h-5zM445 192h5v5h-5zM325 197h5v5h-5zM450 197h5v5h-5zM305 207h5v5h-5zM290 212h5v5h-5zM460 212h5v5h-5zM275 222h5v5h-5zM270 227h5v5h-5zM470 232h5v5h-5zM265 237h5v5h-5zM260 247h5v5h-5zM260 252h5v5h-5zM260 257h5v5h-5zM260 262h5v5h-5zM450 277h5v5h-5zM265 282h5v5h-5zM440 282h5v5h-5zM430 287h5v5h-5zM270 292h5v5h-5zM420 292h5v5h-5zM410 297h5v5h-5zM400 302h5v5h-5zM285 307h5v5h-5zM375 307h5v5h-5zM295 312h5v5h-5zM365 312h5v5h-5zM320 317h35v5h-35z"/><path fill="#bcfb00" d="M400 177h20v5h-20zM355 187h20v5h-20zM435 187h5v5h-5zM340 192h5v5h-5zM330 197h5v5h-5zM320 202h5v5h-5zM310 207h10v5h-10zM455 207h5v5h-5zM295 212h5v5h-5zM285 217h5v5h-5zM465 222h5v5h-5zM470 237h5v5h-5zM470 252h5v5h-5zM465 262h5v5h-5zM425 287h5v5h-5zM415 292h5v5h-5zM275 297h5v5h-5zM405 297h5v5h-5zM280 302h5v5h-5zM390 302h10v5h-10zM370 307h5v5h-5zM300 312h5v5h-5zM360 312h5v5h-5z"/><path fill="#cafb00" d="M385 182h10v5h-10zM425 182h5v5h-5zM375 187h5v5h-5zM345 192h5v5h-5zM440 192h5v5h-5zM335 197h5v5h-5zM445 197h5v5h-5zM325 202h5v5h-5zM450 202h5v5h-5zM300 212h5v5h-5zM280 222h5v5h-5zM270 232h5v5h-5zM265 242h5v5h-5zM470 242h5v5h-5zM470 247h5v5h-5zM460 267h5v5h-5zM455 272h5v5h-5zM265 277h5v5h-5zM445 277h5v5h-5zM435 282h5v5h-5zM270 287h5v5h-5zM420 287h5v5h-5zM400 297h5v5h-5zM375 302h15v5h-15zM290 307h5v5h-5zM305 312h25v5h-25zM350 312h10v5h-10z"/><path fill="#d8fc00" d="M395 182h5v5h-5zM420 182h5v5h-5zM380 187h5v5h-5zM430 187h5v5h-5zM350 192h25v5h-25zM340 197h5v5h-5zM330 202h5v5h-5zM320 207h5v5h-5zM290 217h5v5h-5zM460 217h5v5h-5zM275 227h5v5h-5zM465 227h5v5h-5zM465 257h5v5h-5zM265 267h5v5h-5zM265 272h5v5h-5zM425 282h10v5h-10zM415 287h5v5h-5zM275 292h5v5h-5zM410 292h5v5h-5zM395 297h5v5h-5zM285 302h5v5h-5zM295 307h5v5h-5zM365 307h5v5h-5zM330 312h20v5h-20z"/><path fill="#e6fd00" d="M400 182h20v5h-20zM385 187h5v5h-5zM375 192h5v5h-5zM435 192h5v5h-5zM345 197h5v5h-5zM325 207h5v5h-5zM450 207h5v5h-5zM305 212h10v5h-10zM455 212h5v5h-5zM465 232h5v5h-5zM270 237h5v5h-5zM265 247h5v5h-5zM265 262h5v5h-5zM450 272h5v5h-5zM440 277h5v5h-5zM270 282h5v5h-5zM405 292h5v5h-5zM280 297h5v5h-5zM380 297h15v5h-15zM370 302h5v5h-5zM300 307h10v5h-10zM360 307h5v5h-5z"/><path fill="#f3fe00" d="M390 187h5v5h-5zM425 187h5v5h-5zM350 197h5v5h-5zM440 197h5v5h-5zM335 202h5v5h-5zM445 202h5v5h-5zM315 212h10v5h-10zM295 217h5v5h-5zM285 222h5v5h-5zM460 222h5v5h-5zM465 237h5v5h-5zM265 252h5v5h-5zM465 252h5v5h-5zM265 257h5v5h-5zM460 262h5v5h-5zM420 282h5v5h-5zM275 287h5v5h-5zM375 297h5v5h-5zM290 302h5v5h-5zM310 307h30v5h-30zM350 307h10v5h-10z"/><path fill="#fffc00" d="M395 187h5v5h-5zM420 187h5v5h-5zM380 192h5v5h-5zM430 192h5v5h-5zM355 197h25v5h-25zM340 202h5v5h-5zM330 207h5v5h-5zM325 212h5v5h-5zM300 217h10v5h-10zM455 217h5v5h-5zM290 222h5v5h-5zM280 227h5v5h-5zM275 232h5v5h-5zM275 237h5v5h-5zM270 242h5v5h-5zM465 242h5v5h-5zM455 267h5v5h-5zM270 277h5v5h-5zM435 277h5v5h-5zM280 292h5v5h-5zM285 297h5v5h-5zM295 302h5v5h-5zM365 302h5v5h-5zM340 307h10v5h-10z"/><path fill="#fff100" d="M400 187h20v5h-20zM385 192h5v5h-5zM425 192h5v5h-5zM380 197h5v5h-5zM435 197h5v5h-5zM345 202h10v5h-10zM370 202h5v5h-5zM440 202h5v5h-5zM335 207h5v5h-5zM445 207h5v5h-5zM330 212h5v5h-5zM450 212h5v5h-5zM310 217h10v5h-10zM295 222h10v5h-10zM285 227h10v5h-10zM460 227h5v5h-5zM280 232h5v5h-5zM275 242h5v5h-5zM270 247h5v5h-5zM465 247h5v5h-5zM270 252h5v5h-5zM460 257h5v5h-5zM270 267h5v5h-5zM270 272h5v5h-5zM445 272h5v5h-5zM275 282h5v5h-5zM300 302h10v5h-10zM360 302h5v5h-5z"/><path fill="#ffe600" d="M390 192h10v5h-10zM420 192h5v5h-5zM430 197h5v5h-5zM355 202h15v5h-15zM375 202h5v5h-5zM435 202h5v5h-5zM340 207h10v5h-10zM335 212h5v5h-5zM320 217h15v5h-15zM305 222h10v5h-10zM455 222h5v5h-5zM295 227h5v5h-5zM285 232h5v5h-5zM460 232h5v5h-5zM280 237h5v5h-5zM275 247h5v5h-5zM270 257h5v5h-5zM270 262h5v5h-5zM275 277h5v5h-5zM280 287h5v5h-5zM285 292h5v5h-5zM290 297h5v5h-5zM310 302h20v5h-20zM350 302h10v5h-10z"/><path fill="#ffdb00" d="M400 192h5v5h-5zM415 192h5v5h-5zM385 197h5v5h-5zM425 197h5v5h-5zM380 202h5v5h-5zM350 207h10v5h-10zM365 207h10v5h-10zM440 207h5v5h-5zM340 212h5v5h-5zM445 212h5v5h-5zM450 217h5v5h-5zM315 222h5v5h-5zM300 227h10v5h-10zM290 232h10v5h-10zM285 237h5v5h-5zM460 237h5v5h-5zM280 242h5v5h-5zM275 252h5v5h-5zM460 252h5v5h-5zM455 262h5v5h-5zM280 282h5v5h-5zM285 287h5v5h-5zM295 297h5v5h-5zM370 297h5v5h-5zM330 302h20v5h-20z"/><path fill="#ffd100" d="M405 192h10v5h-10zM390 197h5v5h-5zM420 197h5v5h-5zM430 202h5v5h-5zM360 207h5v5h-5zM375 207h5v5h-5zM345 212h5v5h-5zM335 217h5v5h-5zM320 222h10v5h-10zM310 227h10v5h-10zM455 227h5v5h-5zM300 232h5v5h-5zM290 237h5v5h-5zM285 242h5v5h-5zM460 242h5v5h-5zM280 247h5v5h-5zM275 257h5v5h-5zM450 267h5v5h-5zM275 272h5v5h-5zM290 292h5v5h-5zM300 297h10v5h-10zM355 297h5v5h-5z"/><path fill="#ffc600" d="M395 197h5v5h-5zM415 197h5v5h-5zM385 202h5v5h-5zM425 202h5v5h-5zM435 207h5v5h-5zM350 212h20v5h-20zM340 217h5v5h-5zM330 222h10v5h-10zM450 222h5v5h-5zM320 227h5v5h-5zM305 232h10v5h-10zM295 237h5v5h-5zM290 242h5v5h-5zM285 247h5v5h-5zM460 247h5v5h-5zM280 252h5v5h-5zM275 267h5v5h-5zM280 277h5v5h-5zM285 282h5v5h-5zM290 287h5v5h-5zM295 292h5v5h-5zM310 297h5v5h-5zM350 297h5v5h-5zM360 297h10v5h-10z"/><path fill="#ffbb00" d="M400 197h15v5h-15zM390 202h5v5h-5zM380 207h5v5h-5zM370 212h10v5h-10zM440 212h5v5h-5zM345 217h10v5h-10zM445 217h5v5h-5zM340 222h5v5h-5zM325 227h10v5h-10zM315 232h10v5h-10zM455 232h5v5h-5zM300 237h10v5h-10zM295 242h5v5h-5zM455 257h5v5h-5zM275 262h5v5h-5zM280 272h5v5h-5zM300 292h5v5h-5zM315 297h10v5h-10zM345 297h5v5h-5z"/><path fill="#ffb000" d="M420 202h5v5h-5zM430 207h5v5h-5zM355 217h5v5h-5zM345 222h5v5h-5zM335 227h5v5h-5zM450 227h5v5h-5zM325 232h10v5h-10zM310 237h5v5h-5zM455 237h5v5h-5zM300 242h5v5h-5zM290 247h5v5h-5zM285 252h5v5h-5zM455 252h5v5h-5zM280 257h5v5h-5zM285 277h5v5h-5zM290 282h5v5h-5zM295 287h5v5h-5zM305 292h5v5h-5zM355 292h5v5h-5zM325 297h20v5h-20z"/><path fill="#ffa500" d="M395 202h5v5h-5zM410 202h10v5h-10zM385 207h5v5h-5zM425 207h5v5h-5zM435 212h5v5h-5zM360 217h15v5h-15zM440 217h5v5h-5zM350 222h5v5h-5zM445 222h5v5h-5zM340 227h5v5h-5zM335 232h5v5h-5zM315 237h10v5h-10zM455 242h5v5h-5zM295 247h5v5h-5zM455 247h5v5h-5zM450 262h5v5h-5zM280 267h5v5h-5zM300 287h5v5h-5zM310 292h5v5h-5zM360 292h5v5h-5z"/><path fill="#ff9a00" d="M400 202h10v5h-10zM380 212h5v5h-5zM430 212h5v5h-5zM375 217h5v5h-5zM355 222h5v5h-5zM345 227h5v5h-5zM340 232h5v5h-5zM450 232h5v5h-5zM325 237h15v5h-15zM305 242h10v5h-10zM290 252h5v5h-5zM285 257h5v5h-5zM280 262h5v5h-5zM285 272h5v5h-5zM440 272h5v5h-5zM290 277h5v5h-5zM295 282h5v5h-5zM305 287h5v5h-5zM410 287h5v5h-5zM315 292h10v5h-10zM350 292h5v5h-5zM365 292h5v5h-5zM400 292h5v5h-5z"/><path fill="#fe9000" d="M390 207h5v5h-5zM420 207h5v5h-5zM435 217h5v5h-5zM360 222h15v5h-15zM440 222h5v5h-5zM350 227h5v5h-5zM445 227h5v5h-5zM345 232h5v5h-5zM340 237h5v5h-5zM450 237h5v5h-5zM315 242h10v5h-10zM300 247h15v5h-15zM295 252h10v5h-10zM290 257h10v5h-10zM450 257h5v5h-5zM285 262h15v5h-15zM285 267h20v5h-20zM445 267h5v5h-5zM290 272h20v5h-20zM295 277h20v5h-20zM300 282h25v5h-25zM355 282h10v5h-10zM415 282h5v5h-5zM310 287h100v5h-100zM325 292h25v5h-25zM370 292h30v5h-30z"/><path fill="#fd8600" d="M395 207h25v5h-25zM385 212h5v5h-5zM425 212h5v5h-5zM355 227h5v5h-5zM350 232h5v5h-5zM345 237h5v5h-5zM325 242h15v5h-15zM450 242h5v5h-5zM315 247h10v5h-10zM305 252h15v5h-15zM450 252h5v5h-5zM300 257h15v5h-15zM300 262h20v5h-20zM305 267h20v5h-20zM310 272h20v5h-20zM315 277h55v5h-55zM420 277h15v5h-15zM325 282h30v5h-30zM365 282h50v5h-50z"/><path fill="#fc7d00" d="M390 212h35v5h-35zM380 217h5v5h-5zM425 217h10v5h-10zM375 222h5v5h-5zM435 222h5v5h-5zM360 227h15v5h-15zM355 232h5v5h-5zM445 232h5v5h-5zM350 237h5v5h-5zM340 242h10v5h-10zM325 247h15v5h-15zM450 247h5v5h-5zM320 252h15v5h-15zM315 257h15v5h-15zM320 262h15v5h-15zM445 262h5v5h-5zM325 267h20v5h-20zM440 267h5v5h-5zM330 272h40v5h-40zM425 272h15v5h-15zM370 277h20v5h-20zM395 277h25v5h-25z"/><path fill="#fb7300" d="M385 217h10v5h-10zM405 217h20v5h-20zM425 222h10v5h-10zM435 227h10v5h-10zM360 232h5v5h-5zM440 232h5v5h-5zM355 237h5v5h-5zM445 237h5v5h-5zM350 242h5v5h-5zM340 247h5v5h-5zM335 252h10v5h-10zM445 252h5v5h-5zM330 257h20v5h-20zM445 257h5v5h-5zM335 262h20v5h-20zM435 262h10v5h-10zM345 267h20v5h-20zM430 267h10v5h-10zM370 272h10v5h-10zM405 272h20v5h-20zM390 277h5v5h-5z"/><path fill="#f96a00" d="M395 217h10v5h-10zM380 222h5v5h-5zM415 222h10v5h-10zM375 227h5v5h-5zM430 227h5v5h-5zM365 232h10v5h-10zM435 232h5v5h-5zM360 237h5v5h-5zM440 237h5v5h-5zM355 242h5v5h-5zM440 242h10v5h-10zM345 247h5v5h-5zM445 247h5v5h-5zM345 252h5v5h-5zM440 252h5v5h-5zM350 257h5v5h-5zM435 257h10v5h-10zM355 262h10v5h-10zM430 262h5v5h-5zM365 267h10v5h-10zM415 267h15v5h-15zM380 272h25v5h-25z"/><path fill="#f86000" d="M385 222h30v5h-30zM380 227h5v5h-5zM420 227h10v5h-10zM430 232h5v5h-5zM365 237h10v5h-10zM435 237h5v5h-5zM360 242h5v5h-5zM435 242h5v5h-5zM350 247h10v5h-10zM435 247h10v5h-10zM350 252h10v5h-10zM435 252h5v5h-5zM355 257h10v5h-10zM430 257h5v5h-5zM365 262h10v5h-10zM420 262h10v5h-10zM375 267h40v5h-40z"/><path fill="#f75600" d="M385 227h35v5h-35zM375 232h5v5h-5zM420 232h10v5h-10zM430 237h5v5h-5zM365 242h5v5h-5zM430 242h5v5h-5zM360 247h5v5h-5zM430 247h5v5h-5zM360 252h5v5h-5zM430 252h5v5h-5zM365 257h10v5h-10zM420 257h10v5h-10zM375 262h45v5h-45z"/><path fill="#f64d00" d="M380 232h40v5h-40zM375 237h5v5h-5zM420 237h10v5h-10zM370 242h5v5h-5zM425 242h5v5h-5zM365 247h5v5h-5zM425 247h5v5h-5zM365 252h10v5h-10zM420 252h10v5h-10zM375 257h25v5h-25zM405 257h15v5h-15z"/><path fill="#f54300" d="M380 237h20v5h-20zM410 237h10v5h-10zM375 242h15v5h-15zM420 242h5v5h-5zM370 247h15v5h-15zM420 247h5v5h-5zM375 252h25v5h-25zM405 252h15v5h-15zM400 257h5v5h-5z"/><path fill="#f43a00" d="M400 237h10v5h-10zM390 242h20v5h-20zM415 242h5v5h-5zM385 247h35v5h-35zM400 252h5v5h-5z"/><path fill="#f33000" d="M410 242h5v5h-5z"/></g>
<g filter="url(#blurB)"><path fill="rgb(0,128,255)" d="M337.4,466.2 L348.6,453.4 L370.6,428.7 L397.3,398.8 L417.3,376.5 L437.4,354.1 L457.5,331.9 L477.7,309.7 L503.8,279.3 L536.5,241.4 L569.1,203.5 L614.7,150.3 L633.9,127.3 L614.3,110.9 L595.1,133.9 L550.9,188.3 L519.4,227.2 L488.0,266.1 L462.8,297.2 L444.5,321.0 L426.2,344.9 L407.8,368.6 L389.4,392.3 L364.8,423.9 L344.5,449.9 L333.9,463.2Z"/><path fill="rgb(0,240,255)" d="M336.5,465.4 L347.9,452.8 L370.0,428.3 L396.7,398.4 L416.8,376.1 L436.8,353.7 L456.9,331.4 L477.1,309.1 L503.2,278.8 L535.8,240.9 L568.4,202.9 L614.1,149.8 L633.3,126.8 L614.9,111.4 L595.7,134.5 L551.6,188.9 L520.1,227.7 L488.6,266.6 L463.4,297.7 L445.1,321.5 L426.8,345.3 L408.4,369.0 L390.0,392.8 L365.4,424.3 L345.2,450.5 L334.8,464.0Z"/><path fill="rgb(0,240,0)" d="M335.6,464.7 L346.5,451.6 L367.7,426.3 L395.8,397.7 L416.1,375.5 L436.2,353.2 L456.3,330.8 L476.4,308.5 L502.6,278.3 L535.2,240.4 L567.8,202.4 L613.4,149.3 L632.7,126.3 L615.5,111.9 L596.3,135.0 L552.2,189.4 L520.7,228.2 L489.2,267.1 L464.1,298.3 L445.8,322.1 L427.4,345.8 L409.0,369.6 L390.9,393.5 L367.7,426.3 L346.5,451.6 L335.6,464.7Z"/><path fill="rgb(255,255,0)" d="M335.6,464.7 L346.5,451.6 L367.7,426.3 L393.3,395.6 L415.3,374.8 L435.5,352.6 L455.6,330.3 L475.8,308.0 L502.0,277.8 L534.7,239.9 L567.3,202.0 L612.9,148.9 L632.2,125.8 L616.0,112.4 L596.8,135.4 L552.7,189.8 L521.2,228.7 L489.8,267.6 L464.8,298.8 L446.4,322.6 L428.1,346.4 L409.9,370.3 L393.3,395.6 L367.7,426.3 L346.5,451.6 L335.6,464.7Z"/><path fill="rgb(255,150,0)" d="M335.6,464.7 L346.5,451.6 L367.7,426.3 L393.3,395.6 L414.3,374.0 L435.2,352.3 L455.3,330.0 L475.4,307.7 L501.7,277.5 L534.4,239.7 L567.1,201.8 L612.7,148.7 L631.9,125.7 L616.3,112.5 L597.0,135.6 L552.9,190.0 L521.5,228.9 L490.1,267.9 L465.1,299.1 L446.8,322.9 L428.4,346.7 L410.8,371.1 L393.3,395.6 L367.7,426.3 L346.5,451.6 L335.6,464.7Z"/><path fill="rgb(240,20,0)" d="M335.6,464.7 L346.5,451.6 L367.7,426.3 L393.3,395.6 L412.6,372.5 L434.4,351.6 L454.7,329.5 L474.9,307.3 L501.3,277.2 L534.1,239.4 L566.8,201.5 L612.4,148.4 L631.6,125.4 L616.6,112.8 L597.3,135.8 L553.2,190.3 L521.8,229.2 L490.5,268.2 L465.6,299.5 L447.4,323.4 L429.2,347.4 L412.6,372.5 L393.3,395.6 L367.7,426.3 L346.5,451.6 L335.6,464.7Z"/><path fill="rgb(255,255,255)" d="M335.6,464.7 L346.5,451.6 L367.7,426.3 L393.3,395.6 L412.6,372.5 L433.5,350.9 L454.3,329.2 L474.7,307.1 L501.1,277.0 L533.9,239.3 L566.6,201.4 L612.3,148.3 L631.5,125.3 L616.7,112.9 L597.5,136.0 L553.4,190.4 L522.0,229.3 L490.7,268.4 L465.8,299.7 L447.8,323.7 L430.1,348.1 L412.6,372.5 L393.3,395.6 L367.7,426.3 L346.5,451.6 L335.6,464.7Z"/></g>
</g>
<line x1="179.5" y1="243.8" x2="601" y2="243.8" stroke="#fff" stroke-width="4.8" stroke-linecap="round" stroke-dasharray="13 11.5 0.1 12.4"/>
<line x1="421.6" y1="46" x2="421.6" y2="450" stroke="#fff" stroke-width="4.8" stroke-linecap="round" stroke-dasharray="15 10 0.1 12"/>
<defs><linearGradient id="gph" x1="0" y1="0" x2="0" y2="1"><stop offset="0" stop-color="#b2ae9e"/><stop offset="0.38" stop-color="#aeaa9a"/><stop offset="0.42" stop-color="#c4c0b0"/><stop offset="0.5" stop-color="#aaa696"/><stop offset="1" stop-color="#a8a494"/></linearGradient><linearGradient id="gliq" x1="0" y1="0" x2="0" y2="1"><stop offset="0" stop-color="#8c8088"/><stop offset="0.3" stop-color="#7e707a"/><stop offset="1" stop-color="#66565f"/></linearGradient><linearGradient id="pph" x1="0" y1="0" x2="0" y2="1"><stop offset="0" stop-color="#0a0828"/><stop offset="0.45" stop-color="#141040"/><stop offset="0.7" stop-color="#1c1458"/><stop offset="1" stop-color="#140c30"/></linearGradient><linearGradient id="pliq" x1="0" y1="0" x2="1" y2="0"><stop offset="0" stop-color="#e8b0c8"/><stop offset="0.25" stop-color="#f6d0dc"/><stop offset="0.75" stop-color="#f6d0dc"/><stop offset="1" stop-color="#e8b0c8"/></linearGradient></defs>
<rect x="432.7" y="269" width="81" height="172.6" fill="url(#gph)" />
<rect x="440" y="277" width="10" height="158" fill="#bcb8a8" />
<rect x="489" y="277" width="19" height="158" fill="#c0bcae" />
<rect x="447" y="277" width="43" height="48" fill="#d2cec2" />
<path d="M452,279 L487,279 L487,305 Q470,322 452,305 Z" fill="#dcdad0"/>
<rect x="452" y="318" width="35" height="107" fill="url(#gliq)" />
<path d="M451,312 Q470,325 488,312 L488,318 Q470,330 451,318 Z" fill="#983040"/>
<rect x="449" y="425" width="41" height="10" fill="#c4c0b4" />
<rect x="521.8" y="272.6" width="81.2" height="165.4" fill="url(#pph)" />
<rect x="542.3" y="287.2" width="41.2" height="147.4" rx="3" fill="#c890c8"/>
<rect x="545" y="320" width="36" height="112" fill="url(#pliq)" />
<rect x="549" y="291" width="29" height="34" rx="5" fill="#3c3040"/>
<ellipse cx="563" cy="302" rx="8" ry="9" fill="#6a6448"/>
<rect x="542" y="430" width="42" height="6" fill="#e890a0" />
<rect x="175" y="42" width="429" height="410" fill="none" stroke="#000" stroke-width="4"/>
<line x1="175" y1="452" x2="175" y2="461" stroke="#000" stroke-width="3.5" />
<line x1="217.8" y1="452" x2="217.8" y2="457" stroke="#000" stroke-width="3.5" />
<line x1="260.6" y1="452" x2="260.6" y2="461" stroke="#000" stroke-width="3.5" />
<line x1="303.4" y1="452" x2="303.4" y2="457" stroke="#000" stroke-width="3.5" />
<line x1="346.2" y1="452" x2="346.2" y2="461" stroke="#000" stroke-width="3.5" />
<line x1="389" y1="452" x2="389" y2="457" stroke="#000" stroke-width="3.5" />
<line x1="431.8" y1="452" x2="431.8" y2="461" stroke="#000" stroke-width="3.5" />
<line x1="474.6" y1="452" x2="474.6" y2="457" stroke="#000" stroke-width="3.5" />
<line x1="517.4" y1="452" x2="517.4" y2="461" stroke="#000" stroke-width="3.5" />
<line x1="560.2" y1="452" x2="560.2" y2="457" stroke="#000" stroke-width="3.5" />
<line x1="603" y1="452" x2="603" y2="461" stroke="#000" stroke-width="3.5" />
<line x1="166" y1="452" x2="175" y2="452" stroke="#000" stroke-width="3.5" />
<line x1="170" y1="400.8" x2="175" y2="400.8" stroke="#000" stroke-width="3.5" />
<line x1="166" y1="349.5" x2="175" y2="349.5" stroke="#000" stroke-width="3.5" />
<line x1="170" y1="298.2" x2="175" y2="298.2" stroke="#000" stroke-width="3.5" />
<line x1="166" y1="247" x2="175" y2="247" stroke="#000" stroke-width="3.5" />
<line x1="170" y1="195.8" x2="175" y2="195.8" stroke="#000" stroke-width="3.5" />
<line x1="166" y1="144.5" x2="175" y2="144.5" stroke="#000" stroke-width="3.5" />
<line x1="170" y1="93.3" x2="175" y2="93.3" stroke="#000" stroke-width="3.5" />
<line x1="166" y1="42" x2="175" y2="42" stroke="#000" stroke-width="3.5" />
<text x="175" y="486.4" font-family='"Liberation Sans", sans-serif' font-size="25" font-weight="bold" fill="#000" text-anchor="middle" textLength="40.7" lengthAdjust="spacingAndGlyphs" >450</text>
<text x="260.6" y="486.4" font-family='"Liberation Sans", sans-serif' font-size="25" font-weight="bold" fill="#000" text-anchor="middle" textLength="40.7" lengthAdjust="spacingAndGlyphs" >500</text>
<text x="346.2" y="486.4" font-family='"Liberation Sans", sans-serif' font-size="25" font-weight="bold" fill="#000" text-anchor="middle" textLength="40.7" lengthAdjust="spacingAndGlyphs" >550</text>
<text x="431.8" y="486.4" font-family='"Liberation Sans", sans-serif' font-size="25" font-weight="bold" fill="#000" text-anchor="middle" textLength="40.7" lengthAdjust="spacingAndGlyphs" >600</text>
<text x="517.4" y="486.4" font-family='"Liberation Sans", sans-serif' font-size="25" font-weight="bold" fill="#000" text-anchor="middle" textLength="40.7" lengthAdjust="spacingAndGlyphs" >650</text>
<text x="603" y="486.4" font-family='"Liberation Sans", sans-serif' font-size="25" font-weight="bold" fill="#000" text-anchor="middle" textLength="40.7" lengthAdjust="spacingAndGlyphs" >700</text>
<text x="161.3" y="460.4" font-family='"Liberation Sans", sans-serif' font-size="25.5" font-weight="bold" fill="#000" text-anchor="end" textLength="41.5" lengthAdjust="spacingAndGlyphs" >550</text>
<text x="161.3" y="357.9" font-family='"Liberation Sans", sans-serif' font-size="25.5" font-weight="bold" fill="#000" text-anchor="end" textLength="41.5" lengthAdjust="spacingAndGlyphs" >600</text>
<text x="161.3" y="255.4" font-family='"Liberation Sans", sans-serif' font-size="25.5" font-weight="bold" fill="#000" text-anchor="end" textLength="41.5" lengthAdjust="spacingAndGlyphs" >650</text>
<text x="161.3" y="152.9" font-family='"Liberation Sans", sans-serif' font-size="25.5" font-weight="bold" fill="#000" text-anchor="end" textLength="41.5" lengthAdjust="spacingAndGlyphs" >700</text>
<text x="161.3" y="50.4" font-family='"Liberation Sans", sans-serif' font-size="25.5" font-weight="bold" fill="#000" text-anchor="end" textLength="41.5" lengthAdjust="spacingAndGlyphs" >750</text>
<text transform="translate(100.9,268.5) rotate(-90)" font-family='"Liberation Sans", sans-serif' font-size="30.8" font-weight="bold" fill="#000" text-anchor="middle" textLength="384" lengthAdjust="spacingAndGlyphs" >Emission wavelength (nm)</text>
<text x="390" y="533.5" font-family='"Liberation Sans", sans-serif' font-size="31" font-weight="bold" fill="#000" text-anchor="middle" textLength="396" lengthAdjust="spacingAndGlyphs" >Excitation wavelength (nm)</text>
<text x="5.5" y="33.3" font-family='"Liberation Serif", serif' font-size="44" font-weight="bold" fill="#000" text-anchor="start" textLength="49" lengthAdjust="spacingAndGlyphs" >(a)</text>
<text x="261" y="199.4" font-family='"Liberation Sans", sans-serif' font-size="30" font-weight="bold" fill="#000" text-anchor="start" textLength="72" lengthAdjust="spacingAndGlyphs" >(594,</text>
<text x="354" y="199.4" font-family='"Liberation Sans", sans-serif' font-size="30" font-weight="bold" fill="#000" text-anchor="start" textLength="60" lengthAdjust="spacingAndGlyphs" >654)</text>
<defs><linearGradient id="cbar" x1="0" y1="0" x2="0" y2="1"><stop offset="0" stop-color="#ff1000"/><stop offset="0.17" stop-color="#ff9000"/><stop offset="0.29" stop-color="#ffff00"/><stop offset="0.5" stop-color="#00ff00"/><stop offset="0.73" stop-color="#00f0ff"/><stop offset="0.87" stop-color="#0080ff"/><stop offset="1" stop-color="#0010ff"/></linearGradient></defs>
<rect x="611.8" y="41.5" width="6.5" height="411.5" fill="url(#cbar)" />
<defs><linearGradient id="specg" gradientUnits="userSpaceOnUse" x1="730.7" y1="0" x2="1288.7" y2="0">
<stop offset="0.0000" stop-color="#8a30c0"/>
<stop offset="0.0694" stop-color="#5020c0"/>
<stop offset="0.1250" stop-color="#1010c8"/>
<stop offset="0.1944" stop-color="#0060ff"/>
<stop offset="0.2500" stop-color="#00ffff"/>
<stop offset="0.3056" stop-color="#00ff00"/>
<stop offset="0.4028" stop-color="#a0ff00"/>
<stop offset="0.4722" stop-color="#ffff00"/>
<stop offset="0.5556" stop-color="#ffa000"/>
<stop offset="0.6167" stop-color="#ff3000"/>
<stop offset="0.6389" stop-color="#ff0000"/>
<stop offset="0.8056" stop-color="#ff0000"/>
<stop offset="0.8889" stop-color="#c00000"/>
<stop offset="1.0000" stop-color="#5a0000"/>
</linearGradient></defs>
<path d="M731.5,451 L731.5,448.8 C738,448.6 757.8,448.2 770.7,447.7 C783.6,447.2 796.1,446.5 808.8,445.6 C821.5,444.7 836.9,443.6 846.8,442.4 C856.7,441.2 861,440.1 868,438.2 C875,436.3 882.7,433.6 889,430.8 C895.3,428 900.4,425 906,421.3 C911.6,417.6 918,412 922.9,408.6 C927.8,405.2 931,404 935.6,401.2 C940.2,398.4 945.7,395.4 950.3,391.7 C954.9,388 959.5,383.6 963,379 C966.5,374.4 968.7,369.9 971.5,364.2 C974.3,358.5 977.3,351.1 980,345 C982.7,338.9 984.4,338 987.8,327.7 C991.2,317.4 996.2,298.6 1000.4,283.3 C1004.6,268 1008.8,248.5 1013,235.8 C1017.2,223.1 1020.5,217.3 1025.8,207.3 C1031.1,197.3 1038.5,185.7 1044.8,175.6 C1051.1,165.5 1057.4,156.3 1063.8,147 C1070.2,137.7 1078.5,125.7 1082.9,120 C1087.3,114.3 1087.6,114.4 1090,113 C1092.4,111.6 1094.8,111.4 1097.1,111.6 C1099.4,111.8 1101.6,112.3 1104,114 C1106.4,115.7 1107,115.1 1111.4,121.7 C1115.8,128.3 1124.6,140.2 1130.4,153.4 C1136.2,166.6 1140.9,183.6 1146.2,201 C1151.5,218.4 1156.8,241.1 1162.1,258 C1167.4,274.9 1172.7,289.7 1178,302.4 C1183.3,315.1 1187.5,324.5 1193.8,334 C1200.1,343.5 1207.5,350.4 1216,359.4 C1224.5,368.4 1235.5,380.1 1244.5,388 C1253.5,395.9 1262.2,402 1269.8,407 C1277.4,412 1286.6,416.2 1290,418 L1290,451 Z" fill="url(#specg)"/>
<defs><linearGradient id="cuv" x1="0" y1="0" x2="0" y2="1"><stop offset="0" stop-color="#e82c10"/><stop offset="0.08" stop-color="#b81c08"/><stop offset="0.5" stop-color="#a01806"/><stop offset="0.85" stop-color="#901404"/><stop offset="1" stop-color="#601004"/></linearGradient></defs>
<rect x="747" y="46" width="139.5" height="242" fill="#030000" />
<rect x="818" y="58" width="58" height="214" rx="3" fill="#140402"/>
<rect x="823" y="104" width="49" height="162" fill="url(#cuv)" />
<path d="M823,104 Q847,112 872,104 L872,112 Q847,118 823,112 Z" fill="#ff4020"/>
<rect x="763" y="57" width="50" height="62" rx="4" fill="none" stroke="#1a0808" stroke-width="2"/>
<rect x="776" y="104" width="14" height="2" fill="#e0d8d8" />
<rect x="758" y="252" width="62" height="22" fill="#1c0402" />
<rect x="823" y="245" width="49" height="10" fill="#b82208" />
<rect x="731.5" y="36" width="559.0" height="415" fill="none" stroke="#000" stroke-width="2"/>
<line x1="730.7" y1="451" x2="730.7" y2="458" stroke="#000" stroke-width="2" />
<line x1="769.5" y1="451" x2="769.5" y2="456" stroke="#000" stroke-width="2" />
<line x1="808.2" y1="451" x2="808.2" y2="458" stroke="#000" stroke-width="2" />
<line x1="847" y1="451" x2="847" y2="456" stroke="#000" stroke-width="2" />
<line x1="885.7" y1="451" x2="885.7" y2="458" stroke="#000" stroke-width="2" />
<line x1="924.5" y1="451" x2="924.5" y2="456" stroke="#000" stroke-width="2" />
<line x1="963.2" y1="451" x2="963.2" y2="458" stroke="#000" stroke-width="2" />
<line x1="1002" y1="451" x2="1002" y2="456" stroke="#000" stroke-width="2" />
<line x1="1040.7" y1="451" x2="1040.7" y2="458" stroke="#000" stroke-width="2" />
<line x1="1079.5" y1="451" x2="1079.5" y2="456" stroke="#000" stroke-width="2" />
<line x1="1118.2" y1="451" x2="1118.2" y2="458" stroke="#000" stroke-width="2" />
<line x1="1157" y1="451" x2="1157" y2="456" stroke="#000" stroke-width="2" />
<line x1="1195.7" y1="451" x2="1195.7" y2="458" stroke="#000" stroke-width="2" />
<line x1="1234.5" y1="451" x2="1234.5" y2="456" stroke="#000" stroke-width="2" />
<line x1="1273.2" y1="451" x2="1273.2" y2="458" stroke="#000" stroke-width="2" />
<line x1="722.5" y1="450.5" x2="731.5" y2="450.5" stroke="#000" stroke-width="2" />
<line x1="725.5" y1="412.9" x2="731.5" y2="412.9" stroke="#000" stroke-width="2" />
<line x1="722.5" y1="375.3" x2="731.5" y2="375.3" stroke="#000" stroke-width="2" />
<line x1="725.5" y1="337.7" x2="731.5" y2="337.7" stroke="#000" stroke-width="2" />
<line x1="722.5" y1="300.1" x2="731.5" y2="300.1" stroke="#000" stroke-width="2" />
<line x1="725.5" y1="262.5" x2="731.5" y2="262.5" stroke="#000" stroke-width="2" />
<line x1="722.5" y1="224.9" x2="731.5" y2="224.9" stroke="#000" stroke-width="2" />
<line x1="725.5" y1="187.3" x2="731.5" y2="187.3" stroke="#000" stroke-width="2" />
<line x1="722.5" y1="149.7" x2="731.5" y2="149.7" stroke="#000" stroke-width="2" />
<line x1="725.5" y1="112.1" x2="731.5" y2="112.1" stroke="#000" stroke-width="2" />
<line x1="722.5" y1="74.5" x2="731.5" y2="74.5" stroke="#000" stroke-width="2" />
<text x="731.2" y="486" font-family='"Liberation Sans", sans-serif' font-size="29" font-weight="bold" fill="#000" text-anchor="middle" textLength="47.5" lengthAdjust="spacingAndGlyphs" >400</text>
<text x="808.7" y="486" font-family='"Liberation Sans", sans-serif' font-size="29" font-weight="bold" fill="#000" text-anchor="middle" textLength="47.5" lengthAdjust="spacingAndGlyphs" >450</text>
<text x="886.2" y="486" font-family='"Liberation Sans", sans-serif' font-size="29" font-weight="bold" fill="#000" text-anchor="middle" textLength="47.5" lengthAdjust="spacingAndGlyphs" >500</text>
<text x="963.7" y="486" font-family='"Liberation Sans", sans-serif' font-size="29" font-weight="bold" fill="#000" text-anchor="middle" textLength="47.5" lengthAdjust="spacingAndGlyphs" >550</text>
<text x="1041.2" y="486" font-family='"Liberation Sans", sans-serif' font-size="29" font-weight="bold" fill="#000" text-anchor="middle" textLength="47.5" lengthAdjust="spacingAndGlyphs" >600</text>
<text x="1118.7" y="486" font-family='"Liberation Sans", sans-serif' font-size="29" font-weight="bold" fill="#000" text-anchor="middle" textLength="47.5" lengthAdjust="spacingAndGlyphs" >650</text>
<text x="1196.2" y="486" font-family='"Liberation Sans", sans-serif' font-size="29" font-weight="bold" fill="#000" text-anchor="middle" textLength="47.5" lengthAdjust="spacingAndGlyphs" >700</text>
<text x="1273.7" y="486" font-family='"Liberation Sans", sans-serif' font-size="29" font-weight="bold" fill="#000" text-anchor="middle" textLength="47.5" lengthAdjust="spacingAndGlyphs" >750</text>
<text transform="translate(707.3,233.5) rotate(-90)" font-family='"Liberation Sans", sans-serif' font-size="35" font-weight="bold" fill="#000" text-anchor="middle" textLength="287" lengthAdjust="spacingAndGlyphs" >CL Intensity (a.u.)</text>
<text x="1001.5" y="532" font-family='"Liberation Sans", sans-serif' font-size="29" font-weight="bold" fill="#000" text-anchor="middle" textLength="231" lengthAdjust="spacingAndGlyphs" >Wavelength (nm)</text>
<text x="655.5" y="33.3" font-family='"Liberation Serif", serif' font-size="44" font-weight="bold" fill="#000" text-anchor="start" textLength="51.5" lengthAdjust="spacingAndGlyphs" >(b)</text>
<rect x="85" y="545" width="93" height="413" fill="#ff00ff" />
<rect x="359.6" y="547" width="74" height="408" rx="7" fill="#ffff00"/>
<path d="M84.7,779 C86.2,776.2 90.7,768.7 94,762 C97.3,755.3 101.6,746.7 104.6,739 C107.6,731.3 109.5,724.3 112,716 C114.5,707.7 117,698.3 119.5,689 C122,679.7 124.9,667.3 127,660 C129.1,652.7 130.5,648.2 132,645 C133.5,641.8 134.7,641.5 136,641 C137.3,640.5 138.6,641 140,642 C141.4,643 142.5,643.2 144.5,647 C146.5,650.8 149.5,658 152,665 C154.5,672 156.9,682.3 159.4,689 C161.9,695.7 164.1,700 167,705 C169.9,710 173.5,715.5 176.8,719 C180.1,722.5 183.3,723.9 187,726 C190.7,728.1 195.4,729.9 199.2,731.7 C203,733.5 206.2,735 210,737 C213.8,739 218.7,742.8 221.7,744 C224.7,745.2 225.6,744.7 228,744 C230.4,743.3 232.5,741.2 236,740 C239.5,738.8 244.7,736.7 249,736.7 C253.3,736.7 257,737.1 262,740 C267,742.9 274,749.3 279,754 C284,758.7 287.9,763 292,768 C296.1,773 299.8,778.7 303.8,784 C307.8,789.3 313,796.5 316,800 C319,803.5 319.9,803.9 322,805 C324.1,806.1 326.4,806.7 328.7,806.4 C331,806.1 332.7,805.1 336,803 C339.3,800.9 344.7,796.3 348.7,794 C352.7,791.7 356.7,791.1 360,789 C363.3,786.9 365.9,784.7 368.6,781.5 C371.3,778.3 373.5,775 376,770 C378.5,765 381.2,756.8 383.5,751.6 C385.8,746.4 387.9,741.9 390,739 C392.1,736.1 394.2,734.3 396,734 C397.8,733.7 398.9,733.7 401,737 C403.1,740.3 405.9,746 408.4,754 C410.9,762 413.5,775 416,785 C418.5,795 420.9,804.8 423.4,814 C425.9,823.2 428.5,832.5 431,840 C433.5,847.5 435.5,852.7 438.3,858.7 C441.1,864.7 444.7,870.6 448,876 C451.3,881.4 454.3,886.2 458.3,891 C462.3,895.8 467,900.4 472,905 C477,909.6 482.9,914.8 488.1,918.5 C493.3,922.2 498,924.5 503,927 C508,929.5 513,931.8 518,933.4 C523,935 528,935.7 533,936.5 C538,937.3 542.7,937.7 548,938.4 C553.3,939.1 559.4,939.8 565,940.5 C570.6,941.2 579,942.1 581.8,942.4" fill="none" stroke="#ff0000" stroke-width="5.5" stroke-linejoin="round" stroke-linecap="round"/>
<rect x="85" y="545" width="557.5" height="413" fill="none" stroke="#000" stroke-width="3"/>
<line x1="84.7" y1="958" x2="84.7" y2="966" stroke="#000" stroke-width="3" />
<line x1="146.7" y1="958" x2="146.7" y2="963" stroke="#000" stroke-width="3" />
<line x1="208.6" y1="958" x2="208.6" y2="966" stroke="#000" stroke-width="3" />
<line x1="270.6" y1="958" x2="270.6" y2="963" stroke="#000" stroke-width="3" />
<line x1="332.5" y1="958" x2="332.5" y2="966" stroke="#000" stroke-width="3" />
<line x1="394.4" y1="958" x2="394.4" y2="963" stroke="#000" stroke-width="3" />
<line x1="456.4" y1="958" x2="456.4" y2="966" stroke="#000" stroke-width="3" />
<line x1="518.4" y1="958" x2="518.4" y2="963" stroke="#000" stroke-width="3" />
<line x1="580.3" y1="958" x2="580.3" y2="966" stroke="#000" stroke-width="3" />
<line x1="642.3" y1="958" x2="642.3" y2="963" stroke="#000" stroke-width="3" />
<line x1="76" y1="958" x2="85" y2="958" stroke="#000" stroke-width="3" />
<line x1="80" y1="906.4" x2="85" y2="906.4" stroke="#000" stroke-width="3" />
<line x1="76" y1="854.7" x2="85" y2="854.7" stroke="#000" stroke-width="3" />
<line x1="80" y1="803" x2="85" y2="803" stroke="#000" stroke-width="3" />
<line x1="76" y1="751.4" x2="85" y2="751.4" stroke="#000" stroke-width="3" />
<line x1="80" y1="699.8" x2="85" y2="699.8" stroke="#000" stroke-width="3" />
<line x1="76" y1="648.1" x2="85" y2="648.1" stroke="#000" stroke-width="3" />
<line x1="80" y1="596.5" x2="85" y2="596.5" stroke="#000" stroke-width="3" />
<line x1="76" y1="544.8" x2="85" y2="544.8" stroke="#000" stroke-width="3" />
<text x="84.7" y="991.5" font-family='"Liberation Sans", sans-serif' font-size="30" font-weight="bold" fill="#000" text-anchor="middle" textLength="47" lengthAdjust="spacingAndGlyphs" >300</text>
<text x="208.6" y="991.5" font-family='"Liberation Sans", sans-serif' font-size="30" font-weight="bold" fill="#000" text-anchor="middle" textLength="47" lengthAdjust="spacingAndGlyphs" >400</text>
<text x="332.5" y="991.5" font-family='"Liberation Sans", sans-serif' font-size="30" font-weight="bold" fill="#000" text-anchor="middle" textLength="47" lengthAdjust="spacingAndGlyphs" >500</text>
<text x="456.4" y="991.5" font-family='"Liberation Sans", sans-serif' font-size="30" font-weight="bold" fill="#000" text-anchor="middle" textLength="47" lengthAdjust="spacingAndGlyphs" >600</text>
<text x="580.3" y="991.5" font-family='"Liberation Sans", sans-serif' font-size="30" font-weight="bold" fill="#000" text-anchor="middle" textLength="47" lengthAdjust="spacingAndGlyphs" >700</text>
<text x="73" y="967" font-family='"Liberation Sans", sans-serif' font-size="30" font-weight="bold" fill="#000" text-anchor="end" >0</text>
<text x="73" y="863.7" font-family='"Liberation Sans", sans-serif' font-size="30" font-weight="bold" fill="#000" text-anchor="end" >1</text>
<text x="73" y="760.4" font-family='"Liberation Sans", sans-serif' font-size="30" font-weight="bold" fill="#000" text-anchor="end" >2</text>
<text x="73" y="657.1" font-family='"Liberation Sans", sans-serif' font-size="30" font-weight="bold" fill="#000" text-anchor="end" >3</text>
<text x="73" y="553.8" font-family='"Liberation Sans", sans-serif' font-size="30" font-weight="bold" fill="#000" text-anchor="end" >4</text>
<text transform="translate(46,753) rotate(-90)" font-family='"Liberation Sans", sans-serif' font-size="33.5" font-weight="bold" fill="#000" text-anchor="middle" textLength="181" lengthAdjust="spacingAndGlyphs" >Absorption</text>
<text x="357.5" y="1025.5" font-family='"Liberation Sans", sans-serif' font-size="29" font-weight="bold" fill="#000" text-anchor="middle" textLength="231.6" lengthAdjust="spacingAndGlyphs" >Wavelength (nm)</text>
<text x="5.5" y="561.5" font-family='"Liberation Serif", serif' font-size="44" font-weight="bold" fill="#000" text-anchor="start" textLength="48.5" lengthAdjust="spacingAndGlyphs" >(c)</text>
<text transform="translate(227,917.6) rotate(-90)" font-family='"Liberation Serif", serif' font-size="54" font-weight="bold" fill="#ff00ff" text-anchor="start" textLength="150" lengthAdjust="spacingAndGlyphs" >Band-1</text>
<text transform="translate(503,803.4) rotate(-90)" font-family='"Liberation Serif", serif' font-size="55" font-weight="normal" fill="#f5a540" text-anchor="start" textLength="151" lengthAdjust="spacingAndGlyphs" >Band-2</text>
<defs><radialGradient id="dr" cx="0.42" cy="0.42" r="0.6"><stop offset="0" stop-color="#ffe080"/><stop offset="0.22" stop-color="#ff6040"/><stop offset="0.45" stop-color="#ff0000"/><stop offset="1" stop-color="#e00000"/></radialGradient><radialGradient id="dk" cx="0.4" cy="0.4" r="0.6"><stop offset="0" stop-color="#d0d0d0"/><stop offset="0.25" stop-color="#404040"/><stop offset="0.6" stop-color="#000"/><stop offset="1" stop-color="#000"/></radialGradient></defs>
<rect x="734" y="548" width="558.5" height="412.79999999999995" fill="none" stroke="#000" stroke-width="2"/>
<line x1="734.4" y1="960.8" x2="734.4" y2="968.8" stroke="#000" stroke-width="2" />
<line x1="774.2" y1="960.8" x2="774.2" y2="965.8" stroke="#000" stroke-width="2" />
<line x1="814.1" y1="960.8" x2="814.1" y2="968.8" stroke="#000" stroke-width="2" />
<line x1="853.9" y1="960.8" x2="853.9" y2="965.8" stroke="#000" stroke-width="2" />
<line x1="893.8" y1="960.8" x2="893.8" y2="968.8" stroke="#000" stroke-width="2" />
<line x1="933.6" y1="960.8" x2="933.6" y2="965.8" stroke="#000" stroke-width="2" />
<line x1="973.5" y1="960.8" x2="973.5" y2="968.8" stroke="#000" stroke-width="2" />
<line x1="1013.3" y1="960.8" x2="1013.3" y2="965.8" stroke="#000" stroke-width="2" />
<line x1="1053.2" y1="960.8" x2="1053.2" y2="968.8" stroke="#000" stroke-width="2" />
<line x1="1093" y1="960.8" x2="1093" y2="965.8" stroke="#000" stroke-width="2" />
<line x1="1132.9" y1="960.8" x2="1132.9" y2="968.8" stroke="#000" stroke-width="2" />
<line x1="1172.8" y1="960.8" x2="1172.8" y2="965.8" stroke="#000" stroke-width="2" />
<line x1="1212.6" y1="960.8" x2="1212.6" y2="968.8" stroke="#000" stroke-width="2" />
<line x1="1252.4" y1="960.8" x2="1252.4" y2="965.8" stroke="#000" stroke-width="2" />
<line x1="1292.3" y1="960.8" x2="1292.3" y2="968.8" stroke="#000" stroke-width="2" />
<line x1="725" y1="960.8" x2="734" y2="960.8" stroke="#000" stroke-width="2" />
<line x1="725" y1="885.9" x2="734" y2="885.9" stroke="#000" stroke-width="2" />
<line x1="725" y1="811" x2="734" y2="811" stroke="#000" stroke-width="2" />
<line x1="725" y1="736.1" x2="734" y2="736.1" stroke="#000" stroke-width="2" />
<line x1="725" y1="661.2" x2="734" y2="661.2" stroke="#000" stroke-width="2" />
<line x1="725" y1="586.3" x2="734" y2="586.3" stroke="#000" stroke-width="2" />
<g fill="url(#dk)"><circle cx="734.4" cy="958.2" r="5"/><circle cx="735" cy="958.2" r="5"/><circle cx="735.7" cy="960.2" r="5"/><circle cx="736.3" cy="957" r="5"/><circle cx="737" cy="959.3" r="5"/><circle cx="737.6" cy="957" r="5"/><circle cx="738.2" cy="960.7" r="5"/><circle cx="738.9" cy="959.7" r="5"/><circle cx="739.5" cy="961" r="5"/><circle cx="740.1" cy="958.9" r="5"/><circle cx="740.8" cy="959.9" r="5"/><circle cx="741.4" cy="959.2" r="5"/><circle cx="742.1" cy="958.7" r="5"/><circle cx="742.7" cy="959.7" r="5"/><circle cx="743.3" cy="958.1" r="5"/><circle cx="744" cy="959.1" r="5"/><circle cx="744.6" cy="960.3" r="5"/><circle cx="745.2" cy="959.6" r="5"/><circle cx="745.9" cy="959" r="5"/><circle cx="746.5" cy="961.9" r="5"/><circle cx="747.2" cy="959.6" r="5"/><circle cx="747.8" cy="958.9" r="5"/><circle cx="748.4" cy="959.7" r="5"/><circle cx="749.1" cy="958.9" r="5"/><circle cx="749.7" cy="959.1" r="5"/><circle cx="750.3" cy="959.1" r="5"/><circle cx="751" cy="961.7" r="5"/><circle cx="751.6" cy="959.5" r="5"/><circle cx="752.3" cy="959.7" r="5"/><circle cx="752.9" cy="960.2" r="5"/><circle cx="753.5" cy="961.7" r="5"/><circle cx="754.2" cy="959.2" r="5"/><circle cx="754.8" cy="958.8" r="5"/><circle cx="755.4" cy="962.2" r="5"/><circle cx="756.1" cy="957.9" r="5"/><circle cx="756.7" cy="959" r="5"/><circle cx="757.4" cy="960.1" r="5"/><circle cx="758" cy="961.9" r="5"/><circle cx="758.6" cy="958.2" r="5"/><circle cx="759.3" cy="956.5" r="5"/><circle cx="759.9" cy="959.7" r="5"/><circle cx="760.5" cy="958" r="5"/><circle cx="761.2" cy="957.7" r="5"/><circle cx="761.8" cy="958" r="5"/><circle cx="762.3" cy="957" r="5"/><circle cx="763.6" cy="954" r="5"/><circle cx="764.8" cy="947.5" r="5"/><circle cx="766.1" cy="939.4" r="5"/><circle cx="767.4" cy="923.4" r="5"/><circle cx="768.7" cy="897.3" r="5"/><circle cx="769.9" cy="862.5" r="5"/><circle cx="771.2" cy="819.6" r="5"/><circle cx="772.5" cy="767.1" r="5"/><circle cx="773.8" cy="709.7" r="5"/><circle cx="775" cy="657.7" r="5"/><circle cx="776.3" cy="617.2" r="5"/><circle cx="777.6" cy="591.3" r="5"/><circle cx="778.9" cy="588.2" r="5"/><circle cx="780.1" cy="608.3" r="5"/><circle cx="781.4" cy="646.3" r="5"/><circle cx="782.7" cy="697.1" r="5"/><circle cx="784" cy="750.7" r="5"/><circle cx="785.2" cy="808.3" r="5"/><circle cx="786.5" cy="853" r="5"/><circle cx="787.8" cy="888.7" r="5"/><circle cx="789.1" cy="917.5" r="5"/><circle cx="790.3" cy="934.9" r="5"/><circle cx="791.6" cy="945.9" r="5"/><circle cx="792.9" cy="953.7" r="5"/><circle cx="794.2" cy="958.6" r="5"/><circle cx="795.5" cy="958.6" r="5"/><circle cx="796.7" cy="960.6" r="5"/><circle cx="798" cy="961.6" r="5"/><circle cx="798.2" cy="958.1" r="5"/><circle cx="798.6" cy="958.8" r="5"/><circle cx="799" cy="960.2" r="5"/><circle cx="799.4" cy="957.5" r="5"/><circle cx="799.8" cy="959.1" r="5"/><circle cx="800.2" cy="960.9" r="5"/><circle cx="800.6" cy="960.6" r="5"/><circle cx="800.9" cy="960.1" r="5"/><circle cx="801.3" cy="957.4" r="5"/><circle cx="801.7" cy="962.1" r="5"/><circle cx="802.1" cy="960.1" r="5"/><circle cx="802.5" cy="960.3" r="5"/><circle cx="802.9" cy="960" r="5"/><circle cx="803.3" cy="957.6" r="5"/><circle cx="803.7" cy="957.9" r="5"/><circle cx="804.1" cy="958.2" r="5"/><circle cx="804.5" cy="961.6" r="5"/><circle cx="804.9" cy="958.6" r="5"/><circle cx="805.3" cy="959.2" r="5"/><circle cx="805.7" cy="959.2" r="5"/><circle cx="806.1" cy="960.1" r="5"/><circle cx="806.5" cy="960.1" r="5"/><circle cx="806.9" cy="959.8" r="5"/><circle cx="807.3" cy="958.1" r="5"/><circle cx="807.7" cy="956" r="5"/><circle cx="808.1" cy="959.7" r="5"/><circle cx="808.5" cy="959.8" r="5"/><circle cx="808.9" cy="960.9" r="5"/><circle cx="809.3" cy="959.4" r="5"/><circle cx="809.7" cy="958.8" r="5"/><circle cx="810.1" cy="960" r="5"/><circle cx="810.5" cy="957.8" r="5"/><circle cx="810.9" cy="958.4" r="5"/><circle cx="811.3" cy="958.4" r="5"/><circle cx="811.7" cy="959.8" r="5"/><circle cx="812.1" cy="961.8" r="5"/><circle cx="812.5" cy="960.3" r="5"/><circle cx="812.9" cy="960.8" r="5"/><circle cx="813.3" cy="959.8" r="5"/><circle cx="813.7" cy="959.8" r="5"/><circle cx="814.1" cy="959" r="5"/><circle cx="814.5" cy="959.2" r="5"/><circle cx="814.9" cy="956.8" r="5"/><circle cx="815.3" cy="958.2" r="5"/><circle cx="815.7" cy="958.1" r="5"/><circle cx="816.1" cy="960.4" r="5"/><circle cx="816.5" cy="960.2" r="5"/><circle cx="816.9" cy="960.8" r="5"/><circle cx="817.3" cy="961.2" r="5"/><circle cx="817.7" cy="959.2" r="5"/><circle cx="818.1" cy="960.7" r="5"/><circle cx="818.5" cy="961.7" r="5"/><circle cx="818.9" cy="959.5" r="5"/><circle cx="819.3" cy="960.7" r="5"/><circle cx="819.7" cy="959.3" r="5"/><circle cx="820.1" cy="957.7" r="5"/><circle cx="820.5" cy="959.6" r="5"/><circle cx="820.9" cy="958.6" r="5"/><circle cx="821.3" cy="959.6" r="5"/><circle cx="821.7" cy="959" r="5"/><circle cx="822.1" cy="959.9" r="5"/><circle cx="822.5" cy="957.1" r="5"/><circle cx="822.9" cy="961.8" r="5"/><circle cx="823.3" cy="961" r="5"/><circle cx="823.7" cy="959.1" r="5"/><circle cx="824.1" cy="958.5" r="5"/><circle cx="824.5" cy="959.5" r="5"/><circle cx="824.9" cy="960.2" r="5"/><circle cx="825.3" cy="960" r="5"/><circle cx="825.7" cy="959.9" r="5"/><circle cx="826.1" cy="957.3" r="5"/><circle cx="826.5" cy="958.3" r="5"/><circle cx="826.9" cy="961" r="5"/><circle cx="827.3" cy="959.8" r="5"/><circle cx="827.6" cy="957.8" r="5"/><circle cx="828" cy="958.5" r="5"/><circle cx="828.4" cy="957.9" r="5"/><circle cx="828.8" cy="958.4" r="5"/><circle cx="829.2" cy="960.8" r="5"/><circle cx="829.6" cy="959.3" r="5"/><circle cx="830" cy="960.7" r="5"/><circle cx="830.4" cy="959.7" r="5"/><circle cx="830.8" cy="957.8" r="5"/><circle cx="831.2" cy="958.8" r="5"/><circle cx="831.6" cy="962.1" r="5"/><circle cx="832" cy="958.6" r="5"/><circle cx="832.4" cy="958.3" r="5"/><circle cx="832.8" cy="960.9" r="5"/><circle cx="833.2" cy="959.6" r="5"/><circle cx="833.6" cy="959.5" r="5"/><circle cx="834" cy="961.1" r="5"/><circle cx="834.4" cy="957.5" r="5"/><circle cx="834.8" cy="960" r="5"/><circle cx="835.2" cy="958.3" r="5"/><circle cx="835.6" cy="957.9" r="5"/><circle cx="836" cy="958.6" r="5"/><circle cx="836.4" cy="960.8" r="5"/><circle cx="836.8" cy="959.3" r="5"/><circle cx="837.2" cy="957.4" r="5"/><circle cx="837.6" cy="958.3" r="5"/><circle cx="838" cy="961.2" r="5"/><circle cx="838.4" cy="960.6" r="5"/><circle cx="838.8" cy="958.3" r="5"/><circle cx="839.2" cy="962.2" r="5"/><circle cx="839.6" cy="959.1" r="5"/><circle cx="840" cy="958.2" r="5"/><circle cx="840.4" cy="959.3" r="5"/><circle cx="840.8" cy="960.6" r="5"/><circle cx="841.2" cy="961.3" r="5"/><circle cx="841.6" cy="960.7" r="5"/><circle cx="842" cy="959" r="5"/><circle cx="842.4" cy="958.9" r="5"/><circle cx="842.8" cy="957.9" r="5"/><circle cx="843.2" cy="959.4" r="5"/><circle cx="843.6" cy="958.8" r="5"/><circle cx="844" cy="959.8" r="5"/><circle cx="844.4" cy="958.1" r="5"/><circle cx="844.8" cy="958.9" r="5"/><circle cx="845.2" cy="958.5" r="5"/><circle cx="845.6" cy="958.1" r="5"/><circle cx="846" cy="958.2" r="5"/><circle cx="846.4" cy="958.4" r="5"/><circle cx="846.8" cy="958.2" r="5"/><circle cx="847.2" cy="960.1" r="5"/><circle cx="847.6" cy="959.6" r="5"/><circle cx="848" cy="958" r="5"/><circle cx="848.4" cy="960.1" r="5"/><circle cx="848.8" cy="959.8" r="5"/><circle cx="849.2" cy="961.1" r="5"/><circle cx="849.6" cy="959.3" r="5"/><circle cx="850" cy="959.3" r="5"/><circle cx="850.4" cy="958.7" r="5"/><circle cx="850.8" cy="959.6" r="5"/><circle cx="851.2" cy="960.1" r="5"/><circle cx="851.6" cy="959.7" r="5"/><circle cx="852" cy="959.2" r="5"/><circle cx="852.4" cy="960.1" r="5"/><circle cx="852.8" cy="959.6" r="5"/><circle cx="853.2" cy="959.8" r="5"/><circle cx="853.6" cy="958.4" r="5"/><circle cx="853.9" cy="959.7" r="5"/><circle cx="854.3" cy="958.4" r="5"/><circle cx="854.7" cy="958.6" r="5"/><circle cx="855.1" cy="959.7" r="5"/><circle cx="855.5" cy="961.9" r="5"/><circle cx="855.9" cy="960.6" r="5"/><circle cx="856.3" cy="959.5" r="5"/><circle cx="856.7" cy="959.3" r="5"/><circle cx="857.1" cy="960.6" r="5"/><circle cx="857.5" cy="961.1" r="5"/><circle cx="857.9" cy="960.9" r="5"/><circle cx="858.3" cy="959.3" r="5"/><circle cx="858.7" cy="959.7" r="5"/><circle cx="859.1" cy="959.1" r="5"/><circle cx="859.5" cy="959.2" r="5"/><circle cx="859.9" cy="958.5" r="5"/><circle cx="860.3" cy="959.2" r="5"/><circle cx="860.7" cy="957.1" r="5"/><circle cx="861.1" cy="958.2" r="5"/><circle cx="861.5" cy="960" r="5"/><circle cx="861.9" cy="958.5" r="5"/><circle cx="862.3" cy="960.1" r="5"/><circle cx="862.7" cy="958" r="5"/><circle cx="863.1" cy="959.1" r="5"/><circle cx="863.5" cy="959.9" r="5"/><circle cx="863.9" cy="958.3" r="5"/><circle cx="864.3" cy="958.7" r="5"/><circle cx="864.7" cy="962.3" r="5"/><circle cx="865.1" cy="958.7" r="5"/><circle cx="865.5" cy="958.7" r="5"/><circle cx="865.9" cy="958.9" r="5"/><circle cx="866.3" cy="959.5" r="5"/><circle cx="866.7" cy="959.5" r="5"/><circle cx="867.1" cy="960.6" r="5"/><circle cx="867.5" cy="960.4" r="5"/><circle cx="867.9" cy="959" r="5"/><circle cx="868.3" cy="959.1" r="5"/><circle cx="868.7" cy="957.9" r="5"/><circle cx="869.1" cy="957.8" r="5"/><circle cx="869.5" cy="958.7" r="5"/><circle cx="869.9" cy="960.3" r="5"/><circle cx="870.3" cy="959.6" r="5"/><circle cx="870.7" cy="960.4" r="5"/><circle cx="871.1" cy="960.6" r="5"/><circle cx="871.5" cy="959.3" r="5"/><circle cx="871.9" cy="961.9" r="5"/><circle cx="872.3" cy="958.9" r="5"/><circle cx="872.7" cy="958.8" r="5"/><circle cx="873.1" cy="959" r="5"/><circle cx="873.5" cy="960.8" r="5"/><circle cx="873.9" cy="959.3" r="5"/><circle cx="874.3" cy="958.7" r="5"/><circle cx="874.7" cy="960" r="5"/><circle cx="875.1" cy="960.8" r="5"/><circle cx="875.5" cy="959.4" r="5"/><circle cx="875.9" cy="959.2" r="5"/><circle cx="876.3" cy="960.7" r="5"/><circle cx="876.7" cy="960.6" r="5"/><circle cx="877.1" cy="960.6" r="5"/><circle cx="877.5" cy="958.6" r="5"/><circle cx="877.9" cy="959.8" r="5"/><circle cx="878.3" cy="959.9" r="5"/><circle cx="878.7" cy="957.5" r="5"/><circle cx="879.1" cy="960.9" r="5"/><circle cx="879.5" cy="959.6" r="5"/><circle cx="879.9" cy="959.1" r="5"/><circle cx="880.3" cy="962" r="5"/><circle cx="880.6" cy="959.7" r="5"/><circle cx="881" cy="958.7" r="5"/><circle cx="881.4" cy="959.4" r="5"/><circle cx="881.8" cy="960.1" r="5"/><circle cx="882.2" cy="960.4" r="5"/><circle cx="882.6" cy="959.4" r="5"/><circle cx="883" cy="958.5" r="5"/><circle cx="883.4" cy="958.7" r="5"/><circle cx="883.8" cy="958.6" r="5"/><circle cx="884.2" cy="958.3" r="5"/><circle cx="884.6" cy="959.5" r="5"/><circle cx="885" cy="958.9" r="5"/><circle cx="885.4" cy="959.6" r="5"/><circle cx="885.8" cy="958.6" r="5"/><circle cx="886.2" cy="958.5" r="5"/><circle cx="886.6" cy="959.3" r="5"/><circle cx="887" cy="959.1" r="5"/><circle cx="887.4" cy="960.8" r="5"/><circle cx="887.8" cy="958.5" r="5"/><circle cx="888.2" cy="959.7" r="5"/><circle cx="888.6" cy="959.5" r="5"/><circle cx="889" cy="958" r="5"/><circle cx="889.4" cy="960.3" r="5"/><circle cx="889.8" cy="959.7" r="5"/><circle cx="890.2" cy="957.1" r="5"/><circle cx="890.6" cy="960.2" r="5"/><circle cx="891" cy="960.6" r="5"/><circle cx="891.4" cy="958.6" r="5"/><circle cx="891.8" cy="961.4" r="5"/><circle cx="892.2" cy="959.7" r="5"/><circle cx="892.6" cy="958.2" r="5"/><circle cx="893" cy="960.1" r="5"/><circle cx="893.4" cy="959.1" r="5"/><circle cx="893.8" cy="958" r="5"/><circle cx="894.2" cy="957.1" r="5"/><circle cx="894.6" cy="959.8" r="5"/><circle cx="895" cy="958.7" r="5"/><circle cx="895.4" cy="960.2" r="5"/><circle cx="895.8" cy="959.9" r="5"/><circle cx="896.2" cy="958.9" r="5"/><circle cx="896.6" cy="958.9" r="5"/><circle cx="897" cy="961.5" r="5"/><circle cx="897.4" cy="961.4" r="5"/><circle cx="897.8" cy="960.3" r="5"/><circle cx="898.2" cy="959.1" r="5"/><circle cx="898.6" cy="958.4" r="5"/><circle cx="899" cy="959.1" r="5"/><circle cx="899.4" cy="961.4" r="5"/><circle cx="899.8" cy="960" r="5"/><circle cx="900.2" cy="959.2" r="5"/><circle cx="900.6" cy="958.1" r="5"/><circle cx="901" cy="959.7" r="5"/><circle cx="901.4" cy="958.5" r="5"/><circle cx="901.8" cy="959.5" r="5"/><circle cx="902.2" cy="960.3" r="5"/><circle cx="902.6" cy="960.7" r="5"/><circle cx="903" cy="959.7" r="5"/><circle cx="903.4" cy="959.1" r="5"/><circle cx="903.8" cy="959.8" r="5"/><circle cx="904.2" cy="961.5" r="5"/><circle cx="904.6" cy="959.9" r="5"/><circle cx="905" cy="957.9" r="5"/><circle cx="905.4" cy="961.2" r="5"/><circle cx="905.8" cy="959.8" r="5"/><circle cx="906.2" cy="963.4" r="5"/><circle cx="906.6" cy="959" r="5"/><circle cx="907" cy="959.4" r="5"/><circle cx="907.3" cy="959.2" r="5"/><circle cx="907.7" cy="959.9" r="5"/><circle cx="908.1" cy="958.9" r="5"/><circle cx="908.5" cy="957.8" r="5"/><circle cx="908.9" cy="957.3" r="5"/><circle cx="909.3" cy="959.4" r="5"/><circle cx="909.7" cy="958.9" r="5"/><circle cx="910.1" cy="958.9" r="5"/><circle cx="910.5" cy="961.9" r="5"/><circle cx="910.9" cy="960.4" r="5"/><circle cx="911.3" cy="960.7" r="5"/><circle cx="911.7" cy="958.9" r="5"/><circle cx="912.1" cy="959.8" r="5"/><circle cx="912.5" cy="959.3" r="5"/><circle cx="912.9" cy="959.3" r="5"/><circle cx="913.3" cy="960.3" r="5"/><circle cx="913.7" cy="960.2" r="5"/><circle cx="914.1" cy="959.8" r="5"/><circle cx="914.5" cy="959.7" r="5"/><circle cx="914.9" cy="957.9" r="5"/><circle cx="915.3" cy="958.7" r="5"/><circle cx="915.7" cy="959.9" r="5"/><circle cx="916.1" cy="959.1" r="5"/><circle cx="916.5" cy="958.6" r="5"/><circle cx="916.9" cy="959.9" r="5"/><circle cx="917.3" cy="958.5" r="5"/><circle cx="917.7" cy="958.7" r="5"/><circle cx="918.1" cy="960.5" r="5"/><circle cx="918.5" cy="959.1" r="5"/><circle cx="918.9" cy="961.1" r="5"/><circle cx="919.3" cy="960.1" r="5"/><circle cx="919.7" cy="960.4" r="5"/><circle cx="920.1" cy="960.8" r="5"/><circle cx="920.5" cy="957.1" r="5"/><circle cx="920.9" cy="959.4" r="5"/><circle cx="921.3" cy="958.1" r="5"/><circle cx="921.7" cy="959" r="5"/><circle cx="922.1" cy="959.4" r="5"/><circle cx="922.5" cy="960.9" r="5"/><circle cx="922.9" cy="959.5" r="5"/><circle cx="923.3" cy="961.3" r="5"/><circle cx="923.7" cy="958.9" r="5"/><circle cx="924.1" cy="959.4" r="5"/><circle cx="924.5" cy="959.6" r="5"/><circle cx="924.9" cy="960.6" r="5"/><circle cx="925.3" cy="959.4" r="5"/><circle cx="925.7" cy="958.8" r="5"/><circle cx="926.1" cy="959.1" r="5"/><circle cx="926.5" cy="957.9" r="5"/><circle cx="926.9" cy="960.9" r="5"/><circle cx="927.3" cy="960.3" r="5"/><circle cx="927.7" cy="960" r="5"/><circle cx="928.1" cy="959.8" r="5"/><circle cx="928.5" cy="958.8" r="5"/><circle cx="928.9" cy="959" r="5"/><circle cx="929.3" cy="960.4" r="5"/><circle cx="929.7" cy="958.6" r="5"/><circle cx="930.1" cy="958.6" r="5"/><circle cx="930.5" cy="961.3" r="5"/><circle cx="930.9" cy="961.2" r="5"/><circle cx="931.3" cy="959.8" r="5"/><circle cx="931.7" cy="960.1" r="5"/><circle cx="932.1" cy="959.7" r="5"/><circle cx="932.5" cy="961.1" r="5"/><circle cx="932.9" cy="959" r="5"/><circle cx="933.3" cy="959.6" r="5"/><circle cx="933.6" cy="960" r="5"/><circle cx="934" cy="961.1" r="5"/><circle cx="934.4" cy="959.2" r="5"/><circle cx="934.8" cy="959.8" r="5"/><circle cx="935.2" cy="959" r="5"/><circle cx="935.6" cy="958.8" r="5"/><circle cx="936" cy="958.8" r="5"/><circle cx="936.4" cy="959.6" r="5"/><circle cx="936.8" cy="960.5" r="5"/><circle cx="937.2" cy="958.7" r="5"/><circle cx="937.6" cy="958.8" r="5"/><circle cx="938" cy="959.1" r="5"/><circle cx="938.4" cy="959.9" r="5"/><circle cx="938.8" cy="960.3" r="5"/><circle cx="939.2" cy="958.1" r="5"/><circle cx="939.6" cy="959.9" r="5"/><circle cx="940" cy="958.4" r="5"/><circle cx="940.4" cy="960.3" r="5"/><circle cx="940.8" cy="958.4" r="5"/><circle cx="941.2" cy="958.3" r="5"/><circle cx="941.6" cy="958.7" r="5"/><circle cx="942" cy="959.4" r="5"/><circle cx="942.4" cy="958.4" r="5"/><circle cx="942.8" cy="959.7" r="5"/><circle cx="943.2" cy="959.7" r="5"/><circle cx="943.6" cy="959.6" r="5"/><circle cx="944" cy="959.8" r="5"/><circle cx="944.4" cy="960.5" r="5"/><circle cx="944.8" cy="958.7" r="5"/><circle cx="945.2" cy="959.5" r="5"/><circle cx="945.6" cy="959.5" r="5"/><circle cx="946" cy="957.2" r="5"/><circle cx="946.4" cy="959.9" r="5"/><circle cx="946.8" cy="958.6" r="5"/><circle cx="947.2" cy="958.7" r="5"/><circle cx="947.6" cy="959" r="5"/><circle cx="948" cy="959.6" r="5"/><circle cx="948.4" cy="959.9" r="5"/><circle cx="948.8" cy="960" r="5"/><circle cx="949.2" cy="958.7" r="5"/><circle cx="949.6" cy="960.3" r="5"/><circle cx="950" cy="960" r="5"/><circle cx="950.4" cy="959.1" r="5"/><circle cx="950.8" cy="959.5" r="5"/><circle cx="951.2" cy="960.4" r="5"/><circle cx="951.6" cy="960" r="5"/><circle cx="952" cy="960.3" r="5"/><circle cx="952.4" cy="959.6" r="5"/><circle cx="952.8" cy="960.8" r="5"/><circle cx="953.2" cy="961.9" r="5"/><circle cx="953.6" cy="960" r="5"/><circle cx="954" cy="957.7" r="5"/><circle cx="954.4" cy="961.4" r="5"/><circle cx="954.8" cy="958.9" r="5"/><circle cx="955.2" cy="958" r="5"/><circle cx="955.6" cy="956.9" r="5"/><circle cx="956" cy="960" r="5"/><circle cx="956.4" cy="960.7" r="5"/><circle cx="956.8" cy="960.6" r="5"/><circle cx="957.2" cy="959.1" r="5"/><circle cx="957.6" cy="961.1" r="5"/><circle cx="958" cy="959.4" r="5"/><circle cx="958.4" cy="958.8" r="5"/><circle cx="958.8" cy="959.6" r="5"/><circle cx="959.2" cy="959.7" r="5"/><circle cx="959.6" cy="959.6" r="5"/><circle cx="960" cy="959.9" r="5"/><circle cx="960.3" cy="957.1" r="5"/><circle cx="960.7" cy="961.2" r="5"/><circle cx="961.1" cy="958.9" r="5"/><circle cx="961.5" cy="960.2" r="5"/><circle cx="961.9" cy="958.6" r="5"/><circle cx="962.3" cy="959.7" r="5"/><circle cx="962.7" cy="959.3" r="5"/><circle cx="963.1" cy="957.8" r="5"/><circle cx="963.5" cy="959.9" r="5"/><circle cx="963.9" cy="960.2" r="5"/><circle cx="964.3" cy="958.3" r="5"/><circle cx="964.7" cy="957.2" r="5"/><circle cx="965.1" cy="958.8" r="5"/><circle cx="965.5" cy="958.6" r="5"/><circle cx="965.9" cy="959.6" r="5"/><circle cx="966.3" cy="959.5" r="5"/><circle cx="966.7" cy="961.3" r="5"/><circle cx="967.1" cy="960.2" r="5"/><circle cx="967.5" cy="959.2" r="5"/><circle cx="967.9" cy="959.7" r="5"/><circle cx="968.3" cy="956.3" r="5"/><circle cx="968.7" cy="958.5" r="5"/><circle cx="969.1" cy="958.5" r="5"/><circle cx="969.5" cy="959.4" r="5"/><circle cx="969.9" cy="959.9" r="5"/><circle cx="970.3" cy="959.7" r="5"/><circle cx="970.7" cy="960.5" r="5"/><circle cx="971.1" cy="958.7" r="5"/><circle cx="971.5" cy="959.8" r="5"/><circle cx="971.9" cy="959.4" r="5"/><circle cx="972.3" cy="959.5" r="5"/><circle cx="972.7" cy="959.9" r="5"/><circle cx="973.1" cy="959.2" r="5"/><circle cx="973.5" cy="959.7" r="5"/><circle cx="973.9" cy="959.5" r="5"/><circle cx="974.3" cy="960.6" r="5"/><circle cx="974.7" cy="959.4" r="5"/><circle cx="975.1" cy="959.8" r="5"/><circle cx="975.5" cy="962.4" r="5"/><circle cx="975.9" cy="960.2" r="5"/><circle cx="976.3" cy="960.1" r="5"/><circle cx="976.7" cy="960.7" r="5"/><circle cx="977.1" cy="958.4" r="5"/><circle cx="977.5" cy="960.3" r="5"/><circle cx="977.9" cy="960.3" r="5"/><circle cx="978.3" cy="960" r="5"/><circle cx="978.7" cy="960.6" r="5"/><circle cx="979.1" cy="960.4" r="5"/><circle cx="979.5" cy="960.8" r="5"/><circle cx="979.9" cy="958.8" r="5"/><circle cx="980.3" cy="960" r="5"/><circle cx="980.7" cy="958.9" r="5"/><circle cx="981.1" cy="960.9" r="5"/><circle cx="981.5" cy="959.6" r="5"/><circle cx="981.9" cy="958.1" r="5"/><circle cx="982.3" cy="959.6" r="5"/><circle cx="982.7" cy="958.4" r="5"/><circle cx="983.1" cy="960.6" r="5"/><circle cx="983.5" cy="959.1" r="5"/><circle cx="983.9" cy="957.1" r="5"/><circle cx="984.3" cy="959.1" r="5"/><circle cx="984.7" cy="960.6" r="5"/><circle cx="985.1" cy="959.9" r="5"/><circle cx="985.5" cy="958.8" r="5"/><circle cx="985.9" cy="960.2" r="5"/><circle cx="986.3" cy="960.1" r="5"/><circle cx="986.7" cy="961.1" r="5"/><circle cx="987" cy="960.5" r="5"/><circle cx="987.4" cy="959.9" r="5"/><circle cx="987.8" cy="958.6" r="5"/><circle cx="988.2" cy="959.8" r="5"/><circle cx="988.6" cy="959.8" r="5"/><circle cx="989" cy="959.5" r="5"/><circle cx="989.4" cy="960" r="5"/><circle cx="989.8" cy="958.2" r="5"/><circle cx="990.2" cy="960.1" r="5"/><circle cx="990.6" cy="959.5" r="5"/><circle cx="991" cy="959.9" r="5"/><circle cx="991.4" cy="959.4" r="5"/><circle cx="991.8" cy="959.2" r="5"/><circle cx="992.2" cy="959.8" r="5"/><circle cx="992.6" cy="960.4" r="5"/><circle cx="993" cy="959.1" r="5"/><circle cx="993.4" cy="959.9" r="5"/><circle cx="993.8" cy="958.7" r="5"/><circle cx="994.2" cy="960" r="5"/><circle cx="994.6" cy="959.5" r="5"/><circle cx="995" cy="958.1" r="5"/><circle cx="995.4" cy="960.8" r="5"/><circle cx="995.8" cy="958.5" r="5"/><circle cx="996.2" cy="959.6" r="5"/><circle cx="996.6" cy="958.1" r="5"/><circle cx="997" cy="957.6" r="5"/><circle cx="997.4" cy="960.2" r="5"/><circle cx="997.8" cy="958" r="5"/><circle cx="998.2" cy="957.2" r="5"/><circle cx="998.6" cy="959.3" r="5"/><circle cx="999" cy="957.8" r="5"/><circle cx="999.4" cy="959.3" r="5"/><circle cx="999.8" cy="961.5" r="5"/><circle cx="1000.2" cy="959.1" r="5"/><circle cx="1000.6" cy="959.9" r="5"/><circle cx="1001" cy="960.1" r="5"/><circle cx="1001.4" cy="959.8" r="5"/><circle cx="1001.8" cy="959.4" r="5"/><circle cx="1002.2" cy="961.1" r="5"/><circle cx="1002.6" cy="959.4" r="5"/><circle cx="1003" cy="959.9" r="5"/><circle cx="1003.4" cy="959.6" r="5"/><circle cx="1003.8" cy="958.1" r="5"/><circle cx="1004.2" cy="959.8" r="5"/><circle cx="1004.6" cy="959.6" r="5"/><circle cx="1005" cy="960.2" r="5"/><circle cx="1005.4" cy="960.3" r="5"/><circle cx="1005.8" cy="961.2" r="5"/><circle cx="1006.2" cy="957.4" r="5"/><circle cx="1006.6" cy="958.9" r="5"/><circle cx="1007" cy="959" r="5"/><circle cx="1007.4" cy="958.6" r="5"/><circle cx="1007.8" cy="960" r="5"/><circle cx="1008.2" cy="959.4" r="5"/><circle cx="1008.6" cy="959.7" r="5"/><circle cx="1009" cy="957.7" r="5"/><circle cx="1009.4" cy="958.5" r="5"/><circle cx="1009.8" cy="959.4" r="5"/><circle cx="1010.2" cy="959" r="5"/><circle cx="1010.6" cy="958.8" r="5"/><circle cx="1011" cy="959.4" r="5"/><circle cx="1011.4" cy="959.2" r="5"/><circle cx="1011.8" cy="958.3" r="5"/><circle cx="1012.2" cy="961.3" r="5"/><circle cx="1012.6" cy="958.8" r="5"/><circle cx="1013" cy="960.2" r="5"/><circle cx="1013.3" cy="960.1" r="5"/><circle cx="1013.7" cy="960.6" r="5"/><circle cx="1014.1" cy="958.9" r="5"/><circle cx="1014.5" cy="958.4" r="5"/><circle cx="1014.9" cy="960" r="5"/><circle cx="1015.3" cy="959.8" r="5"/><circle cx="1015.7" cy="956.9" r="5"/><circle cx="1016.1" cy="956.7" r="5"/><circle cx="1016.5" cy="958.9" r="5"/><circle cx="1016.9" cy="959.1" r="5"/><circle cx="1017.3" cy="959.2" r="5"/><circle cx="1017.7" cy="960" r="5"/><circle cx="1018.1" cy="958.4" r="5"/><circle cx="1018.5" cy="962.4" r="5"/><circle cx="1018.9" cy="960.5" r="5"/><circle cx="1019.3" cy="960.9" r="5"/><circle cx="1019.7" cy="959.8" r="5"/><circle cx="1020.1" cy="957.2" r="5"/><circle cx="1020.5" cy="959.8" r="5"/><circle cx="1020.9" cy="958.9" r="5"/><circle cx="1021.3" cy="960" r="5"/><circle cx="1021.7" cy="959.4" r="5"/><circle cx="1022.1" cy="960.2" r="5"/><circle cx="1022.5" cy="958.5" r="5"/><circle cx="1022.9" cy="959.1" r="5"/><circle cx="1023.3" cy="959.5" r="5"/><circle cx="1023.7" cy="958.7" r="5"/><circle cx="1024.1" cy="959" r="5"/><circle cx="1024.5" cy="960.2" r="5"/><circle cx="1024.9" cy="961.6" r="5"/><circle cx="1025.3" cy="959.3" r="5"/><circle cx="1025.7" cy="960.4" r="5"/><circle cx="1026.1" cy="958.3" r="5"/><circle cx="1026.5" cy="959" r="5"/><circle cx="1026.9" cy="959.9" r="5"/><circle cx="1027.3" cy="960.1" r="5"/><circle cx="1027.7" cy="958.4" r="5"/><circle cx="1028.1" cy="960.2" r="5"/><circle cx="1028.5" cy="959.7" r="5"/><circle cx="1028.9" cy="960.9" r="5"/><circle cx="1029.3" cy="960.5" r="5"/><circle cx="1029.7" cy="960.1" r="5"/><circle cx="1030.1" cy="959.1" r="5"/><circle cx="1030.5" cy="959.8" r="5"/><circle cx="1030.9" cy="958.6" r="5"/><circle cx="1031.3" cy="958.6" r="5"/><circle cx="1031.7" cy="957.5" r="5"/><circle cx="1032.1" cy="958.1" r="5"/><circle cx="1032.5" cy="958.1" r="5"/><circle cx="1032.9" cy="959.4" r="5"/><circle cx="1033.3" cy="959.6" r="5"/><circle cx="1033.7" cy="958" r="5"/><circle cx="1034.1" cy="959.4" r="5"/><circle cx="1034.5" cy="959.9" r="5"/><circle cx="1034.9" cy="960.5" r="5"/><circle cx="1035.3" cy="959.4" r="5"/><circle cx="1035.7" cy="959.7" r="5"/><circle cx="1036.1" cy="959.1" r="5"/><circle cx="1036.5" cy="960.5" r="5"/><circle cx="1036.9" cy="957.8" r="5"/><circle cx="1037.3" cy="959.8" r="5"/><circle cx="1037.7" cy="957" r="5"/><circle cx="1038.1" cy="961.4" r="5"/><circle cx="1038.5" cy="960.5" r="5"/><circle cx="1038.9" cy="957.2" r="5"/><circle cx="1039.3" cy="958.9" r="5"/><circle cx="1039.7" cy="958" r="5"/><circle cx="1040" cy="957.6" r="5"/><circle cx="1040.4" cy="959" r="5"/><circle cx="1040.8" cy="958.5" r="5"/><circle cx="1041.2" cy="960.6" r="5"/><circle cx="1041.6" cy="958.9" r="5"/><circle cx="1042" cy="958.3" r="5"/><circle cx="1042.4" cy="959.4" r="5"/><circle cx="1042.8" cy="959.9" r="5"/><circle cx="1043.2" cy="960.4" r="5"/><circle cx="1043.6" cy="960" r="5"/><circle cx="1044" cy="957.9" r="5"/><circle cx="1044.4" cy="958.6" r="5"/><circle cx="1044.8" cy="959.3" r="5"/><circle cx="1045.2" cy="958.6" r="5"/><circle cx="1045.6" cy="960.3" r="5"/><circle cx="1046" cy="959.1" r="5"/><circle cx="1046.4" cy="959.4" r="5"/><circle cx="1046.8" cy="959.1" r="5"/><circle cx="1047.2" cy="959.5" r="5"/><circle cx="1047.6" cy="957.9" r="5"/><circle cx="1048" cy="961.8" r="5"/><circle cx="1048.4" cy="958.9" r="5"/><circle cx="1048.8" cy="958.7" r="5"/><circle cx="1049.2" cy="957.6" r="5"/><circle cx="1049.6" cy="959.4" r="5"/><circle cx="1050" cy="958" r="5"/><circle cx="1050.4" cy="959.8" r="5"/><circle cx="1050.8" cy="960.8" r="5"/><circle cx="1051.2" cy="960.1" r="5"/><circle cx="1051.6" cy="959" r="5"/><circle cx="1052" cy="960.9" r="5"/><circle cx="1052.4" cy="959.3" r="5"/><circle cx="1052.8" cy="959.4" r="5"/><circle cx="1053.2" cy="959.6" r="5"/><circle cx="1053.6" cy="959" r="5"/><circle cx="1054" cy="959.9" r="5"/><circle cx="1054.4" cy="958.2" r="5"/><circle cx="1054.8" cy="957.6" r="5"/><circle cx="1055.2" cy="960.8" r="5"/><circle cx="1055.6" cy="958.7" r="5"/><circle cx="1056" cy="959.1" r="5"/><circle cx="1056.4" cy="959.8" r="5"/><circle cx="1056.8" cy="959" r="5"/><circle cx="1057.2" cy="958.2" r="5"/><circle cx="1057.6" cy="959.3" r="5"/><circle cx="1058" cy="958.5" r="5"/><circle cx="1058.4" cy="960.1" r="5"/><circle cx="1058.8" cy="959" r="5"/><circle cx="1059.2" cy="959.2" r="5"/><circle cx="1059.6" cy="960.3" r="5"/><circle cx="1060" cy="957.8" r="5"/><circle cx="1060.4" cy="957.9" r="5"/><circle cx="1060.8" cy="960.3" r="5"/><circle cx="1061.2" cy="960.9" r="5"/><circle cx="1061.6" cy="959.6" r="5"/><circle cx="1062" cy="958.7" r="5"/><circle cx="1062.4" cy="960.8" r="5"/><circle cx="1062.8" cy="960" r="5"/><circle cx="1063.2" cy="960.6" r="5"/><circle cx="1063.6" cy="957.5" r="5"/><circle cx="1064" cy="959.3" r="5"/><circle cx="1064.4" cy="958.4" r="5"/><circle cx="1064.8" cy="958.3" r="5"/><circle cx="1065.2" cy="960.1" r="5"/><circle cx="1065.6" cy="960.3" r="5"/><circle cx="1066" cy="959" r="5"/><circle cx="1066.4" cy="959.2" r="5"/><circle cx="1066.7" cy="961" r="5"/><circle cx="1067.1" cy="960.2" r="5"/><circle cx="1067.5" cy="959.4" r="5"/><circle cx="1067.9" cy="960" r="5"/><circle cx="1068.3" cy="959.6" r="5"/><circle cx="1068.7" cy="958.1" r="5"/><circle cx="1069.1" cy="958.9" r="5"/><circle cx="1069.5" cy="959.8" r="5"/><circle cx="1069.9" cy="960.2" r="5"/><circle cx="1070.3" cy="958.2" r="5"/><circle cx="1070.7" cy="958.6" r="5"/><circle cx="1071.1" cy="958.8" r="5"/><circle cx="1071.5" cy="957.8" r="5"/><circle cx="1071.9" cy="960.7" r="5"/><circle cx="1072.3" cy="960" r="5"/><circle cx="1072.7" cy="960.9" r="5"/><circle cx="1073.1" cy="957.1" r="5"/><circle cx="1073.5" cy="958.6" r="5"/><circle cx="1073.9" cy="961.4" r="5"/><circle cx="1074.3" cy="958" r="5"/><circle cx="1074.7" cy="957.5" r="5"/><circle cx="1075.1" cy="959.7" r="5"/><circle cx="1075.5" cy="961.2" r="5"/><circle cx="1075.9" cy="960.2" r="5"/><circle cx="1076.3" cy="958.4" r="5"/><circle cx="1076.7" cy="960.1" r="5"/><circle cx="1077.1" cy="959.9" r="5"/><circle cx="1077.5" cy="959.8" r="5"/><circle cx="1077.9" cy="959.9" r="5"/><circle cx="1078.3" cy="960.4" r="5"/><circle cx="1078.7" cy="960.7" r="5"/><circle cx="1079.1" cy="961" r="5"/><circle cx="1079.5" cy="960.6" r="5"/><circle cx="1079.9" cy="959.3" r="5"/><circle cx="1080.3" cy="957.5" r="5"/><circle cx="1080.7" cy="960.1" r="5"/><circle cx="1081.1" cy="957.9" r="5"/><circle cx="1081.5" cy="962" r="5"/><circle cx="1081.9" cy="958.2" r="5"/><circle cx="1082.3" cy="957.5" r="5"/><circle cx="1082.7" cy="957.5" r="5"/><circle cx="1083.1" cy="959.9" r="5"/><circle cx="1083.5" cy="959.8" r="5"/><circle cx="1083.9" cy="960.2" r="5"/><circle cx="1084.3" cy="959.8" r="5"/><circle cx="1084.7" cy="958.6" r="5"/><circle cx="1085.1" cy="960.4" r="5"/><circle cx="1085.5" cy="958.7" r="5"/><circle cx="1085.9" cy="957.9" r="5"/><circle cx="1086.3" cy="960.5" r="5"/><circle cx="1086.7" cy="960.1" r="5"/><circle cx="1087.1" cy="958.5" r="5"/><circle cx="1087.5" cy="959.2" r="5"/><circle cx="1087.9" cy="960.6" r="5"/><circle cx="1088.3" cy="960.5" r="5"/><circle cx="1088.7" cy="958.3" r="5"/><circle cx="1089.1" cy="960.7" r="5"/><circle cx="1089.5" cy="956.7" r="5"/><circle cx="1089.9" cy="959.6" r="5"/><circle cx="1090.3" cy="959.9" r="5"/><circle cx="1090.7" cy="959.4" r="5"/><circle cx="1091.1" cy="959.6" r="5"/><circle cx="1091.5" cy="957.7" r="5"/><circle cx="1091.9" cy="959.3" r="5"/><circle cx="1092.3" cy="960" r="5"/><circle cx="1092.7" cy="958.5" r="5"/><circle cx="1093" cy="959.6" r="5"/><circle cx="1093.4" cy="959.3" r="5"/><circle cx="1093.8" cy="957" r="5"/><circle cx="1094.2" cy="958.8" r="5"/><circle cx="1094.6" cy="960.1" r="5"/><circle cx="1095" cy="957.8" r="5"/><circle cx="1095.4" cy="959.5" r="5"/><circle cx="1095.8" cy="959.8" r="5"/><circle cx="1096.2" cy="958.1" r="5"/><circle cx="1096.6" cy="959.2" r="5"/><circle cx="1097" cy="960.5" r="5"/><circle cx="1097.4" cy="960.3" r="5"/><circle cx="1097.8" cy="958.4" r="5"/><circle cx="1098.2" cy="960.6" r="5"/><circle cx="1098.6" cy="959.9" r="5"/><circle cx="1099" cy="959.6" r="5"/><circle cx="1099.4" cy="961.1" r="5"/><circle cx="1099.8" cy="960.3" r="5"/><circle cx="1100.2" cy="959.9" r="5"/><circle cx="1100.6" cy="960.5" r="5"/><circle cx="1101" cy="960.2" r="5"/><circle cx="1101.4" cy="960.9" r="5"/><circle cx="1101.8" cy="959.4" r="5"/><circle cx="1102.2" cy="957.6" r="5"/><circle cx="1102.6" cy="961.2" r="5"/><circle cx="1103" cy="960.4" r="5"/><circle cx="1103.4" cy="960.1" r="5"/><circle cx="1103.8" cy="959.5" r="5"/><circle cx="1104.2" cy="959.4" r="5"/><circle cx="1104.6" cy="959.6" r="5"/><circle cx="1105" cy="958.5" r="5"/><circle cx="1105.4" cy="960.3" r="5"/><circle cx="1105.8" cy="959.6" r="5"/><circle cx="1106.2" cy="958.5" r="5"/><circle cx="1106.6" cy="959.8" r="5"/><circle cx="1107" cy="959.1" r="5"/><circle cx="1107.4" cy="959.5" r="5"/><circle cx="1107.8" cy="960.1" r="5"/><circle cx="1108.2" cy="962.4" r="5"/><circle cx="1108.6" cy="958.3" r="5"/><circle cx="1109" cy="959.9" r="5"/><circle cx="1109.4" cy="960.3" r="5"/><circle cx="1109.8" cy="960" r="5"/><circle cx="1110.2" cy="961.1" r="5"/><circle cx="1110.6" cy="959" r="5"/><circle cx="1111" cy="959.1" r="5"/><circle cx="1111.4" cy="959.5" r="5"/><circle cx="1111.8" cy="958" r="5"/><circle cx="1112.2" cy="960.7" r="5"/><circle cx="1112.6" cy="958.1" r="5"/><circle cx="1113" cy="960.1" r="5"/><circle cx="1113.4" cy="960.8" r="5"/><circle cx="1113.8" cy="958.6" r="5"/><circle cx="1114.2" cy="959.3" r="5"/><circle cx="1114.6" cy="959.3" r="5"/><circle cx="1115" cy="961.4" r="5"/><circle cx="1115.4" cy="959.8" r="5"/><circle cx="1115.8" cy="957.6" r="5"/><circle cx="1116.2" cy="960.7" r="5"/><circle cx="1116.6" cy="960.6" r="5"/><circle cx="1117" cy="957.3" r="5"/><circle cx="1117.4" cy="956.5" r="5"/><circle cx="1117.8" cy="962.3" r="5"/><circle cx="1118.2" cy="959.6" r="5"/><circle cx="1118.6" cy="957.2" r="5"/><circle cx="1119" cy="960.6" r="5"/><circle cx="1119.4" cy="961" r="5"/><circle cx="1119.7" cy="956.9" r="5"/><circle cx="1120.1" cy="960.9" r="5"/><circle cx="1120.5" cy="960.3" r="5"/><circle cx="1120.9" cy="959.5" r="5"/><circle cx="1121.3" cy="958.7" r="5"/><circle cx="1121.7" cy="959.9" r="5"/><circle cx="1122.1" cy="958.6" r="5"/><circle cx="1122.5" cy="959.7" r="5"/><circle cx="1122.9" cy="959.2" r="5"/><circle cx="1123.3" cy="959" r="5"/><circle cx="1123.7" cy="960.1" r="5"/><circle cx="1124.1" cy="960.6" r="5"/><circle cx="1124.5" cy="960.5" r="5"/><circle cx="1124.9" cy="960" r="5"/><circle cx="1125.3" cy="961.3" r="5"/><circle cx="1125.7" cy="958.1" r="5"/><circle cx="1126.1" cy="959.6" r="5"/><circle cx="1126.5" cy="959.7" r="5"/><circle cx="1126.9" cy="960.8" r="5"/><circle cx="1127.3" cy="957" r="5"/><circle cx="1127.7" cy="959" r="5"/><circle cx="1128.1" cy="959.2" r="5"/><circle cx="1128.5" cy="959.7" r="5"/><circle cx="1128.9" cy="962" r="5"/><circle cx="1129.3" cy="959.8" r="5"/><circle cx="1129.7" cy="959.4" r="5"/><circle cx="1130.1" cy="960" r="5"/><circle cx="1130.5" cy="960.6" r="5"/><circle cx="1130.9" cy="959.3" r="5"/><circle cx="1131.3" cy="961.3" r="5"/><circle cx="1131.7" cy="958.2" r="5"/><circle cx="1132.1" cy="960.9" r="5"/><circle cx="1132.5" cy="960.3" r="5"/><circle cx="1132.9" cy="960.6" r="5"/><circle cx="1133.3" cy="961.2" r="5"/><circle cx="1133.7" cy="959.2" r="5"/><circle cx="1134.1" cy="960" r="5"/><circle cx="1134.5" cy="959.8" r="5"/><circle cx="1134.9" cy="958.8" r="5"/><circle cx="1135.3" cy="958.7" r="5"/><circle cx="1135.7" cy="958.6" r="5"/><circle cx="1136.1" cy="960.4" r="5"/><circle cx="1136.5" cy="957" r="5"/><circle cx="1136.9" cy="958.1" r="5"/><circle cx="1137.3" cy="959.6" r="5"/><circle cx="1137.7" cy="960.9" r="5"/><circle cx="1138.1" cy="959.4" r="5"/><circle cx="1138.5" cy="960.9" r="5"/><circle cx="1138.9" cy="959.4" r="5"/><circle cx="1139.3" cy="958.9" r="5"/><circle cx="1139.7" cy="957.8" r="5"/><circle cx="1140.1" cy="959.7" r="5"/><circle cx="1140.5" cy="961.4" r="5"/><circle cx="1140.9" cy="959.6" r="5"/><circle cx="1141.3" cy="958.4" r="5"/><circle cx="1141.7" cy="960.1" r="5"/><circle cx="1142.1" cy="958" r="5"/><circle cx="1142.5" cy="958.3" r="5"/><circle cx="1142.9" cy="960.7" r="5"/><circle cx="1143.3" cy="959.9" r="5"/><circle cx="1143.7" cy="960.6" r="5"/><circle cx="1144.1" cy="959.8" r="5"/><circle cx="1144.5" cy="959.4" r="5"/><circle cx="1144.9" cy="959.7" r="5"/><circle cx="1145.3" cy="959.1" r="5"/><circle cx="1145.7" cy="960.6" r="5"/><circle cx="1146.1" cy="958.1" r="5"/><circle cx="1146.4" cy="957.4" r="5"/><circle cx="1146.8" cy="958.6" r="5"/><circle cx="1147.2" cy="960.5" r="5"/><circle cx="1147.6" cy="958.9" r="5"/><circle cx="1148" cy="957" r="5"/><circle cx="1148.4" cy="962.6" r="5"/><circle cx="1148.8" cy="958.5" r="5"/><circle cx="1149.2" cy="959.3" r="5"/><circle cx="1149.6" cy="960.1" r="5"/><circle cx="1150" cy="959.9" r="5"/><circle cx="1150.4" cy="959.3" r="5"/><circle cx="1150.8" cy="957.8" r="5"/><circle cx="1151.2" cy="960.1" r="5"/><circle cx="1151.6" cy="958.4" r="5"/><circle cx="1152" cy="959.3" r="5"/><circle cx="1152.4" cy="960.3" r="5"/><circle cx="1152.8" cy="959.1" r="5"/><circle cx="1153.2" cy="957.5" r="5"/><circle cx="1153.6" cy="958.8" r="5"/><circle cx="1154" cy="960.2" r="5"/><circle cx="1154.4" cy="960.3" r="5"/><circle cx="1154.8" cy="958.1" r="5"/><circle cx="1155.2" cy="959.6" r="5"/><circle cx="1155.6" cy="959.8" r="5"/><circle cx="1156" cy="960.7" r="5"/><circle cx="1156.4" cy="959.9" r="5"/><circle cx="1156.8" cy="959.7" r="5"/><circle cx="1157.2" cy="959.2" r="5"/><circle cx="1157.6" cy="960" r="5"/><circle cx="1158" cy="960.3" r="5"/><circle cx="1158.4" cy="959.3" r="5"/><circle cx="1158.8" cy="959.2" r="5"/><circle cx="1159.2" cy="961.4" r="5"/><circle cx="1159.6" cy="959.5" r="5"/><circle cx="1160" cy="958.6" r="5"/><circle cx="1160.4" cy="960.2" r="5"/><circle cx="1160.8" cy="958.1" r="5"/><circle cx="1161.2" cy="958.3" r="5"/><circle cx="1161.6" cy="960.5" r="5"/><circle cx="1162" cy="959.5" r="5"/><circle cx="1162.4" cy="960.4" r="5"/><circle cx="1162.8" cy="960.3" r="5"/><circle cx="1163.2" cy="958.7" r="5"/><circle cx="1163.6" cy="960" r="5"/><circle cx="1164" cy="959.1" r="5"/><circle cx="1164.4" cy="959.7" r="5"/><circle cx="1164.8" cy="959.8" r="5"/><circle cx="1165.2" cy="959.4" r="5"/><circle cx="1165.6" cy="958.1" r="5"/><circle cx="1166" cy="959.8" r="5"/><circle cx="1166.4" cy="959.5" r="5"/><circle cx="1166.8" cy="960.1" r="5"/><circle cx="1167.2" cy="958.4" r="5"/><circle cx="1167.6" cy="959.7" r="5"/><circle cx="1168" cy="959.3" r="5"/><circle cx="1168.4" cy="959" r="5"/><circle cx="1168.8" cy="959.2" r="5"/><circle cx="1169.2" cy="959.2" r="5"/><circle cx="1169.6" cy="958" r="5"/><circle cx="1170" cy="958.9" r="5"/><circle cx="1170.4" cy="959" r="5"/><circle cx="1170.8" cy="960" r="5"/><circle cx="1171.2" cy="959.3" r="5"/><circle cx="1171.6" cy="961" r="5"/><circle cx="1172" cy="960.2" r="5"/><circle cx="1172.4" cy="959.8" r="5"/><circle cx="1172.7" cy="959.7" r="5"/><circle cx="1173.1" cy="958" r="5"/><circle cx="1173.5" cy="959.9" r="5"/><circle cx="1173.9" cy="960.9" r="5"/><circle cx="1174.3" cy="958.4" r="5"/><circle cx="1174.7" cy="960.9" r="5"/><circle cx="1175.1" cy="960.2" r="5"/><circle cx="1175.5" cy="959.8" r="5"/><circle cx="1175.9" cy="959" r="5"/><circle cx="1176.3" cy="959.5" r="5"/><circle cx="1176.7" cy="958.6" r="5"/><circle cx="1177.1" cy="959.5" r="5"/><circle cx="1177.5" cy="959.6" r="5"/><circle cx="1177.9" cy="959.6" r="5"/><circle cx="1178.3" cy="958.2" r="5"/><circle cx="1178.7" cy="960.5" r="5"/><circle cx="1179.1" cy="958.8" r="5"/><circle cx="1179.5" cy="959.9" r="5"/><circle cx="1179.9" cy="960.1" r="5"/><circle cx="1180.3" cy="959.3" r="5"/><circle cx="1180.7" cy="962.2" r="5"/><circle cx="1181.1" cy="959.6" r="5"/><circle cx="1181.5" cy="960" r="5"/><circle cx="1181.9" cy="959.2" r="5"/><circle cx="1182.3" cy="959.9" r="5"/><circle cx="1182.7" cy="958.1" r="5"/><circle cx="1183.1" cy="960.2" r="5"/><circle cx="1183.5" cy="959.1" r="5"/><circle cx="1183.9" cy="958.9" r="5"/><circle cx="1184.3" cy="960.3" r="5"/><circle cx="1184.7" cy="960.5" r="5"/><circle cx="1185.1" cy="959" r="5"/><circle cx="1185.5" cy="958.4" r="5"/><circle cx="1185.9" cy="957.3" r="5"/><circle cx="1186.3" cy="958.4" r="5"/><circle cx="1186.7" cy="960" r="5"/><circle cx="1187.1" cy="960.2" r="5"/><circle cx="1187.5" cy="958.1" r="5"/><circle cx="1187.9" cy="959.6" r="5"/><circle cx="1188.3" cy="960.6" r="5"/><circle cx="1188.7" cy="958.7" r="5"/><circle cx="1189.1" cy="958.9" r="5"/><circle cx="1189.5" cy="958.5" r="5"/><circle cx="1189.9" cy="959.9" r="5"/><circle cx="1190.3" cy="957.5" r="5"/><circle cx="1190.7" cy="959.4" r="5"/><circle cx="1191.1" cy="960" r="5"/><circle cx="1191.5" cy="959.4" r="5"/><circle cx="1191.9" cy="960.5" r="5"/><circle cx="1192.3" cy="960.2" r="5"/><circle cx="1192.7" cy="958.9" r="5"/><circle cx="1193.1" cy="958.4" r="5"/><circle cx="1193.5" cy="958.4" r="5"/><circle cx="1193.9" cy="960" r="5"/><circle cx="1194.3" cy="959.4" r="5"/><circle cx="1194.7" cy="959.6" r="5"/><circle cx="1195.1" cy="958.5" r="5"/><circle cx="1195.5" cy="960.7" r="5"/><circle cx="1195.9" cy="960.4" r="5"/><circle cx="1196.3" cy="960.3" r="5"/><circle cx="1196.7" cy="958.3" r="5"/><circle cx="1197.1" cy="962.3" r="5"/><circle cx="1197.5" cy="960.4" r="5"/><circle cx="1197.9" cy="958.3" r="5"/><circle cx="1198.3" cy="960.5" r="5"/><circle cx="1198.7" cy="959.4" r="5"/><circle cx="1199.1" cy="958.7" r="5"/><circle cx="1199.4" cy="958.7" r="5"/><circle cx="1199.8" cy="960" r="5"/><circle cx="1200.2" cy="959.8" r="5"/><circle cx="1200.6" cy="959.7" r="5"/><circle cx="1201" cy="959.3" r="5"/><circle cx="1201.4" cy="958.4" r="5"/><circle cx="1201.8" cy="959.8" r="5"/><circle cx="1202.2" cy="959.2" r="5"/><circle cx="1202.6" cy="959.3" r="5"/><circle cx="1203" cy="960.2" r="5"/><circle cx="1203.4" cy="961.3" r="5"/><circle cx="1203.8" cy="958.8" r="5"/><circle cx="1204.2" cy="960.5" r="5"/><circle cx="1204.6" cy="958.7" r="5"/><circle cx="1205" cy="960.4" r="5"/><circle cx="1205.4" cy="960.2" r="5"/><circle cx="1205.8" cy="959.5" r="5"/><circle cx="1206.2" cy="959.8" r="5"/><circle cx="1206.6" cy="958.7" r="5"/><circle cx="1207" cy="959.1" r="5"/><circle cx="1207.4" cy="960.5" r="5"/><circle cx="1207.8" cy="960.3" r="5"/><circle cx="1208.2" cy="961.9" r="5"/><circle cx="1208.6" cy="958.4" r="5"/><circle cx="1209" cy="959" r="5"/><circle cx="1209.4" cy="959.6" r="5"/><circle cx="1209.8" cy="959.6" r="5"/><circle cx="1210.2" cy="959" r="5"/><circle cx="1210.6" cy="959.1" r="5"/><circle cx="1211" cy="959.4" r="5"/><circle cx="1211.4" cy="960.9" r="5"/><circle cx="1211.8" cy="959.4" r="5"/><circle cx="1212.2" cy="958.7" r="5"/><circle cx="1212.6" cy="959.8" r="5"/><circle cx="1213" cy="956.7" r="5"/><circle cx="1213.4" cy="958.6" r="5"/><circle cx="1213.8" cy="958.8" r="5"/><circle cx="1214.2" cy="959.8" r="5"/><circle cx="1214.6" cy="957" r="5"/><circle cx="1215" cy="959.3" r="5"/><circle cx="1215.4" cy="958.4" r="5"/><circle cx="1215.8" cy="960.6" r="5"/><circle cx="1216.2" cy="960.4" r="5"/><circle cx="1216.6" cy="959" r="5"/><circle cx="1217" cy="960" r="5"/><circle cx="1217.4" cy="958.2" r="5"/><circle cx="1217.8" cy="959.7" r="5"/><circle cx="1218.2" cy="959.8" r="5"/><circle cx="1218.6" cy="960.6" r="5"/><circle cx="1219" cy="959" r="5"/><circle cx="1219.4" cy="957.2" r="5"/><circle cx="1219.8" cy="960.4" r="5"/><circle cx="1220.2" cy="958.3" r="5"/><circle cx="1220.6" cy="958.9" r="5"/><circle cx="1221" cy="959.1" r="5"/><circle cx="1221.4" cy="961.3" r="5"/><circle cx="1221.8" cy="959.5" r="5"/><circle cx="1222.2" cy="960.7" r="5"/><circle cx="1222.6" cy="959.6" r="5"/><circle cx="1223" cy="958" r="5"/><circle cx="1223.4" cy="960" r="5"/><circle cx="1223.8" cy="960.1" r="5"/><circle cx="1224.2" cy="958.9" r="5"/><circle cx="1224.6" cy="957.8" r="5"/><circle cx="1225" cy="962.5" r="5"/><circle cx="1225.4" cy="961.8" r="5"/><circle cx="1225.8" cy="959.9" r="5"/><circle cx="1226.1" cy="960" r="5"/><circle cx="1226.5" cy="960.5" r="5"/><circle cx="1226.9" cy="960.1" r="5"/><circle cx="1227.3" cy="957.9" r="5"/><circle cx="1227.7" cy="958" r="5"/><circle cx="1228.1" cy="960.4" r="5"/><circle cx="1228.5" cy="961" r="5"/><circle cx="1228.9" cy="960.6" r="5"/><circle cx="1229.3" cy="960.4" r="5"/><circle cx="1229.7" cy="959.5" r="5"/><circle cx="1230.1" cy="960.5" r="5"/><circle cx="1230.5" cy="961.2" r="5"/><circle cx="1230.9" cy="960.1" r="5"/><circle cx="1231.3" cy="960.8" r="5"/><circle cx="1231.7" cy="960.8" r="5"/><circle cx="1232.1" cy="958.7" r="5"/><circle cx="1232.5" cy="960.8" r="5"/><circle cx="1232.9" cy="958.7" r="5"/><circle cx="1233.3" cy="958.5" r="5"/><circle cx="1233.7" cy="961.2" r="5"/><circle cx="1234.1" cy="957.7" r="5"/><circle cx="1234.5" cy="959.3" r="5"/><circle cx="1234.9" cy="960.5" r="5"/><circle cx="1235.3" cy="959.9" r="5"/><circle cx="1235.7" cy="959.1" r="5"/><circle cx="1236.1" cy="958.5" r="5"/><circle cx="1236.5" cy="960" r="5"/><circle cx="1236.9" cy="960.1" r="5"/><circle cx="1237.3" cy="959.4" r="5"/><circle cx="1237.7" cy="958.5" r="5"/><circle cx="1238.1" cy="958" r="5"/><circle cx="1238.5" cy="959.5" r="5"/><circle cx="1238.9" cy="959.5" r="5"/><circle cx="1239.3" cy="960.4" r="5"/><circle cx="1239.7" cy="959.2" r="5"/><circle cx="1240.1" cy="960.5" r="5"/><circle cx="1240.5" cy="958.2" r="5"/><circle cx="1240.9" cy="957.7" r="5"/><circle cx="1241.3" cy="960.5" r="5"/><circle cx="1241.7" cy="959" r="5"/><circle cx="1242.1" cy="958.6" r="5"/><circle cx="1242.5" cy="959.4" r="5"/><circle cx="1242.9" cy="958.2" r="5"/><circle cx="1243.3" cy="959.1" r="5"/><circle cx="1243.7" cy="958" r="5"/><circle cx="1244.1" cy="959.7" r="5"/><circle cx="1244.5" cy="958.9" r="5"/><circle cx="1244.9" cy="959.4" r="5"/><circle cx="1245.3" cy="959.5" r="5"/><circle cx="1245.7" cy="960" r="5"/><circle cx="1246.1" cy="957.7" r="5"/><circle cx="1246.5" cy="959.7" r="5"/><circle cx="1246.9" cy="959.2" r="5"/><circle cx="1247.3" cy="958.3" r="5"/><circle cx="1247.7" cy="959.2" r="5"/><circle cx="1248.1" cy="960" r="5"/><circle cx="1248.5" cy="960" r="5"/><circle cx="1248.9" cy="961.6" r="5"/><circle cx="1249.3" cy="959.2" r="5"/><circle cx="1249.7" cy="959.7" r="5"/><circle cx="1250.1" cy="961.6" r="5"/><circle cx="1250.5" cy="958.9" r="5"/><circle cx="1250.9" cy="958.6" r="5"/><circle cx="1251.3" cy="959" r="5"/><circle cx="1251.7" cy="958.9" r="5"/><circle cx="1252.1" cy="959.5" r="5"/><circle cx="1252.4" cy="959.7" r="5"/><circle cx="1252.8" cy="958.7" r="5"/><circle cx="1253.2" cy="958.3" r="5"/><circle cx="1253.6" cy="959.4" r="5"/><circle cx="1254" cy="958.2" r="5"/><circle cx="1254.4" cy="958.6" r="5"/><circle cx="1254.8" cy="959.9" r="5"/><circle cx="1255.2" cy="959.4" r="5"/><circle cx="1255.6" cy="958.4" r="5"/><circle cx="1256" cy="958" r="5"/><circle cx="1256.4" cy="958.4" r="5"/><circle cx="1256.8" cy="957.9" r="5"/><circle cx="1257.2" cy="960.1" r="5"/><circle cx="1257.6" cy="960.3" r="5"/><circle cx="1258" cy="959.8" r="5"/><circle cx="1258.4" cy="959.8" r="5"/><circle cx="1258.8" cy="959" r="5"/><circle cx="1259.2" cy="959.7" r="5"/><circle cx="1259.6" cy="959.6" r="5"/><circle cx="1260" cy="959.6" r="5"/><circle cx="1260.4" cy="959" r="5"/><circle cx="1260.8" cy="958.4" r="5"/><circle cx="1261.2" cy="959.8" r="5"/><circle cx="1261.6" cy="959.9" r="5"/><circle cx="1262" cy="958.3" r="5"/><circle cx="1262.4" cy="959.3" r="5"/><circle cx="1262.8" cy="959.5" r="5"/><circle cx="1263.2" cy="960" r="5"/><circle cx="1263.6" cy="957.7" r="5"/><circle cx="1264" cy="958" r="5"/><circle cx="1264.4" cy="958" r="5"/><circle cx="1264.8" cy="958.2" r="5"/><circle cx="1265.2" cy="958.4" r="5"/><circle cx="1265.6" cy="960.4" r="5"/><circle cx="1266" cy="958.3" r="5"/><circle cx="1266.4" cy="961.8" r="5"/><circle cx="1266.8" cy="959.8" r="5"/><circle cx="1267.2" cy="960.2" r="5"/><circle cx="1267.6" cy="959.5" r="5"/><circle cx="1268" cy="960.4" r="5"/><circle cx="1268.4" cy="959.9" r="5"/><circle cx="1268.8" cy="960.4" r="5"/><circle cx="1269.2" cy="960.1" r="5"/><circle cx="1269.6" cy="960.2" r="5"/><circle cx="1270" cy="959.9" r="5"/><circle cx="1270.4" cy="960.7" r="5"/><circle cx="1270.8" cy="959.5" r="5"/><circle cx="1271.2" cy="959" r="5"/><circle cx="1271.6" cy="961.2" r="5"/><circle cx="1272" cy="959" r="5"/><circle cx="1272.4" cy="959.9" r="5"/><circle cx="1272.8" cy="961.7" r="5"/><circle cx="1273.2" cy="958.8" r="5"/><circle cx="1273.6" cy="959.2" r="5"/><circle cx="1274" cy="958.8" r="5"/><circle cx="1274.4" cy="958.5" r="5"/><circle cx="1274.8" cy="960.2" r="5"/><circle cx="1275.2" cy="959.3" r="5"/><circle cx="1275.6" cy="959.6" r="5"/><circle cx="1276" cy="957.7" r="5"/><circle cx="1276.4" cy="960" r="5"/><circle cx="1276.8" cy="958.7" r="5"/><circle cx="1277.2" cy="957.5" r="5"/><circle cx="1277.6" cy="958.7" r="5"/><circle cx="1278" cy="957.8" r="5"/><circle cx="1278.4" cy="961.2" r="5"/><circle cx="1278.8" cy="957.7" r="5"/><circle cx="1279.1" cy="959.8" r="5"/><circle cx="1279.5" cy="958.4" r="5"/><circle cx="1279.9" cy="958.6" r="5"/><circle cx="1280.3" cy="958.1" r="5"/><circle cx="1280.7" cy="960.8" r="5"/><circle cx="1281.1" cy="958.3" r="5"/><circle cx="1281.5" cy="958.8" r="5"/><circle cx="1281.9" cy="959.7" r="5"/><circle cx="1282.3" cy="959.1" r="5"/><circle cx="1282.7" cy="960.2" r="5"/><circle cx="1283.1" cy="958.7" r="5"/><circle cx="1283.5" cy="957.8" r="5"/><circle cx="1283.9" cy="960" r="5"/><circle cx="1284.3" cy="960.8" r="5"/><circle cx="1284.7" cy="960.1" r="5"/><circle cx="1285.1" cy="958.6" r="5"/><circle cx="1285.5" cy="960.7" r="5"/><circle cx="1285.9" cy="960.3" r="5"/><circle cx="1286.3" cy="959.1" r="5"/><circle cx="1286.7" cy="960" r="5"/><circle cx="1287.1" cy="959.5" r="5"/><circle cx="1287.5" cy="959.6" r="5"/><circle cx="1287.9" cy="960.2" r="5"/><circle cx="1288.3" cy="960.4" r="5"/><circle cx="1288.7" cy="959.6" r="5"/><circle cx="1289.1" cy="959.6" r="5"/><circle cx="1289.5" cy="956.9" r="5"/><circle cx="1289.9" cy="958.6" r="5"/><circle cx="1290.3" cy="960" r="5"/><circle cx="1290.7" cy="958.7" r="5"/><circle cx="1291.1" cy="959.9" r="5"/><circle cx="1291.5" cy="959.3" r="5"/><circle cx="1291.9" cy="959.6" r="5"/><circle cx="1292.3" cy="959.6" r="5"/></g>
<g fill="url(#dr)"><circle cx="734.4" cy="960.1" r="5"/><circle cx="735" cy="959.1" r="5"/><circle cx="735.7" cy="958.6" r="5"/><circle cx="736.3" cy="957.1" r="5"/><circle cx="737" cy="959" r="5"/><circle cx="737.6" cy="957.2" r="5"/><circle cx="738.2" cy="960" r="5"/><circle cx="738.9" cy="957.7" r="5"/><circle cx="739.5" cy="957.8" r="5"/><circle cx="740.1" cy="958.3" r="5"/><circle cx="740.8" cy="957.3" r="5"/><circle cx="741.4" cy="959.1" r="5"/><circle cx="742.1" cy="958.9" r="5"/><circle cx="742.7" cy="957.7" r="5"/><circle cx="743.3" cy="957.9" r="5"/><circle cx="744" cy="960.7" r="5"/><circle cx="744.6" cy="959.9" r="5"/><circle cx="745.2" cy="959.2" r="5"/><circle cx="745.9" cy="958.9" r="5"/><circle cx="746.5" cy="960.3" r="5"/><circle cx="747.2" cy="958" r="5"/><circle cx="747.8" cy="958.2" r="5"/><circle cx="748.4" cy="958.3" r="5"/><circle cx="749.1" cy="957.2" r="5"/><circle cx="749.7" cy="957.4" r="5"/><circle cx="750.3" cy="960.7" r="5"/><circle cx="751" cy="958.7" r="5"/><circle cx="751.6" cy="957.4" r="5"/><circle cx="752.3" cy="958.2" r="5"/><circle cx="752.9" cy="957.9" r="5"/><circle cx="753.5" cy="958" r="5"/><circle cx="754.2" cy="958.4" r="5"/><circle cx="754.8" cy="956.7" r="5"/><circle cx="755.4" cy="956.3" r="5"/><circle cx="756.1" cy="958.2" r="5"/><circle cx="756.7" cy="958.2" r="5"/><circle cx="757.4" cy="957.1" r="5"/><circle cx="758" cy="958.3" r="5"/><circle cx="758.6" cy="957.7" r="5"/><circle cx="759.3" cy="958.6" r="5"/><circle cx="759.9" cy="958" r="5"/><circle cx="760.5" cy="959.4" r="5"/><circle cx="761.2" cy="959.5" r="5"/><circle cx="761.8" cy="958.2" r="5"/><circle cx="762.3" cy="957.1" r="5"/><circle cx="763.6" cy="956.5" r="5"/><circle cx="764.8" cy="953.4" r="5"/><circle cx="766.1" cy="947.8" r="5"/><circle cx="767.4" cy="939.3" r="5"/><circle cx="768.7" cy="924.1" r="5"/><circle cx="769.9" cy="905.3" r="5"/><circle cx="771.2" cy="877.3" r="5"/><circle cx="772.5" cy="841.7" r="5"/><circle cx="773.8" cy="798.6" r="5"/><circle cx="775" cy="751.5" r="5"/><circle cx="776.3" cy="705" r="5"/><circle cx="777.6" cy="659.5" r="5"/><circle cx="778.9" cy="622.5" r="5"/><circle cx="780.1" cy="600.8" r="5"/><circle cx="781.4" cy="588.4" r="5"/><circle cx="782.7" cy="587.6" r="5"/><circle cx="784" cy="603.4" r="5"/><circle cx="785.2" cy="621.5" r="5"/><circle cx="786.5" cy="652.6" r="5"/><circle cx="787.8" cy="683.3" r="5"/><circle cx="789.1" cy="713.6" r="5"/><circle cx="790.3" cy="742.1" r="5"/><circle cx="791.6" cy="769.6" r="5"/><circle cx="792.9" cy="792.4" r="5"/><circle cx="794.2" cy="810.4" r="5"/><circle cx="795.5" cy="826.3" r="5"/><circle cx="796.7" cy="846.5" r="5"/><circle cx="798" cy="857.7" r="5"/><circle cx="798.2" cy="853" r="5"/><circle cx="798.6" cy="855.3" r="5"/><circle cx="799" cy="864.5" r="5"/><circle cx="799.4" cy="863.6" r="5"/><circle cx="799.8" cy="866.7" r="5"/><circle cx="800.2" cy="870" r="5"/><circle cx="800.6" cy="874.9" r="5"/><circle cx="800.9" cy="870.6" r="5"/><circle cx="801.3" cy="881.2" r="5"/><circle cx="801.7" cy="880" r="5"/><circle cx="802.1" cy="885.8" r="5"/><circle cx="802.5" cy="881.9" r="5"/><circle cx="802.9" cy="884.6" r="5"/><circle cx="803.3" cy="890.3" r="5"/><circle cx="803.7" cy="893.4" r="5"/><circle cx="804.1" cy="892.1" r="5"/><circle cx="804.5" cy="892.9" r="5"/><circle cx="804.9" cy="899" r="5"/><circle cx="805.3" cy="899.7" r="5"/><circle cx="805.7" cy="898.9" r="5"/><circle cx="806.1" cy="898.7" r="5"/><circle cx="806.5" cy="904" r="5"/><circle cx="806.9" cy="903.7" r="5"/><circle cx="807.3" cy="902" r="5"/><circle cx="807.7" cy="908" r="5"/><circle cx="808.1" cy="908.1" r="5"/><circle cx="808.5" cy="906.7" r="5"/><circle cx="808.9" cy="908.4" r="5"/><circle cx="809.3" cy="910.1" r="5"/><circle cx="809.7" cy="907.8" r="5"/><circle cx="810.1" cy="906.8" r="5"/><circle cx="810.5" cy="913.7" r="5"/><circle cx="810.9" cy="907.3" r="5"/><circle cx="811.3" cy="908.4" r="5"/><circle cx="811.7" cy="909.5" r="5"/><circle cx="812.1" cy="915" r="5"/><circle cx="812.5" cy="917.1" r="5"/><circle cx="812.9" cy="913.5" r="5"/><circle cx="813.3" cy="919" r="5"/><circle cx="813.7" cy="920.5" r="5"/><circle cx="814.1" cy="920.5" r="5"/><circle cx="814.5" cy="914.5" r="5"/><circle cx="814.9" cy="921.4" r="5"/><circle cx="815.3" cy="924.4" r="5"/><circle cx="815.7" cy="917.2" r="5"/><circle cx="816.1" cy="916" r="5"/><circle cx="816.5" cy="923.5" r="5"/><circle cx="816.9" cy="922.2" r="5"/><circle cx="817.3" cy="921.3" r="5"/><circle cx="817.7" cy="921.8" r="5"/><circle cx="818.1" cy="918.3" r="5"/><circle cx="818.5" cy="920.9" r="5"/><circle cx="818.9" cy="923.8" r="5"/><circle cx="819.3" cy="924.9" r="5"/><circle cx="819.7" cy="926.4" r="5"/><circle cx="820.1" cy="926.8" r="5"/><circle cx="820.5" cy="923.9" r="5"/><circle cx="820.9" cy="925.2" r="5"/><circle cx="821.3" cy="929.1" r="5"/><circle cx="821.7" cy="923" r="5"/><circle cx="822.1" cy="927.8" r="5"/><circle cx="822.5" cy="925" r="5"/><circle cx="822.9" cy="927.8" r="5"/><circle cx="823.3" cy="931.9" r="5"/><circle cx="823.7" cy="928.9" r="5"/><circle cx="824.1" cy="927.3" r="5"/><circle cx="824.5" cy="927.2" r="5"/><circle cx="824.9" cy="925.8" r="5"/><circle cx="825.3" cy="929.3" r="5"/><circle cx="825.7" cy="924.6" r="5"/><circle cx="826.1" cy="929.8" r="5"/><circle cx="826.5" cy="930.6" r="5"/><circle cx="826.9" cy="928.6" r="5"/><circle cx="827.3" cy="929.2" r="5"/><circle cx="827.6" cy="933.9" r="5"/><circle cx="828" cy="934.3" r="5"/><circle cx="828.4" cy="936.4" r="5"/><circle cx="828.8" cy="934.7" r="5"/><circle cx="829.2" cy="933.1" r="5"/><circle cx="829.6" cy="932.2" r="5"/><circle cx="830" cy="935.7" r="5"/><circle cx="830.4" cy="934.7" r="5"/><circle cx="830.8" cy="933.9" r="5"/><circle cx="831.2" cy="937.7" r="5"/><circle cx="831.6" cy="933.7" r="5"/><circle cx="832" cy="934.7" r="5"/><circle cx="832.4" cy="936.9" r="5"/><circle cx="832.8" cy="935.8" r="5"/><circle cx="833.2" cy="935.2" r="5"/><circle cx="833.6" cy="937.5" r="5"/><circle cx="834" cy="941.5" r="5"/><circle cx="834.4" cy="935" r="5"/><circle cx="834.8" cy="937.5" r="5"/><circle cx="835.2" cy="937.1" r="5"/><circle cx="835.6" cy="936.8" r="5"/><circle cx="836" cy="940.2" r="5"/><circle cx="836.4" cy="936.7" r="5"/><circle cx="836.8" cy="940.7" r="5"/><circle cx="837.2" cy="935.2" r="5"/><circle cx="837.6" cy="937.8" r="5"/><circle cx="838" cy="936" r="5"/><circle cx="838.4" cy="938.7" r="5"/><circle cx="838.8" cy="939.6" r="5"/><circle cx="839.2" cy="939.6" r="5"/><circle cx="839.6" cy="939.1" r="5"/><circle cx="840" cy="938.2" r="5"/><circle cx="840.4" cy="936.4" r="5"/><circle cx="840.8" cy="941" r="5"/><circle cx="841.2" cy="939.4" r="5"/><circle cx="841.6" cy="942" r="5"/><circle cx="842" cy="936.3" r="5"/><circle cx="842.4" cy="939.4" r="5"/><circle cx="842.8" cy="936.6" r="5"/><circle cx="843.2" cy="942.6" r="5"/><circle cx="843.6" cy="939" r="5"/><circle cx="844" cy="938.6" r="5"/><circle cx="844.4" cy="942.7" r="5"/><circle cx="844.8" cy="940.9" r="5"/><circle cx="845.2" cy="941.7" r="5"/><circle cx="845.6" cy="941.2" r="5"/><circle cx="846" cy="943.8" r="5"/><circle cx="846.4" cy="942.3" r="5"/><circle cx="846.8" cy="942.4" r="5"/><circle cx="847.2" cy="942" r="5"/><circle cx="847.6" cy="944.2" r="5"/><circle cx="848" cy="944.7" r="5"/><circle cx="848.4" cy="941.9" r="5"/><circle cx="848.8" cy="944.4" r="5"/><circle cx="849.2" cy="939.9" r="5"/><circle cx="849.6" cy="941.5" r="5"/><circle cx="850" cy="942.1" r="5"/><circle cx="850.4" cy="941.9" r="5"/><circle cx="850.8" cy="944.6" r="5"/><circle cx="851.2" cy="940.9" r="5"/><circle cx="851.6" cy="940.7" r="5"/><circle cx="852" cy="944.3" r="5"/><circle cx="852.4" cy="942.4" r="5"/><circle cx="852.8" cy="944.3" r="5"/><circle cx="853.2" cy="944.5" r="5"/><circle cx="853.6" cy="943.2" r="5"/><circle cx="853.9" cy="943.9" r="5"/><circle cx="854.3" cy="946.5" r="5"/><circle cx="854.7" cy="944.9" r="5"/><circle cx="855.1" cy="945.2" r="5"/><circle cx="855.5" cy="946.5" r="5"/><circle cx="855.9" cy="943.9" r="5"/><circle cx="856.3" cy="943.1" r="5"/><circle cx="856.7" cy="944.9" r="5"/><circle cx="857.1" cy="948.8" r="5"/><circle cx="857.5" cy="947" r="5"/><circle cx="857.9" cy="950.2" r="5"/><circle cx="858.3" cy="948" r="5"/><circle cx="858.7" cy="948" r="5"/><circle cx="859.1" cy="945.4" r="5"/><circle cx="859.5" cy="943.3" r="5"/><circle cx="859.9" cy="942.6" r="5"/><circle cx="860.3" cy="947" r="5"/><circle cx="860.7" cy="944.7" r="5"/><circle cx="861.1" cy="944.7" r="5"/><circle cx="861.5" cy="948.1" r="5"/><circle cx="861.9" cy="947.7" r="5"/><circle cx="862.3" cy="944.9" r="5"/><circle cx="862.7" cy="947.9" r="5"/><circle cx="863.1" cy="950.1" r="5"/><circle cx="863.5" cy="949.4" r="5"/><circle cx="863.9" cy="946.4" r="5"/><circle cx="864.3" cy="949.6" r="5"/><circle cx="864.7" cy="944.3" r="5"/><circle cx="865.1" cy="947.5" r="5"/><circle cx="865.5" cy="947.3" r="5"/><circle cx="865.9" cy="950.5" r="5"/><circle cx="866.3" cy="946.1" r="5"/><circle cx="866.7" cy="946.7" r="5"/><circle cx="867.1" cy="947.9" r="5"/><circle cx="867.5" cy="950" r="5"/><circle cx="867.9" cy="946.2" r="5"/><circle cx="868.3" cy="949.3" r="5"/><circle cx="868.7" cy="948.3" r="5"/><circle cx="869.1" cy="948.2" r="5"/><circle cx="869.5" cy="946.8" r="5"/><circle cx="869.9" cy="950" r="5"/><circle cx="870.3" cy="949.6" r="5"/><circle cx="870.7" cy="950.2" r="5"/><circle cx="871.1" cy="949.8" r="5"/><circle cx="871.5" cy="949.4" r="5"/><circle cx="871.9" cy="948.1" r="5"/><circle cx="872.3" cy="949.7" r="5"/><circle cx="872.7" cy="951.3" r="5"/><circle cx="873.1" cy="950.2" r="5"/><circle cx="873.5" cy="951" r="5"/><circle cx="873.9" cy="951.7" r="5"/><circle cx="874.3" cy="950.8" r="5"/><circle cx="874.7" cy="949.8" r="5"/><circle cx="875.1" cy="948.6" r="5"/><circle cx="875.5" cy="952.7" r="5"/><circle cx="875.9" cy="950.2" r="5"/><circle cx="876.3" cy="950.3" r="5"/><circle cx="876.7" cy="950.8" r="5"/><circle cx="877.1" cy="952.2" r="5"/><circle cx="877.5" cy="952.4" r="5"/><circle cx="877.9" cy="949.7" r="5"/><circle cx="878.3" cy="950.9" r="5"/><circle cx="878.7" cy="953.1" r="5"/><circle cx="879.1" cy="950.1" r="5"/><circle cx="879.5" cy="951.3" r="5"/><circle cx="879.9" cy="949.8" r="5"/><circle cx="880.3" cy="948.8" r="5"/><circle cx="880.6" cy="949.2" r="5"/><circle cx="881" cy="951.8" r="5"/><circle cx="881.4" cy="952.1" r="5"/><circle cx="881.8" cy="947.1" r="5"/><circle cx="882.2" cy="951.3" r="5"/><circle cx="882.6" cy="951.4" r="5"/><circle cx="883" cy="949.2" r="5"/><circle cx="883.4" cy="951.8" r="5"/><circle cx="883.8" cy="950.6" r="5"/><circle cx="884.2" cy="954.4" r="5"/><circle cx="884.6" cy="950.4" r="5"/><circle cx="885" cy="953.9" r="5"/><circle cx="885.4" cy="950.2" r="5"/><circle cx="885.8" cy="950.5" r="5"/><circle cx="886.2" cy="954.8" r="5"/><circle cx="886.6" cy="951.1" r="5"/><circle cx="887" cy="951.7" r="5"/><circle cx="887.4" cy="949.8" r="5"/><circle cx="887.8" cy="952.9" r="5"/><circle cx="888.2" cy="955" r="5"/><circle cx="888.6" cy="952.2" r="5"/><circle cx="889" cy="952.3" r="5"/><circle cx="889.4" cy="952.8" r="5"/><circle cx="889.8" cy="951.6" r="5"/><circle cx="890.2" cy="950.8" r="5"/><circle cx="890.6" cy="953.1" r="5"/><circle cx="891" cy="952.5" r="5"/><circle cx="891.4" cy="950.2" r="5"/><circle cx="891.8" cy="949.1" r="5"/><circle cx="892.2" cy="954" r="5"/><circle cx="892.6" cy="951.1" r="5"/><circle cx="893" cy="954.1" r="5"/><circle cx="893.4" cy="954.9" r="5"/><circle cx="893.8" cy="953.3" r="5"/><circle cx="894.2" cy="952.5" r="5"/><circle cx="894.6" cy="949.3" r="5"/><circle cx="895" cy="956.1" r="5"/><circle cx="895.4" cy="955.1" r="5"/><circle cx="895.8" cy="952.4" r="5"/><circle cx="896.2" cy="952" r="5"/><circle cx="896.6" cy="954.6" r="5"/><circle cx="897" cy="950.5" r="5"/><circle cx="897.4" cy="955" r="5"/><circle cx="897.8" cy="955.4" r="5"/><circle cx="898.2" cy="952" r="5"/><circle cx="898.6" cy="952.2" r="5"/><circle cx="899" cy="957" r="5"/><circle cx="899.4" cy="953.3" r="5"/><circle cx="899.8" cy="954.4" r="5"/><circle cx="900.2" cy="953.6" r="5"/><circle cx="900.6" cy="950.9" r="5"/><circle cx="901" cy="955.9" r="5"/><circle cx="901.4" cy="956.9" r="5"/><circle cx="901.8" cy="953.4" r="5"/><circle cx="902.2" cy="952.9" r="5"/><circle cx="902.6" cy="956.9" r="5"/><circle cx="903" cy="952" r="5"/><circle cx="903.4" cy="954" r="5"/><circle cx="903.8" cy="952.4" r="5"/><circle cx="904.2" cy="952" r="5"/><circle cx="904.6" cy="953.6" r="5"/><circle cx="905" cy="950.3" r="5"/><circle cx="905.4" cy="952.7" r="5"/><circle cx="905.8" cy="954.8" r="5"/><circle cx="906.2" cy="953.6" r="5"/><circle cx="906.6" cy="953" r="5"/><circle cx="907" cy="958.8" r="5"/><circle cx="907.3" cy="956.1" r="5"/><circle cx="907.7" cy="954.1" r="5"/><circle cx="908.1" cy="956.7" r="5"/><circle cx="908.5" cy="956" r="5"/><circle cx="908.9" cy="955.3" r="5"/><circle cx="909.3" cy="956.2" r="5"/><circle cx="909.7" cy="954.5" r="5"/><circle cx="910.1" cy="954.2" r="5"/><circle cx="910.5" cy="958" r="5"/><circle cx="910.9" cy="955.3" r="5"/><circle cx="911.3" cy="957.6" r="5"/><circle cx="911.7" cy="952.1" r="5"/><circle cx="912.1" cy="953.8" r="5"/><circle cx="912.5" cy="953.9" r="5"/><circle cx="912.9" cy="955.5" r="5"/><circle cx="913.3" cy="955.3" r="5"/><circle cx="913.7" cy="956.9" r="5"/><circle cx="914.1" cy="956.2" r="5"/><circle cx="914.5" cy="955.5" r="5"/><circle cx="914.9" cy="956.3" r="5"/><circle cx="915.3" cy="956.6" r="5"/><circle cx="915.7" cy="956" r="5"/><circle cx="916.1" cy="951.8" r="5"/><circle cx="916.5" cy="954.9" r="5"/><circle cx="916.9" cy="956.6" r="5"/><circle cx="917.3" cy="955.1" r="5"/><circle cx="917.7" cy="957.9" r="5"/><circle cx="918.1" cy="954.9" r="5"/><circle cx="918.5" cy="955.9" r="5"/><circle cx="918.9" cy="954.5" r="5"/><circle cx="919.3" cy="955.6" r="5"/><circle cx="919.7" cy="957.6" r="5"/><circle cx="920.1" cy="958" r="5"/><circle cx="920.5" cy="957.2" r="5"/><circle cx="920.9" cy="957" r="5"/><circle cx="921.3" cy="956.1" r="5"/><circle cx="921.7" cy="954" r="5"/><circle cx="922.1" cy="957" r="5"/><circle cx="922.5" cy="955" r="5"/><circle cx="922.9" cy="956.5" r="5"/><circle cx="923.3" cy="955.9" r="5"/><circle cx="923.7" cy="957.4" r="5"/><circle cx="924.1" cy="955.1" r="5"/><circle cx="924.5" cy="957.3" r="5"/><circle cx="924.9" cy="956.2" r="5"/><circle cx="925.3" cy="958.7" r="5"/><circle cx="925.7" cy="956" r="5"/><circle cx="926.1" cy="956" r="5"/><circle cx="926.5" cy="953.4" r="5"/><circle cx="926.9" cy="957.6" r="5"/><circle cx="927.3" cy="956.3" r="5"/><circle cx="927.7" cy="953" r="5"/><circle cx="928.1" cy="957.1" r="5"/><circle cx="928.5" cy="957.1" r="5"/><circle cx="928.9" cy="955.9" r="5"/><circle cx="929.3" cy="958.4" r="5"/><circle cx="929.7" cy="956.3" r="5"/><circle cx="930.1" cy="956.2" r="5"/><circle cx="930.5" cy="957.1" r="5"/><circle cx="930.9" cy="954.8" r="5"/><circle cx="931.3" cy="957.3" r="5"/><circle cx="931.7" cy="955.3" r="5"/><circle cx="932.1" cy="956.9" r="5"/><circle cx="932.5" cy="958.2" r="5"/><circle cx="932.9" cy="956" r="5"/><circle cx="933.3" cy="955.7" r="5"/><circle cx="933.6" cy="959.1" r="5"/><circle cx="934" cy="956.7" r="5"/><circle cx="934.4" cy="958.3" r="5"/><circle cx="934.8" cy="957.6" r="5"/><circle cx="935.2" cy="957.4" r="5"/><circle cx="935.6" cy="958.8" r="5"/><circle cx="936" cy="956.7" r="5"/><circle cx="936.4" cy="954.5" r="5"/><circle cx="936.8" cy="956.4" r="5"/><circle cx="937.2" cy="955.9" r="5"/><circle cx="937.6" cy="955.2" r="5"/><circle cx="938" cy="956.2" r="5"/><circle cx="938.4" cy="957.5" r="5"/><circle cx="938.8" cy="957.6" r="5"/><circle cx="939.2" cy="957" r="5"/><circle cx="939.6" cy="956.7" r="5"/><circle cx="940" cy="957" r="5"/><circle cx="940.4" cy="956.3" r="5"/><circle cx="940.8" cy="955.7" r="5"/><circle cx="941.2" cy="957.1" r="5"/><circle cx="941.6" cy="958.3" r="5"/><circle cx="942" cy="955.9" r="5"/><circle cx="942.4" cy="957" r="5"/><circle cx="942.8" cy="958" r="5"/><circle cx="943.2" cy="955.6" r="5"/><circle cx="943.6" cy="957.6" r="5"/><circle cx="944" cy="957.3" r="5"/><circle cx="944.4" cy="958.6" r="5"/><circle cx="944.8" cy="955.8" r="5"/><circle cx="945.2" cy="956.5" r="5"/><circle cx="945.6" cy="959.4" r="5"/><circle cx="946" cy="960.1" r="5"/><circle cx="946.4" cy="958" r="5"/><circle cx="946.8" cy="959.2" r="5"/><circle cx="947.2" cy="956.3" r="5"/><circle cx="947.6" cy="958.7" r="5"/><circle cx="948" cy="957.7" r="5"/><circle cx="948.4" cy="958.2" r="5"/><circle cx="948.8" cy="955.5" r="5"/><circle cx="949.2" cy="957.5" r="5"/><circle cx="949.6" cy="958.3" r="5"/><circle cx="950" cy="958.9" r="5"/><circle cx="950.4" cy="958" r="5"/><circle cx="950.8" cy="957.9" r="5"/><circle cx="951.2" cy="958.7" r="5"/><circle cx="951.6" cy="959.8" r="5"/><circle cx="952" cy="955.4" r="5"/><circle cx="952.4" cy="954.7" r="5"/><circle cx="952.8" cy="957.5" r="5"/><circle cx="953.2" cy="959.7" r="5"/><circle cx="953.6" cy="960" r="5"/><circle cx="954" cy="958.5" r="5"/><circle cx="954.4" cy="956.1" r="5"/><circle cx="954.8" cy="958.3" r="5"/><circle cx="955.2" cy="956.6" r="5"/><circle cx="955.6" cy="958.7" r="5"/><circle cx="956" cy="957.3" r="5"/><circle cx="956.4" cy="959.9" r="5"/><circle cx="956.8" cy="956.2" r="5"/><circle cx="957.2" cy="959.6" r="5"/><circle cx="957.6" cy="956.5" r="5"/><circle cx="958" cy="958.5" r="5"/><circle cx="958.4" cy="958" r="5"/><circle cx="958.8" cy="955.7" r="5"/><circle cx="959.2" cy="954.9" r="5"/><circle cx="959.6" cy="957.3" r="5"/><circle cx="960" cy="957.2" r="5"/><circle cx="960.3" cy="956.8" r="5"/><circle cx="960.7" cy="958.6" r="5"/><circle cx="961.1" cy="958" r="5"/><circle cx="961.5" cy="958.5" r="5"/><circle cx="961.9" cy="956.2" r="5"/><circle cx="962.3" cy="957.4" r="5"/><circle cx="962.7" cy="957.4" r="5"/><circle cx="963.1" cy="959.1" r="5"/><circle cx="963.5" cy="959.5" r="5"/><circle cx="963.9" cy="957" r="5"/><circle cx="964.3" cy="957.7" r="5"/><circle cx="964.7" cy="954.3" r="5"/><circle cx="965.1" cy="960.6" r="5"/><circle cx="965.5" cy="958.2" r="5"/><circle cx="965.9" cy="958.5" r="5"/><circle cx="966.3" cy="958.2" r="5"/><circle cx="966.7" cy="957.5" r="5"/><circle cx="967.1" cy="955.3" r="5"/><circle cx="967.5" cy="956.5" r="5"/><circle cx="967.9" cy="956.6" r="5"/><circle cx="968.3" cy="957.4" r="5"/><circle cx="968.7" cy="956.2" r="5"/><circle cx="969.1" cy="958.1" r="5"/><circle cx="969.5" cy="958.7" r="5"/><circle cx="969.9" cy="958" r="5"/><circle cx="970.3" cy="958" r="5"/><circle cx="970.7" cy="961.1" r="5"/><circle cx="971.1" cy="956.7" r="5"/><circle cx="971.5" cy="956.9" r="5"/><circle cx="971.9" cy="959" r="5"/><circle cx="972.3" cy="957.3" r="5"/><circle cx="972.7" cy="960.2" r="5"/><circle cx="973.1" cy="956.9" r="5"/><circle cx="973.5" cy="957.8" r="5"/><circle cx="973.9" cy="960.3" r="5"/><circle cx="974.3" cy="955.7" r="5"/><circle cx="974.7" cy="959.3" r="5"/><circle cx="975.1" cy="958.3" r="5"/><circle cx="975.5" cy="958.2" r="5"/><circle cx="975.9" cy="959.8" r="5"/><circle cx="976.3" cy="957.1" r="5"/><circle cx="976.7" cy="958.8" r="5"/><circle cx="977.1" cy="957.2" r="5"/><circle cx="977.5" cy="959.7" r="5"/><circle cx="977.9" cy="956.2" r="5"/><circle cx="978.3" cy="957.9" r="5"/><circle cx="978.7" cy="957.2" r="5"/><circle cx="979.1" cy="956.5" r="5"/><circle cx="979.5" cy="959.3" r="5"/><circle cx="979.9" cy="957.4" r="5"/><circle cx="980.3" cy="958.8" r="5"/><circle cx="980.7" cy="954.8" r="5"/><circle cx="981.1" cy="956.6" r="5"/><circle cx="981.5" cy="956.6" r="5"/><circle cx="981.9" cy="958.5" r="5"/><circle cx="982.3" cy="955.8" r="5"/><circle cx="982.7" cy="958.5" r="5"/><circle cx="983.1" cy="959.3" r="5"/><circle cx="983.5" cy="958.1" r="5"/><circle cx="983.9" cy="958.2" r="5"/><circle cx="984.3" cy="957.5" r="5"/><circle cx="984.7" cy="956.8" r="5"/><circle cx="985.1" cy="958" r="5"/><circle cx="985.5" cy="958.3" r="5"/><circle cx="985.9" cy="960.1" r="5"/><circle cx="986.3" cy="958.3" r="5"/><circle cx="986.7" cy="957.1" r="5"/><circle cx="987" cy="959.2" r="5"/><circle cx="987.4" cy="956.6" r="5"/><circle cx="987.8" cy="955.3" r="5"/><circle cx="988.2" cy="957.7" r="5"/><circle cx="988.6" cy="957.1" r="5"/><circle cx="989" cy="958.9" r="5"/><circle cx="989.4" cy="958" r="5"/><circle cx="989.8" cy="956.3" r="5"/><circle cx="990.2" cy="957.1" r="5"/><circle cx="990.6" cy="957.4" r="5"/><circle cx="991" cy="960.9" r="5"/><circle cx="991.4" cy="956.4" r="5"/><circle cx="991.8" cy="956.7" r="5"/><circle cx="992.2" cy="959.8" r="5"/><circle cx="992.6" cy="960.1" r="5"/><circle cx="993" cy="957.6" r="5"/><circle cx="993.4" cy="959.9" r="5"/><circle cx="993.8" cy="958" r="5"/><circle cx="994.2" cy="956.9" r="5"/><circle cx="994.6" cy="958" r="5"/><circle cx="995" cy="959.3" r="5"/><circle cx="995.4" cy="960.1" r="5"/><circle cx="995.8" cy="957.8" r="5"/><circle cx="996.2" cy="956.4" r="5"/><circle cx="996.6" cy="958.4" r="5"/><circle cx="997" cy="957.5" r="5"/><circle cx="997.4" cy="957.2" r="5"/><circle cx="997.8" cy="958.7" r="5"/><circle cx="998.2" cy="958.4" r="5"/><circle cx="998.6" cy="956.5" r="5"/><circle cx="999" cy="957.2" r="5"/><circle cx="999.4" cy="960" r="5"/><circle cx="999.8" cy="957.9" r="5"/><circle cx="1000.2" cy="960.6" r="5"/><circle cx="1000.6" cy="954.9" r="5"/><circle cx="1001" cy="956.7" r="5"/><circle cx="1001.4" cy="958.2" r="5"/><circle cx="1001.8" cy="956.9" r="5"/><circle cx="1002.2" cy="958.4" r="5"/><circle cx="1002.6" cy="958.3" r="5"/><circle cx="1003" cy="956.4" r="5"/><circle cx="1003.4" cy="960.6" r="5"/><circle cx="1003.8" cy="960.6" r="5"/><circle cx="1004.2" cy="955.9" r="5"/><circle cx="1004.6" cy="957.8" r="5"/><circle cx="1005" cy="956.4" r="5"/><circle cx="1005.4" cy="957.7" r="5"/><circle cx="1005.8" cy="957.6" r="5"/><circle cx="1006.2" cy="957.9" r="5"/><circle cx="1006.6" cy="959.7" r="5"/><circle cx="1007" cy="959.8" r="5"/><circle cx="1007.4" cy="957.8" r="5"/><circle cx="1007.8" cy="958.8" r="5"/><circle cx="1008.2" cy="959.1" r="5"/><circle cx="1008.6" cy="956.1" r="5"/><circle cx="1009" cy="958.3" r="5"/><circle cx="1009.4" cy="956.9" r="5"/><circle cx="1009.8" cy="959.8" r="5"/><circle cx="1010.2" cy="959.9" r="5"/><circle cx="1010.6" cy="958.7" r="5"/><circle cx="1011" cy="960.2" r="5"/><circle cx="1011.4" cy="957.9" r="5"/><circle cx="1011.8" cy="957.2" r="5"/><circle cx="1012.2" cy="960" r="5"/><circle cx="1012.6" cy="958.3" r="5"/><circle cx="1013" cy="958.7" r="5"/><circle cx="1013.3" cy="956.5" r="5"/><circle cx="1013.7" cy="959.2" r="5"/><circle cx="1014.1" cy="958.2" r="5"/><circle cx="1014.5" cy="958.1" r="5"/><circle cx="1014.9" cy="956.8" r="5"/><circle cx="1015.3" cy="957.3" r="5"/><circle cx="1015.7" cy="957.7" r="5"/><circle cx="1016.1" cy="958.5" r="5"/><circle cx="1016.5" cy="960" r="5"/><circle cx="1016.9" cy="956" r="5"/><circle cx="1017.3" cy="956.4" r="5"/><circle cx="1017.7" cy="957" r="5"/><circle cx="1018.1" cy="957.3" r="5"/><circle cx="1018.5" cy="957.2" r="5"/><circle cx="1018.9" cy="956.7" r="5"/><circle cx="1019.3" cy="957.4" r="5"/><circle cx="1019.7" cy="958.9" r="5"/><circle cx="1020.1" cy="957.7" r="5"/><circle cx="1020.5" cy="957.1" r="5"/><circle cx="1020.9" cy="959.1" r="5"/><circle cx="1021.3" cy="958.5" r="5"/><circle cx="1021.7" cy="957" r="5"/><circle cx="1022.1" cy="959.9" r="5"/><circle cx="1022.5" cy="957.4" r="5"/><circle cx="1022.9" cy="957" r="5"/><circle cx="1023.3" cy="958.8" r="5"/><circle cx="1023.7" cy="957.2" r="5"/><circle cx="1024.1" cy="957" r="5"/><circle cx="1024.5" cy="960.1" r="5"/><circle cx="1024.9" cy="957.7" r="5"/><circle cx="1025.3" cy="957" r="5"/><circle cx="1025.7" cy="958.6" r="5"/><circle cx="1026.1" cy="958.1" r="5"/><circle cx="1026.5" cy="955.7" r="5"/><circle cx="1026.9" cy="957.7" r="5"/><circle cx="1027.3" cy="959" r="5"/><circle cx="1027.7" cy="957.7" r="5"/><circle cx="1028.1" cy="958.9" r="5"/><circle cx="1028.5" cy="956.8" r="5"/><circle cx="1028.9" cy="959.4" r="5"/><circle cx="1029.3" cy="957.9" r="5"/><circle cx="1029.7" cy="957.4" r="5"/><circle cx="1030.1" cy="956.7" r="5"/><circle cx="1030.5" cy="959.5" r="5"/><circle cx="1030.9" cy="958.3" r="5"/><circle cx="1031.3" cy="957.8" r="5"/><circle cx="1031.7" cy="958.8" r="5"/><circle cx="1032.1" cy="958.1" r="5"/><circle cx="1032.5" cy="957.9" r="5"/><circle cx="1032.9" cy="958.8" r="5"/><circle cx="1033.3" cy="957.7" r="5"/><circle cx="1033.7" cy="959.5" r="5"/><circle cx="1034.1" cy="961.4" r="5"/><circle cx="1034.5" cy="956.1" r="5"/><circle cx="1034.9" cy="958.4" r="5"/><circle cx="1035.3" cy="957.8" r="5"/><circle cx="1035.7" cy="959.2" r="5"/><circle cx="1036.1" cy="955.8" r="5"/><circle cx="1036.5" cy="961.1" r="5"/><circle cx="1036.9" cy="959.4" r="5"/><circle cx="1037.3" cy="961.1" r="5"/><circle cx="1037.7" cy="959.8" r="5"/><circle cx="1038.1" cy="957" r="5"/><circle cx="1038.5" cy="958.2" r="5"/><circle cx="1038.9" cy="960.5" r="5"/><circle cx="1039.3" cy="959.8" r="5"/><circle cx="1039.7" cy="957.4" r="5"/><circle cx="1040" cy="958.7" r="5"/><circle cx="1040.4" cy="960.2" r="5"/><circle cx="1040.8" cy="960.1" r="5"/><circle cx="1041.2" cy="957.9" r="5"/><circle cx="1041.6" cy="958.9" r="5"/><circle cx="1042" cy="959.1" r="5"/><circle cx="1042.4" cy="958.1" r="5"/><circle cx="1042.8" cy="958.1" r="5"/><circle cx="1043.2" cy="959.7" r="5"/><circle cx="1043.6" cy="958.4" r="5"/><circle cx="1044" cy="958.3" r="5"/><circle cx="1044.4" cy="959.9" r="5"/><circle cx="1044.8" cy="959.9" r="5"/><circle cx="1045.2" cy="959.1" r="5"/><circle cx="1045.6" cy="957.9" r="5"/><circle cx="1046" cy="957.4" r="5"/><circle cx="1046.4" cy="957" r="5"/><circle cx="1046.8" cy="957.6" r="5"/><circle cx="1047.2" cy="958.8" r="5"/><circle cx="1047.6" cy="956.7" r="5"/><circle cx="1048" cy="957.3" r="5"/><circle cx="1048.4" cy="957.1" r="5"/><circle cx="1048.8" cy="958.7" r="5"/><circle cx="1049.2" cy="957.9" r="5"/><circle cx="1049.6" cy="960.4" r="5"/><circle cx="1050" cy="960.1" r="5"/><circle cx="1050.4" cy="958.5" r="5"/><circle cx="1050.8" cy="958.3" r="5"/><circle cx="1051.2" cy="959.8" r="5"/><circle cx="1051.6" cy="957.3" r="5"/><circle cx="1052" cy="959.7" r="5"/><circle cx="1052.4" cy="956.8" r="5"/><circle cx="1052.8" cy="957.9" r="5"/><circle cx="1053.2" cy="958.9" r="5"/><circle cx="1053.6" cy="958.6" r="5"/><circle cx="1054" cy="956.4" r="5"/><circle cx="1054.4" cy="957.4" r="5"/><circle cx="1054.8" cy="958.6" r="5"/><circle cx="1055.2" cy="956.4" r="5"/><circle cx="1055.6" cy="960.7" r="5"/><circle cx="1056" cy="957.5" r="5"/><circle cx="1056.4" cy="958.6" r="5"/><circle cx="1056.8" cy="962" r="5"/><circle cx="1057.2" cy="958.1" r="5"/><circle cx="1057.6" cy="958.8" r="5"/><circle cx="1058" cy="959.2" r="5"/><circle cx="1058.4" cy="958.3" r="5"/><circle cx="1058.8" cy="957.1" r="5"/><circle cx="1059.2" cy="956.5" r="5"/><circle cx="1059.6" cy="958.7" r="5"/><circle cx="1060" cy="958.2" r="5"/><circle cx="1060.4" cy="960.2" r="5"/><circle cx="1060.8" cy="958.7" r="5"/><circle cx="1061.2" cy="959.3" r="5"/><circle cx="1061.6" cy="957.1" r="5"/><circle cx="1062" cy="958" r="5"/><circle cx="1062.4" cy="959" r="5"/><circle cx="1062.8" cy="958" r="5"/><circle cx="1063.2" cy="959.3" r="5"/><circle cx="1063.6" cy="957.9" r="5"/><circle cx="1064" cy="958.1" r="5"/><circle cx="1064.4" cy="958.9" r="5"/><circle cx="1064.8" cy="957" r="5"/><circle cx="1065.2" cy="961.8" r="5"/><circle cx="1065.6" cy="956.8" r="5"/><circle cx="1066" cy="960.3" r="5"/><circle cx="1066.4" cy="960.4" r="5"/><circle cx="1066.7" cy="958.1" r="5"/><circle cx="1067.1" cy="959" r="5"/><circle cx="1067.5" cy="959.7" r="5"/><circle cx="1067.9" cy="958.9" r="5"/><circle cx="1068.3" cy="959.3" r="5"/><circle cx="1068.7" cy="958" r="5"/><circle cx="1069.1" cy="959.1" r="5"/><circle cx="1069.5" cy="957.8" r="5"/><circle cx="1069.9" cy="957" r="5"/><circle cx="1070.3" cy="958.2" r="5"/><circle cx="1070.7" cy="959.4" r="5"/><circle cx="1071.1" cy="958.8" r="5"/><circle cx="1071.5" cy="958.9" r="5"/><circle cx="1071.9" cy="958" r="5"/><circle cx="1072.3" cy="958.6" r="5"/><circle cx="1072.7" cy="957.5" r="5"/><circle cx="1073.1" cy="958.3" r="5"/><circle cx="1073.5" cy="958.6" r="5"/><circle cx="1073.9" cy="957.4" r="5"/><circle cx="1074.3" cy="960.4" r="5"/><circle cx="1074.7" cy="956" r="5"/><circle cx="1075.1" cy="959.3" r="5"/><circle cx="1075.5" cy="958" r="5"/><circle cx="1075.9" cy="959.8" r="5"/><circle cx="1076.3" cy="957.8" r="5"/><circle cx="1076.7" cy="959.5" r="5"/><circle cx="1077.1" cy="957.5" r="5"/><circle cx="1077.5" cy="957.5" r="5"/><circle cx="1077.9" cy="958.2" r="5"/><circle cx="1078.3" cy="958.5" r="5"/><circle cx="1078.7" cy="957.2" r="5"/><circle cx="1079.1" cy="960" r="5"/><circle cx="1079.5" cy="957.1" r="5"/><circle cx="1079.9" cy="958.2" r="5"/><circle cx="1080.3" cy="958.6" r="5"/><circle cx="1080.7" cy="958.3" r="5"/><circle cx="1081.1" cy="959.8" r="5"/><circle cx="1081.5" cy="957.3" r="5"/><circle cx="1081.9" cy="959.7" r="5"/><circle cx="1082.3" cy="959.9" r="5"/><circle cx="1082.7" cy="958.5" r="5"/><circle cx="1083.1" cy="961" r="5"/><circle cx="1083.5" cy="956.5" r="5"/><circle cx="1083.9" cy="957.7" r="5"/><circle cx="1084.3" cy="956.6" r="5"/><circle cx="1084.7" cy="954.5" r="5"/><circle cx="1085.1" cy="955.5" r="5"/><circle cx="1085.5" cy="958.8" r="5"/><circle cx="1085.9" cy="957.1" r="5"/><circle cx="1086.3" cy="955.4" r="5"/><circle cx="1086.7" cy="958.5" r="5"/><circle cx="1087.1" cy="956.8" r="5"/><circle cx="1087.5" cy="957.9" r="5"/><circle cx="1087.9" cy="957.8" r="5"/><circle cx="1088.3" cy="960.2" r="5"/><circle cx="1088.7" cy="955.4" r="5"/><circle cx="1089.1" cy="958.7" r="5"/><circle cx="1089.5" cy="962.8" r="5"/><circle cx="1089.9" cy="958.5" r="5"/><circle cx="1090.3" cy="958.8" r="5"/><circle cx="1090.7" cy="958.3" r="5"/><circle cx="1091.1" cy="959.5" r="5"/><circle cx="1091.5" cy="959" r="5"/><circle cx="1091.9" cy="959.2" r="5"/><circle cx="1092.3" cy="957" r="5"/><circle cx="1092.7" cy="958.4" r="5"/><circle cx="1093" cy="959.1" r="5"/><circle cx="1093.4" cy="958.5" r="5"/><circle cx="1093.8" cy="959.1" r="5"/><circle cx="1094.2" cy="959.8" r="5"/><circle cx="1094.6" cy="960.1" r="5"/><circle cx="1095" cy="958.7" r="5"/><circle cx="1095.4" cy="959.2" r="5"/><circle cx="1095.8" cy="958" r="5"/><circle cx="1096.2" cy="958" r="5"/><circle cx="1096.6" cy="959.4" r="5"/><circle cx="1097" cy="956.9" r="5"/><circle cx="1097.4" cy="960" r="5"/><circle cx="1097.8" cy="957" r="5"/><circle cx="1098.2" cy="958.3" r="5"/><circle cx="1098.6" cy="957.5" r="5"/><circle cx="1099" cy="957.4" r="5"/><circle cx="1099.4" cy="959.1" r="5"/><circle cx="1099.8" cy="956.3" r="5"/><circle cx="1100.2" cy="960.3" r="5"/><circle cx="1100.6" cy="956.4" r="5"/><circle cx="1101" cy="959.4" r="5"/><circle cx="1101.4" cy="958.1" r="5"/><circle cx="1101.8" cy="958.1" r="5"/><circle cx="1102.2" cy="958.9" r="5"/><circle cx="1102.6" cy="960.1" r="5"/><circle cx="1103" cy="958.7" r="5"/><circle cx="1103.4" cy="957.6" r="5"/><circle cx="1103.8" cy="958.5" r="5"/><circle cx="1104.2" cy="959.7" r="5"/><circle cx="1104.6" cy="957.2" r="5"/><circle cx="1105" cy="958.8" r="5"/><circle cx="1105.4" cy="960" r="5"/><circle cx="1105.8" cy="957.7" r="5"/><circle cx="1106.2" cy="958.3" r="5"/><circle cx="1106.6" cy="959.6" r="5"/><circle cx="1107" cy="957.7" r="5"/><circle cx="1107.4" cy="958.4" r="5"/><circle cx="1107.8" cy="958.1" r="5"/><circle cx="1108.2" cy="958.8" r="5"/><circle cx="1108.6" cy="957" r="5"/><circle cx="1109" cy="956.3" r="5"/><circle cx="1109.4" cy="959.9" r="5"/><circle cx="1109.8" cy="957.5" r="5"/><circle cx="1110.2" cy="957.2" r="5"/><circle cx="1110.6" cy="959.6" r="5"/><circle cx="1111" cy="957.7" r="5"/><circle cx="1111.4" cy="958.2" r="5"/><circle cx="1111.8" cy="957" r="5"/><circle cx="1112.2" cy="958.1" r="5"/><circle cx="1112.6" cy="958.9" r="5"/><circle cx="1113" cy="959.8" r="5"/><circle cx="1113.4" cy="959.4" r="5"/><circle cx="1113.8" cy="956.9" r="5"/><circle cx="1114.2" cy="958" r="5"/><circle cx="1114.6" cy="959.3" r="5"/><circle cx="1115" cy="957.4" r="5"/><circle cx="1115.4" cy="957.3" r="5"/><circle cx="1115.8" cy="958.1" r="5"/><circle cx="1116.2" cy="959.9" r="5"/><circle cx="1116.6" cy="957" r="5"/><circle cx="1117" cy="959.5" r="5"/><circle cx="1117.4" cy="959.4" r="5"/><circle cx="1117.8" cy="957.6" r="5"/><circle cx="1118.2" cy="956.9" r="5"/><circle cx="1118.6" cy="958.1" r="5"/><circle cx="1119" cy="958" r="5"/><circle cx="1119.4" cy="957.7" r="5"/><circle cx="1119.7" cy="958.5" r="5"/><circle cx="1120.1" cy="961.4" r="5"/><circle cx="1120.5" cy="959.7" r="5"/><circle cx="1120.9" cy="960" r="5"/><circle cx="1121.3" cy="958.4" r="5"/><circle cx="1121.7" cy="960" r="5"/><circle cx="1122.1" cy="957.6" r="5"/><circle cx="1122.5" cy="958.8" r="5"/><circle cx="1122.9" cy="959.9" r="5"/><circle cx="1123.3" cy="961.4" r="5"/><circle cx="1123.7" cy="959.2" r="5"/><circle cx="1124.1" cy="958.7" r="5"/><circle cx="1124.5" cy="958.4" r="5"/><circle cx="1124.9" cy="957.3" r="5"/><circle cx="1125.3" cy="959.2" r="5"/><circle cx="1125.7" cy="960.6" r="5"/><circle cx="1126.1" cy="959.3" r="5"/><circle cx="1126.5" cy="958.4" r="5"/><circle cx="1126.9" cy="958.1" r="5"/><circle cx="1127.3" cy="957.3" r="5"/><circle cx="1127.7" cy="960.2" r="5"/><circle cx="1128.1" cy="958.5" r="5"/><circle cx="1128.5" cy="960" r="5"/><circle cx="1128.9" cy="957.3" r="5"/><circle cx="1129.3" cy="959.4" r="5"/><circle cx="1129.7" cy="959.5" r="5"/><circle cx="1130.1" cy="958.3" r="5"/><circle cx="1130.5" cy="957.8" r="5"/><circle cx="1130.9" cy="961.8" r="5"/><circle cx="1131.3" cy="960.5" r="5"/><circle cx="1131.7" cy="960.1" r="5"/><circle cx="1132.1" cy="957.6" r="5"/><circle cx="1132.5" cy="960.3" r="5"/><circle cx="1132.9" cy="959.3" r="5"/><circle cx="1133.3" cy="960.7" r="5"/><circle cx="1133.7" cy="958.3" r="5"/><circle cx="1134.1" cy="958.2" r="5"/><circle cx="1134.5" cy="957.1" r="5"/><circle cx="1134.9" cy="956.5" r="5"/><circle cx="1135.3" cy="956.3" r="5"/><circle cx="1135.7" cy="958" r="5"/><circle cx="1136.1" cy="958.5" r="5"/><circle cx="1136.5" cy="960.4" r="5"/><circle cx="1136.9" cy="961" r="5"/><circle cx="1137.3" cy="957.7" r="5"/><circle cx="1137.7" cy="955.6" r="5"/><circle cx="1138.1" cy="958.8" r="5"/><circle cx="1138.5" cy="959" r="5"/><circle cx="1138.9" cy="957.9" r="5"/><circle cx="1139.3" cy="957.3" r="5"/><circle cx="1139.7" cy="957.6" r="5"/><circle cx="1140.1" cy="958.7" r="5"/><circle cx="1140.5" cy="958.7" r="5"/><circle cx="1140.9" cy="956.3" r="5"/><circle cx="1141.3" cy="958.3" r="5"/><circle cx="1141.7" cy="957.2" r="5"/><circle cx="1142.1" cy="957.2" r="5"/><circle cx="1142.5" cy="958.6" r="5"/><circle cx="1142.9" cy="957.4" r="5"/><circle cx="1143.3" cy="958.7" r="5"/><circle cx="1143.7" cy="955.3" r="5"/><circle cx="1144.1" cy="959.1" r="5"/><circle cx="1144.5" cy="958.7" r="5"/><circle cx="1144.9" cy="957.8" r="5"/><circle cx="1145.3" cy="957.4" r="5"/><circle cx="1145.7" cy="956.4" r="5"/><circle cx="1146.1" cy="957" r="5"/><circle cx="1146.4" cy="960.7" r="5"/><circle cx="1146.8" cy="958.9" r="5"/><circle cx="1147.2" cy="958.3" r="5"/><circle cx="1147.6" cy="957.6" r="5"/><circle cx="1148" cy="957.6" r="5"/><circle cx="1148.4" cy="956.9" r="5"/><circle cx="1148.8" cy="958.8" r="5"/><circle cx="1149.2" cy="959.6" r="5"/><circle cx="1149.6" cy="957.1" r="5"/><circle cx="1150" cy="959.2" r="5"/><circle cx="1150.4" cy="957.9" r="5"/><circle cx="1150.8" cy="958.9" r="5"/><circle cx="1151.2" cy="957.3" r="5"/><circle cx="1151.6" cy="959.4" r="5"/><circle cx="1152" cy="960.6" r="5"/><circle cx="1152.4" cy="957.7" r="5"/><circle cx="1152.8" cy="958.1" r="5"/><circle cx="1153.2" cy="959.6" r="5"/><circle cx="1153.6" cy="957.6" r="5"/><circle cx="1154" cy="956.8" r="5"/><circle cx="1154.4" cy="955.2" r="5"/><circle cx="1154.8" cy="957.8" r="5"/><circle cx="1155.2" cy="959.9" r="5"/><circle cx="1155.6" cy="957.5" r="5"/><circle cx="1156" cy="958.2" r="5"/><circle cx="1156.4" cy="955.3" r="5"/><circle cx="1156.8" cy="957.8" r="5"/><circle cx="1157.2" cy="958.2" r="5"/><circle cx="1157.6" cy="957.6" r="5"/><circle cx="1158" cy="957.8" r="5"/><circle cx="1158.4" cy="956.9" r="5"/><circle cx="1158.8" cy="957.2" r="5"/><circle cx="1159.2" cy="959.9" r="5"/><circle cx="1159.6" cy="956.9" r="5"/><circle cx="1160" cy="960" r="5"/><circle cx="1160.4" cy="956.7" r="5"/><circle cx="1160.8" cy="960" r="5"/><circle cx="1161.2" cy="958.3" r="5"/><circle cx="1161.6" cy="959.2" r="5"/><circle cx="1162" cy="958.2" r="5"/><circle cx="1162.4" cy="959.1" r="5"/><circle cx="1162.8" cy="961.4" r="5"/><circle cx="1163.2" cy="955.5" r="5"/><circle cx="1163.6" cy="957.7" r="5"/><circle cx="1164" cy="959" r="5"/><circle cx="1164.4" cy="960.3" r="5"/><circle cx="1164.8" cy="956.8" r="5"/><circle cx="1165.2" cy="958.5" r="5"/><circle cx="1165.6" cy="959.6" r="5"/><circle cx="1166" cy="957.8" r="5"/><circle cx="1166.4" cy="958.5" r="5"/><circle cx="1166.8" cy="958.8" r="5"/><circle cx="1167.2" cy="959.7" r="5"/><circle cx="1167.6" cy="959" r="5"/><circle cx="1168" cy="959" r="5"/><circle cx="1168.4" cy="957.6" r="5"/><circle cx="1168.8" cy="957.8" r="5"/><circle cx="1169.2" cy="961.3" r="5"/><circle cx="1169.6" cy="956.9" r="5"/><circle cx="1170" cy="958" r="5"/><circle cx="1170.4" cy="957.6" r="5"/><circle cx="1170.8" cy="958.6" r="5"/><circle cx="1171.2" cy="957.3" r="5"/><circle cx="1171.6" cy="959.4" r="5"/><circle cx="1172" cy="957.5" r="5"/><circle cx="1172.4" cy="957.7" r="5"/><circle cx="1172.7" cy="956.5" r="5"/><circle cx="1173.1" cy="957.9" r="5"/><circle cx="1173.5" cy="956.5" r="5"/><circle cx="1173.9" cy="958.1" r="5"/><circle cx="1174.3" cy="959.1" r="5"/><circle cx="1174.7" cy="956.3" r="5"/><circle cx="1175.1" cy="960.8" r="5"/><circle cx="1175.5" cy="959.5" r="5"/><circle cx="1175.9" cy="958.7" r="5"/><circle cx="1176.3" cy="958" r="5"/><circle cx="1176.7" cy="959.8" r="5"/><circle cx="1177.1" cy="959" r="5"/><circle cx="1177.5" cy="957.9" r="5"/><circle cx="1177.9" cy="958.7" r="5"/><circle cx="1178.3" cy="958.6" r="5"/><circle cx="1178.7" cy="957.4" r="5"/><circle cx="1179.1" cy="960.2" r="5"/><circle cx="1179.5" cy="956.8" r="5"/><circle cx="1179.9" cy="959" r="5"/><circle cx="1180.3" cy="957.3" r="5"/><circle cx="1180.7" cy="958.4" r="5"/><circle cx="1181.1" cy="958.2" r="5"/><circle cx="1181.5" cy="958.7" r="5"/><circle cx="1181.9" cy="960.5" r="5"/><circle cx="1182.3" cy="957.9" r="5"/><circle cx="1182.7" cy="959.2" r="5"/><circle cx="1183.1" cy="959" r="5"/><circle cx="1183.5" cy="958.8" r="5"/><circle cx="1183.9" cy="957" r="5"/><circle cx="1184.3" cy="958.5" r="5"/><circle cx="1184.7" cy="956.4" r="5"/><circle cx="1185.1" cy="959.9" r="5"/><circle cx="1185.5" cy="960.4" r="5"/><circle cx="1185.9" cy="958.7" r="5"/><circle cx="1186.3" cy="959.2" r="5"/><circle cx="1186.7" cy="958.5" r="5"/><circle cx="1187.1" cy="956.2" r="5"/><circle cx="1187.5" cy="958.1" r="5"/><circle cx="1187.9" cy="959.7" r="5"/><circle cx="1188.3" cy="958.4" r="5"/><circle cx="1188.7" cy="957.4" r="5"/><circle cx="1189.1" cy="954.8" r="5"/><circle cx="1189.5" cy="959.8" r="5"/><circle cx="1189.9" cy="960.6" r="5"/><circle cx="1190.3" cy="960.7" r="5"/><circle cx="1190.7" cy="961.7" r="5"/><circle cx="1191.1" cy="955.7" r="5"/><circle cx="1191.5" cy="958.5" r="5"/><circle cx="1191.9" cy="959.3" r="5"/><circle cx="1192.3" cy="957.8" r="5"/><circle cx="1192.7" cy="958.8" r="5"/><circle cx="1193.1" cy="960" r="5"/><circle cx="1193.5" cy="957.7" r="5"/><circle cx="1193.9" cy="959.3" r="5"/><circle cx="1194.3" cy="957.3" r="5"/><circle cx="1194.7" cy="955.3" r="5"/><circle cx="1195.1" cy="958.5" r="5"/><circle cx="1195.5" cy="959.1" r="5"/><circle cx="1195.9" cy="959.1" r="5"/><circle cx="1196.3" cy="959.5" r="5"/><circle cx="1196.7" cy="957.2" r="5"/><circle cx="1197.1" cy="959.3" r="5"/><circle cx="1197.5" cy="954.5" r="5"/><circle cx="1197.9" cy="958.7" r="5"/><circle cx="1198.3" cy="956.8" r="5"/><circle cx="1198.7" cy="958.5" r="5"/><circle cx="1199.1" cy="956.9" r="5"/><circle cx="1199.4" cy="958.7" r="5"/><circle cx="1199.8" cy="959.6" r="5"/><circle cx="1200.2" cy="959.9" r="5"/><circle cx="1200.6" cy="957.8" r="5"/><circle cx="1201" cy="960.3" r="5"/><circle cx="1201.4" cy="958.9" r="5"/><circle cx="1201.8" cy="960.3" r="5"/><circle cx="1202.2" cy="958.4" r="5"/><circle cx="1202.6" cy="957.1" r="5"/><circle cx="1203" cy="958.6" r="5"/><circle cx="1203.4" cy="957.3" r="5"/><circle cx="1203.8" cy="957.2" r="5"/><circle cx="1204.2" cy="955.8" r="5"/><circle cx="1204.6" cy="958.7" r="5"/><circle cx="1205" cy="960.2" r="5"/><circle cx="1205.4" cy="957.1" r="5"/><circle cx="1205.8" cy="958.2" r="5"/><circle cx="1206.2" cy="956.5" r="5"/><circle cx="1206.6" cy="959" r="5"/><circle cx="1207" cy="959.9" r="5"/><circle cx="1207.4" cy="958.4" r="5"/><circle cx="1207.8" cy="959.3" r="5"/><circle cx="1208.2" cy="959.4" r="5"/><circle cx="1208.6" cy="958.2" r="5"/><circle cx="1209" cy="959.4" r="5"/><circle cx="1209.4" cy="956.3" r="5"/><circle cx="1209.8" cy="958.3" r="5"/><circle cx="1210.2" cy="958.7" r="5"/><circle cx="1210.6" cy="959.3" r="5"/><circle cx="1211" cy="960.1" r="5"/><circle cx="1211.4" cy="958.2" r="5"/><circle cx="1211.8" cy="957.4" r="5"/><circle cx="1212.2" cy="957.9" r="5"/><circle cx="1212.6" cy="958.1" r="5"/><circle cx="1213" cy="957.3" r="5"/><circle cx="1213.4" cy="956.7" r="5"/><circle cx="1213.8" cy="958.8" r="5"/><circle cx="1214.2" cy="956.9" r="5"/><circle cx="1214.6" cy="958.4" r="5"/><circle cx="1215" cy="958.5" r="5"/><circle cx="1215.4" cy="958.4" r="5"/><circle cx="1215.8" cy="959.8" r="5"/><circle cx="1216.2" cy="958.9" r="5"/><circle cx="1216.6" cy="958.7" r="5"/><circle cx="1217" cy="960.3" r="5"/><circle cx="1217.4" cy="958" r="5"/><circle cx="1217.8" cy="956.7" r="5"/><circle cx="1218.2" cy="957.8" r="5"/><circle cx="1218.6" cy="959.7" r="5"/><circle cx="1219" cy="957.2" r="5"/><circle cx="1219.4" cy="957.4" r="5"/><circle cx="1219.8" cy="959.1" r="5"/><circle cx="1220.2" cy="961.6" r="5"/><circle cx="1220.6" cy="957.9" r="5"/><circle cx="1221" cy="959.8" r="5"/><circle cx="1221.4" cy="960.4" r="5"/><circle cx="1221.8" cy="957.8" r="5"/><circle cx="1222.2" cy="957.6" r="5"/><circle cx="1222.6" cy="958.2" r="5"/><circle cx="1223" cy="957.6" r="5"/><circle cx="1223.4" cy="958.5" r="5"/><circle cx="1223.8" cy="956.9" r="5"/><circle cx="1224.2" cy="958.1" r="5"/><circle cx="1224.6" cy="958.3" r="5"/><circle cx="1225" cy="961.1" r="5"/><circle cx="1225.4" cy="956.7" r="5"/><circle cx="1225.8" cy="958.6" r="5"/><circle cx="1226.1" cy="957.5" r="5"/><circle cx="1226.5" cy="958.4" r="5"/><circle cx="1226.9" cy="957.9" r="5"/><circle cx="1227.3" cy="957.4" r="5"/><circle cx="1227.7" cy="958.2" r="5"/><circle cx="1228.1" cy="957.5" r="5"/><circle cx="1228.5" cy="958.7" r="5"/><circle cx="1228.9" cy="959.7" r="5"/><circle cx="1229.3" cy="959.1" r="5"/><circle cx="1229.7" cy="958.6" r="5"/><circle cx="1230.1" cy="959.3" r="5"/><circle cx="1230.5" cy="958.2" r="5"/><circle cx="1230.9" cy="959.1" r="5"/><circle cx="1231.3" cy="961.9" r="5"/><circle cx="1231.7" cy="959" r="5"/><circle cx="1232.1" cy="961" r="5"/><circle cx="1232.5" cy="959.4" r="5"/><circle cx="1232.9" cy="957.9" r="5"/><circle cx="1233.3" cy="958.8" r="5"/><circle cx="1233.7" cy="957.2" r="5"/><circle cx="1234.1" cy="959.1" r="5"/><circle cx="1234.5" cy="960" r="5"/><circle cx="1234.9" cy="959" r="5"/><circle cx="1235.3" cy="959.6" r="5"/><circle cx="1235.7" cy="958.5" r="5"/><circle cx="1236.1" cy="957.9" r="5"/><circle cx="1236.5" cy="956.1" r="5"/><circle cx="1236.9" cy="959.1" r="5"/><circle cx="1237.3" cy="959.7" r="5"/><circle cx="1237.7" cy="959.5" r="5"/><circle cx="1238.1" cy="958.1" r="5"/><circle cx="1238.5" cy="959.2" r="5"/><circle cx="1238.9" cy="959.1" r="5"/><circle cx="1239.3" cy="959.3" r="5"/><circle cx="1239.7" cy="957.6" r="5"/><circle cx="1240.1" cy="957" r="5"/><circle cx="1240.5" cy="955.9" r="5"/><circle cx="1240.9" cy="957.9" r="5"/><circle cx="1241.3" cy="957.9" r="5"/><circle cx="1241.7" cy="957.4" r="5"/><circle cx="1242.1" cy="958.6" r="5"/><circle cx="1242.5" cy="956.8" r="5"/><circle cx="1242.9" cy="958.7" r="5"/><circle cx="1243.3" cy="960.4" r="5"/><circle cx="1243.7" cy="958.2" r="5"/><circle cx="1244.1" cy="956.2" r="5"/><circle cx="1244.5" cy="958.4" r="5"/><circle cx="1244.9" cy="957.7" r="5"/><circle cx="1245.3" cy="958.5" r="5"/><circle cx="1245.7" cy="958" r="5"/><circle cx="1246.1" cy="957.6" r="5"/><circle cx="1246.5" cy="958.8" r="5"/><circle cx="1246.9" cy="959.7" r="5"/><circle cx="1247.3" cy="958.2" r="5"/><circle cx="1247.7" cy="958.5" r="5"/><circle cx="1248.1" cy="956.4" r="5"/><circle cx="1248.5" cy="961" r="5"/><circle cx="1248.9" cy="957.3" r="5"/><circle cx="1249.3" cy="958.4" r="5"/><circle cx="1249.7" cy="956.6" r="5"/><circle cx="1250.1" cy="959" r="5"/><circle cx="1250.5" cy="957.2" r="5"/><circle cx="1250.9" cy="958.5" r="5"/><circle cx="1251.3" cy="957.6" r="5"/><circle cx="1251.7" cy="958" r="5"/><circle cx="1252.1" cy="958" r="5"/><circle cx="1252.4" cy="957.3" r="5"/><circle cx="1252.8" cy="958.2" r="5"/><circle cx="1253.2" cy="957.4" r="5"/><circle cx="1253.6" cy="958" r="5"/><circle cx="1254" cy="957.9" r="5"/><circle cx="1254.4" cy="957" r="5"/><circle cx="1254.8" cy="958.6" r="5"/><circle cx="1255.2" cy="959.1" r="5"/><circle cx="1255.6" cy="958.6" r="5"/><circle cx="1256" cy="956.4" r="5"/><circle cx="1256.4" cy="959" r="5"/><circle cx="1256.8" cy="959.4" r="5"/><circle cx="1257.2" cy="956.3" r="5"/><circle cx="1257.6" cy="959.6" r="5"/><circle cx="1258" cy="955.4" r="5"/><circle cx="1258.4" cy="958.7" r="5"/><circle cx="1258.8" cy="959.2" r="5"/><circle cx="1259.2" cy="959.9" r="5"/><circle cx="1259.6" cy="960.2" r="5"/><circle cx="1260" cy="958.9" r="5"/><circle cx="1260.4" cy="959.5" r="5"/><circle cx="1260.8" cy="960.3" r="5"/><circle cx="1261.2" cy="960.6" r="5"/><circle cx="1261.6" cy="958.7" r="5"/><circle cx="1262" cy="959.4" r="5"/><circle cx="1262.4" cy="956.9" r="5"/><circle cx="1262.8" cy="957.4" r="5"/><circle cx="1263.2" cy="960.1" r="5"/><circle cx="1263.6" cy="958.9" r="5"/><circle cx="1264" cy="956.9" r="5"/><circle cx="1264.4" cy="958.2" r="5"/><circle cx="1264.8" cy="956.3" r="5"/><circle cx="1265.2" cy="958.3" r="5"/><circle cx="1265.6" cy="959.6" r="5"/><circle cx="1266" cy="956.3" r="5"/><circle cx="1266.4" cy="958.3" r="5"/><circle cx="1266.8" cy="958.8" r="5"/><circle cx="1267.2" cy="958.2" r="5"/><circle cx="1267.6" cy="958.6" r="5"/><circle cx="1268" cy="957.6" r="5"/><circle cx="1268.4" cy="957.4" r="5"/><circle cx="1268.8" cy="958.5" r="5"/><circle cx="1269.2" cy="956.1" r="5"/><circle cx="1269.6" cy="958.3" r="5"/><circle cx="1270" cy="956.6" r="5"/><circle cx="1270.4" cy="957.5" r="5"/><circle cx="1270.8" cy="960.2" r="5"/><circle cx="1271.2" cy="957.9" r="5"/><circle cx="1271.6" cy="957.8" r="5"/><circle cx="1272" cy="959.5" r="5"/><circle cx="1272.4" cy="957.5" r="5"/><circle cx="1272.8" cy="957.7" r="5"/><circle cx="1273.2" cy="958.3" r="5"/><circle cx="1273.6" cy="959.2" r="5"/><circle cx="1274" cy="957.3" r="5"/><circle cx="1274.4" cy="958.4" r="5"/><circle cx="1274.8" cy="956.1" r="5"/><circle cx="1275.2" cy="956.9" r="5"/><circle cx="1275.6" cy="958.3" r="5"/><circle cx="1276" cy="957.6" r="5"/><circle cx="1276.4" cy="958.7" r="5"/><circle cx="1276.8" cy="959.4" r="5"/><circle cx="1277.2" cy="955.8" r="5"/><circle cx="1277.6" cy="958.8" r="5"/><circle cx="1278" cy="958.6" r="5"/><circle cx="1278.4" cy="958" r="5"/><circle cx="1278.8" cy="958.6" r="5"/><circle cx="1279.1" cy="957.4" r="5"/><circle cx="1279.5" cy="958.9" r="5"/><circle cx="1279.9" cy="958.6" r="5"/><circle cx="1280.3" cy="960.7" r="5"/><circle cx="1280.7" cy="956" r="5"/><circle cx="1281.1" cy="957.1" r="5"/><circle cx="1281.5" cy="958.9" r="5"/><circle cx="1281.9" cy="959.6" r="5"/><circle cx="1282.3" cy="956.9" r="5"/><circle cx="1282.7" cy="957.1" r="5"/><circle cx="1283.1" cy="957.8" r="5"/><circle cx="1283.5" cy="958.9" r="5"/><circle cx="1283.9" cy="957.3" r="5"/><circle cx="1284.3" cy="959.6" r="5"/><circle cx="1284.7" cy="960.3" r="5"/><circle cx="1285.1" cy="958.1" r="5"/><circle cx="1285.5" cy="959.8" r="5"/><circle cx="1285.9" cy="956.5" r="5"/><circle cx="1286.3" cy="957.2" r="5"/><circle cx="1286.7" cy="959.1" r="5"/><circle cx="1287.1" cy="959.5" r="5"/><circle cx="1287.5" cy="956.8" r="5"/><circle cx="1287.9" cy="957.8" r="5"/><circle cx="1288.3" cy="959" r="5"/><circle cx="1288.7" cy="958.4" r="5"/><circle cx="1289.1" cy="957.5" r="5"/><circle cx="1289.5" cy="958.4" r="5"/><circle cx="1289.9" cy="959.4" r="5"/><circle cx="1290.3" cy="957.8" r="5"/><circle cx="1290.7" cy="956.8" r="5"/><circle cx="1291.1" cy="960" r="5"/><circle cx="1291.5" cy="957.9" r="5"/><circle cx="1291.9" cy="955.9" r="5"/><circle cx="1292.3" cy="958.8" r="5"/></g>
<text x="734.4" y="993.5" font-family='"Liberation Sans", sans-serif' font-size="25.5" font-weight="bold" fill="#000" text-anchor="middle" >30</text>
<text x="814.1" y="993.5" font-family='"Liberation Sans", sans-serif' font-size="25.5" font-weight="bold" fill="#000" text-anchor="middle" >40</text>
<text x="893.8" y="993.5" font-family='"Liberation Sans", sans-serif' font-size="25.5" font-weight="bold" fill="#000" text-anchor="middle" >50</text>
<text x="973.5" y="993.5" font-family='"Liberation Sans", sans-serif' font-size="25.5" font-weight="bold" fill="#000" text-anchor="middle" >60</text>
<text x="1053.2" y="993.5" font-family='"Liberation Sans", sans-serif' font-size="25.5" font-weight="bold" fill="#000" text-anchor="middle" >70</text>
<text x="1132.9" y="993.5" font-family='"Liberation Sans", sans-serif' font-size="25.5" font-weight="bold" fill="#000" text-anchor="middle" >80</text>
<text x="1212.6" y="993.5" font-family='"Liberation Sans", sans-serif' font-size="25.5" font-weight="bold" fill="#000" text-anchor="middle" >90</text>
<text x="1292.3" y="993.5" font-family='"Liberation Sans", sans-serif' font-size="25.5" font-weight="bold" fill="#000" text-anchor="middle" >100</text>
<text transform="translate(702,768.5) rotate(-90)" font-family='"Liberation Sans", sans-serif' font-size="36.5" font-weight="bold" fill="#000" text-anchor="middle" textLength="117" lengthAdjust="spacingAndGlyphs" >Counts</text>
<text x="1013.3" y="1025.7" font-family='"Liberation Sans", sans-serif' font-size="28" font-weight="bold" fill="#000" text-anchor="middle" textLength="123.4" lengthAdjust="spacingAndGlyphs" >Time (ns)</text>
<text x="666.3" y="561.5" font-family='"Liberation Serif", serif' font-size="44" font-weight="bold" fill="#000" text-anchor="start" textLength="50.5" lengthAdjust="spacingAndGlyphs" >(d)</text>
<rect x="943" y="549" width="335" height="247" fill="#fff" stroke="#000" stroke-width="3"/>
<line x1="942.7" y1="796" x2="942.7" y2="803" stroke="#000" stroke-width="2.5" />
<line x1="984.4" y1="796" x2="984.4" y2="800" stroke="#000" stroke-width="2.5" />
<line x1="1026" y1="796" x2="1026" y2="803" stroke="#000" stroke-width="2.5" />
<line x1="1067.7" y1="796" x2="1067.7" y2="800" stroke="#000" stroke-width="2.5" />
<line x1="1109.3" y1="796" x2="1109.3" y2="803" stroke="#000" stroke-width="2.5" />
<line x1="1151" y1="796" x2="1151" y2="800" stroke="#000" stroke-width="2.5" />
<line x1="1192.6" y1="796" x2="1192.6" y2="803" stroke="#000" stroke-width="2.5" />
<line x1="1234.3" y1="796" x2="1234.3" y2="800" stroke="#000" stroke-width="2.5" />
<line x1="1275.9" y1="796" x2="1275.9" y2="803" stroke="#000" stroke-width="2.5" />
<line x1="937" y1="797" x2="943" y2="797" stroke="#000" stroke-width="2" />
<line x1="939.5" y1="779.6" x2="943" y2="779.6" stroke="#000" stroke-width="1.6" />
<line x1="939.5" y1="769.5" x2="943" y2="769.5" stroke="#000" stroke-width="1.6" />
<line x1="939.5" y1="762.3" x2="943" y2="762.3" stroke="#000" stroke-width="1.6" />
<line x1="939.5" y1="756.7" x2="943" y2="756.7" stroke="#000" stroke-width="1.6" />
<line x1="939.5" y1="752.1" x2="943" y2="752.1" stroke="#000" stroke-width="1.6" />
<line x1="939.5" y1="748.2" x2="943" y2="748.2" stroke="#000" stroke-width="1.6" />
<line x1="939.5" y1="744.9" x2="943" y2="744.9" stroke="#000" stroke-width="1.6" />
<line x1="939.5" y1="741.9" x2="943" y2="741.9" stroke="#000" stroke-width="1.6" />
<line x1="937" y1="739.3" x2="943" y2="739.3" stroke="#000" stroke-width="2" />
<line x1="939.5" y1="721.9" x2="943" y2="721.9" stroke="#000" stroke-width="1.6" />
<line x1="939.5" y1="711.8" x2="943" y2="711.8" stroke="#000" stroke-width="1.6" />
<line x1="939.5" y1="704.6" x2="943" y2="704.6" stroke="#000" stroke-width="1.6" />
<line x1="939.5" y1="699" x2="943" y2="699" stroke="#000" stroke-width="1.6" />
<line x1="939.5" y1="694.4" x2="943" y2="694.4" stroke="#000" stroke-width="1.6" />
<line x1="939.5" y1="690.5" x2="943" y2="690.5" stroke="#000" stroke-width="1.6" />
<line x1="939.5" y1="687.2" x2="943" y2="687.2" stroke="#000" stroke-width="1.6" />
<line x1="939.5" y1="684.2" x2="943" y2="684.2" stroke="#000" stroke-width="1.6" />
<line x1="937" y1="681.6" x2="943" y2="681.6" stroke="#000" stroke-width="2" />
<line x1="939.5" y1="664.2" x2="943" y2="664.2" stroke="#000" stroke-width="1.6" />
<line x1="939.5" y1="654.1" x2="943" y2="654.1" stroke="#000" stroke-width="1.6" />
<line x1="939.5" y1="646.9" x2="943" y2="646.9" stroke="#000" stroke-width="1.6" />
<line x1="939.5" y1="641.3" x2="943" y2="641.3" stroke="#000" stroke-width="1.6" />
<line x1="939.5" y1="636.7" x2="943" y2="636.7" stroke="#000" stroke-width="1.6" />
<line x1="939.5" y1="632.8" x2="943" y2="632.8" stroke="#000" stroke-width="1.6" />
<line x1="939.5" y1="629.5" x2="943" y2="629.5" stroke="#000" stroke-width="1.6" />
<line x1="939.5" y1="626.5" x2="943" y2="626.5" stroke="#000" stroke-width="1.6" />
<line x1="937" y1="623.9" x2="943" y2="623.9" stroke="#000" stroke-width="2" />
<line x1="939.5" y1="606.5" x2="943" y2="606.5" stroke="#000" stroke-width="1.6" />
<line x1="939.5" y1="596.4" x2="943" y2="596.4" stroke="#000" stroke-width="1.6" />
<line x1="939.5" y1="589.2" x2="943" y2="589.2" stroke="#000" stroke-width="1.6" />
<line x1="939.5" y1="583.6" x2="943" y2="583.6" stroke="#000" stroke-width="1.6" />
<line x1="939.5" y1="579" x2="943" y2="579" stroke="#000" stroke-width="1.6" />
<line x1="939.5" y1="575.1" x2="943" y2="575.1" stroke="#000" stroke-width="1.6" />
<line x1="939.5" y1="571.8" x2="943" y2="571.8" stroke="#000" stroke-width="1.6" />
<line x1="939.5" y1="568.8" x2="943" y2="568.8" stroke="#000" stroke-width="1.6" />
<line x1="937" y1="566.2" x2="943" y2="566.2" stroke="#000" stroke-width="2" />
<path d="M943,550 L1192,796 L1189,796 L1110,712 L1050,654 L943,551 Z" fill="#ff0000" stroke="#ff0000" stroke-width="1.6" stroke-linejoin="round"/>
<text x="936.2" y="827" font-family='"Liberation Sans", sans-serif' font-size="26" font-weight="bold" fill="#000" text-anchor="middle" font-style="italic" >36</text>
<text x="1019.5" y="827" font-family='"Liberation Sans", sans-serif' font-size="26" font-weight="bold" fill="#000" text-anchor="middle" font-style="italic" >39</text>
<text x="1102.8" y="827" font-family='"Liberation Sans", sans-serif' font-size="26" font-weight="bold" fill="#000" text-anchor="middle" font-style="italic" >42</text>
<text x="1186.1" y="827" font-family='"Liberation Sans", sans-serif' font-size="26" font-weight="bold" fill="#000" text-anchor="middle" font-style="italic" >45</text>
<text x="1269.4" y="827" font-family='"Liberation Sans", sans-serif' font-size="26" font-weight="bold" fill="#000" text-anchor="middle" font-style="italic" >48</text>
<text transform="translate(914.2,675.3) rotate(-90)" font-family='"Liberation Sans", sans-serif' font-size="37" font-weight="bold" fill="#000" text-anchor="middle" textLength="116.6" lengthAdjust="spacingAndGlyphs" >Counts</text>
<text x="1119" y="859" font-family='"Liberation Sans", sans-serif' font-size="28.5" font-weight="bold" fill="#000" text-anchor="middle" textLength="126.7" lengthAdjust="spacingAndGlyphs" >Time (ns)</text>
<circle cx="1139" cy="581" r="5" fill="url(#dk)"/>
<circle cx="1139" cy="621.5" r="5" fill="url(#dr)"/>
<text x="1171" y="588" font-family='"Liberation Sans", sans-serif' font-size="28.4" font-weight="bold" fill="#000" text-anchor="start" textLength="99.5" lengthAdjust="spacingAndGlyphs" >Prompt</text>
<text x="1171" y="628" font-family='"Liberation Sans", sans-serif' font-size="28" font-weight="bold" fill="#ff0000" text-anchor="start" textLength="82" lengthAdjust="spacingAndGlyphs" >Decay</text>
<defs><radialGradient id="sph" cx="0.45" cy="0.4" r="0.62"><stop offset="0" stop-color="#fafafa"/><stop offset="0.35" stop-color="#d8d8d8"/><stop offset="0.8" stop-color="#7a7a7a"/><stop offset="1" stop-color="#505050"/></radialGradient></defs>
<text x="5.5" y="1085.5" font-family='"Liberation Serif", serif' font-size="44" font-weight="bold" fill="#000" text-anchor="start" textLength="48.5" lengthAdjust="spacingAndGlyphs" >(e)</text>
<line x1="234" y1="1073.3" x2="264.8" y2="1073.3" stroke="#000" stroke-width="3" stroke-linecap="round"/>
<line x1="264.8" y1="1073.3" x2="279.2" y2="1100.2" stroke="#000" stroke-width="3" stroke-linecap="round"/>
<line x1="279.2" y1="1100.2" x2="263.4" y2="1125.3" stroke="#000" stroke-width="3" stroke-linecap="round"/>
<line x1="263.4" y1="1125.3" x2="234" y2="1125.3" stroke="#000" stroke-width="3" stroke-linecap="round"/>
<line x1="234" y1="1125.3" x2="218.9" y2="1098" stroke="#000" stroke-width="3" stroke-linecap="round"/>
<line x1="218.9" y1="1098" x2="234" y2="1073.3" stroke="#000" stroke-width="3" stroke-linecap="round"/>
<line x1="239" y1="1081.6" x2="226.8" y2="1099.5" stroke="#000" stroke-width="2.6" stroke-linecap="round"/>
<line x1="262.7" y1="1081.6" x2="271.3" y2="1098.8" stroke="#000" stroke-width="2.6" stroke-linecap="round"/>
<line x1="239" y1="1118.1" x2="258.4" y2="1118.1" stroke="#000" stroke-width="2.6" stroke-linecap="round"/>
<line x1="264.8" y1="1073.3" x2="274.1" y2="1057.2" stroke="#000" stroke-width="3" stroke-linecap="round"/>
<text x="283" y="1056.3" font-family='"Liberation Serif", serif' font-size="22" text-anchor="middle" fill="#111">Cl</text>
<line x1="218.9" y1="1098" x2="193.1" y2="1098" stroke="#000" stroke-width="3" stroke-linecap="round"/>
<text x="180" y="1106.3" font-family='"Liberation Serif", serif' font-size="22" text-anchor="middle" fill="#111">Cl</text>
<line x1="263.4" y1="1125.3" x2="274.1" y2="1144" stroke="#000" stroke-width="3" stroke-linecap="round"/>
<text x="281" y="1160.3" font-family='"Liberation Serif", serif' font-size="22" text-anchor="middle" fill="#111">Cl</text>
<line x1="234" y1="1125.3" x2="224" y2="1143.2" stroke="#000" stroke-width="2.8" stroke-linecap="round"/>
<text x="216.5" y="1158.9" font-family='"Liberation Serif", serif' font-size="24" text-anchor="middle" fill="#111">O</text>
<line x1="206.9" y1="1150" x2="187.1" y2="1150.3" stroke="#000" stroke-width="2.8" stroke-linecap="round"/>
<line x1="190.5" y1="1148.2" x2="182.3" y2="1132.2" stroke="#000" stroke-width="2.8" stroke-linecap="round"/>
<line x1="185" y1="1151.6" x2="175.5" y2="1136.3" stroke="#000" stroke-width="2.8" stroke-linecap="round"/>
<text x="172.8" y="1131.5" font-family='"Liberation Serif", serif' font-size="24" text-anchor="middle" fill="#111">O</text>
<line x1="187.1" y1="1150.3" x2="171.4" y2="1174.8" stroke="#000" stroke-width="2.8" stroke-linecap="round"/>
<line x1="171.4" y1="1175.5" x2="151.6" y2="1175.5" stroke="#000" stroke-width="2.8" stroke-linecap="round"/>
<text x="140.4" y="1183.4" font-family='"Liberation Serif", serif' font-size="24" text-anchor="middle" fill="#111">O</text>
<line x1="169.4" y1="1176.9" x2="178.2" y2="1195.3" stroke="#000" stroke-width="2.8" stroke-linecap="round"/>
<line x1="173.4" y1="1174.1" x2="185" y2="1191.2" stroke="#000" stroke-width="2.8" stroke-linecap="round"/>
<text x="186.4" y="1211" font-family='"Liberation Serif", serif' font-size="24" text-anchor="middle" fill="#111">O</text>
<line x1="95.2" y1="1200.9" x2="126" y2="1200.9" stroke="#000" stroke-width="3" stroke-linecap="round"/>
<line x1="126" y1="1200.9" x2="138.9" y2="1227.4" stroke="#000" stroke-width="3" stroke-linecap="round"/>
<line x1="138.9" y1="1227.4" x2="125.3" y2="1253.2" stroke="#000" stroke-width="3" stroke-linecap="round"/>
<line x1="125.3" y1="1253.2" x2="94.5" y2="1253.2" stroke="#000" stroke-width="3" stroke-linecap="round"/>
<line x1="94.5" y1="1253.2" x2="79.4" y2="1226" stroke="#000" stroke-width="3" stroke-linecap="round"/>
<line x1="79.4" y1="1226" x2="95.2" y2="1200.9" stroke="#000" stroke-width="3" stroke-linecap="round"/>
<line x1="99.5" y1="1207.3" x2="121.7" y2="1207.3" stroke="#000" stroke-width="2.6" stroke-linecap="round"/>
<line x1="86.6" y1="1227.4" x2="96.6" y2="1244.6" stroke="#000" stroke-width="2.6" stroke-linecap="round"/>
<line x1="132.4" y1="1227.4" x2="121.7" y2="1246" stroke="#000" stroke-width="2.6" stroke-linecap="round"/>
<line x1="125" y1="1201.4" x2="134.6" y2="1185.7" stroke="#000" stroke-width="2.8" stroke-linecap="round"/>
<line x1="95.2" y1="1200.9" x2="87.3" y2="1185.1" stroke="#000" stroke-width="3" stroke-linecap="round"/>
<text x="72" y="1183.3" font-family='"Liberation Serif", serif' font-size="22" text-anchor="middle" fill="#111">Cl</text>
<line x1="138.9" y1="1227.4" x2="160.4" y2="1227.4" stroke="#000" stroke-width="3" stroke-linecap="round"/>
<text x="173.5" y="1236.3" font-family='"Liberation Serif", serif' font-size="22" text-anchor="middle" fill="#111">Cl</text>
<line x1="94.5" y1="1253.2" x2="84.4" y2="1270.4" stroke="#000" stroke-width="3" stroke-linecap="round"/>
<text x="70" y="1285.3" font-family='"Liberation Serif", serif' font-size="22" text-anchor="middle" fill="#111">Cl</text>
<text x="104.5" y="1311" font-family='"Liberation Serif", serif' font-size="39.3" font-weight="normal" fill="#000" text-anchor="start" font-style="italic" textLength="101" lengthAdjust="spacingAndGlyphs" >TCPO</text>
<text x="257.5" y="1226.1" font-family='"Liberation Serif", serif' font-size="34" font-weight="bold" fill="#000" text-anchor="start" textLength="62.2" lengthAdjust="spacingAndGlyphs" >+2H</text>
<text x="320.3" y="1236.9" font-family='"Liberation Serif", serif' font-size="15.5" font-weight="bold" fill="#000" text-anchor="start" textLength="9" lengthAdjust="spacingAndGlyphs" >2</text>
<text x="332.2" y="1226.1" font-family='"Liberation Serif", serif' font-size="34" font-weight="bold" fill="#000" text-anchor="start" textLength="21.5" lengthAdjust="spacingAndGlyphs" >O</text>
<text x="357" y="1236.9" font-family='"Liberation Serif", serif' font-size="15.5" font-weight="bold" fill="#000" text-anchor="start" textLength="9" lengthAdjust="spacingAndGlyphs" >2</text>
<line x1="252.9" y1="1244.8" x2="382.2" y2="1244.8" stroke="#000" stroke-width="2.4"/>
<path d="M392.2,1244.8 L374.2,1239.3 Q379.2,1244.8 374.2,1250.3 Z" fill="#000"/>
<path d="M404.6,1200.4 L398.6,1200.4 L398.6,1284.7 L404.6,1284.7" fill="none" stroke="#000" stroke-width="2.6" stroke-linejoin="round"/>
<path d="M493.1,1201.3 L499.1,1201.3 L499.1,1285 L493.1,1285" fill="none" stroke="#000" stroke-width="2.6" stroke-linejoin="round"/>
<line x1="434.8" y1="1236.2" x2="464.3" y2="1236.2" stroke="#000" stroke-width="2.3" stroke-linecap="round"/>
<line x1="434.8" y1="1236.2" x2="434.6" y2="1257.5" stroke="#000" stroke-width="2.3" stroke-linecap="round"/>
<line x1="464.3" y1="1236.2" x2="464.3" y2="1257.5" stroke="#000" stroke-width="2.3" stroke-linecap="round"/>
<line x1="442.5" y1="1265.8" x2="456.6" y2="1265.8" stroke="#000" stroke-width="2.3" stroke-linecap="round"/>
<text x="434.4" y="1271.4" font-family='"Liberation Serif", serif' font-size="16" text-anchor="middle" fill="#111">O</text>
<text x="464.3" y="1271.4" font-family='"Liberation Serif", serif' font-size="16" text-anchor="middle" fill="#111">O</text>
<line x1="422.6" y1="1218.1" x2="440.3" y2="1235.3" stroke="#000" stroke-width="2.3" stroke-linecap="round"/>
<line x1="416.7" y1="1224.4" x2="434.4" y2="1240.3" stroke="#000" stroke-width="2.3" stroke-linecap="round"/>
<line x1="476" y1="1218.6" x2="458.8" y2="1235.3" stroke="#000" stroke-width="2.3" stroke-linecap="round"/>
<line x1="481.9" y1="1224.4" x2="464.3" y2="1239.8" stroke="#000" stroke-width="2.3" stroke-linecap="round"/>
<text x="413.7" y="1221.1" font-family='"Liberation Serif", serif' font-size="16" text-anchor="middle" fill="#111">O</text>
<text x="485.1" y="1221.1" font-family='"Liberation Serif", serif' font-size="16" text-anchor="middle" fill="#111">O</text>
<text x="512.6" y="1226" font-family='"Liberation Serif", serif' font-size="20.9" font-weight="bold" fill="#000" text-anchor="start" textLength="134.7" lengthAdjust="spacingAndGlyphs" >Intermolecular</text>
<line x1="525.3" y1="1245" x2="646" y2="1245" stroke="#000" stroke-width="2.4"/>
<path d="M656,1245 L638,1239.5 Q643,1245 638,1250.5 Z" fill="#000"/>
<text x="503" y="1275" font-family='"Liberation Serif", serif' font-size="21.2" font-weight="bold" fill="#000" text-anchor="start" textLength="150.6" lengthAdjust="spacingAndGlyphs" >electron transfer</text>
<text x="313" y="1326" font-family='"Liberation Serif", serif' font-size="34.5" font-weight="bold" fill="#000" text-anchor="start" textLength="277" lengthAdjust="spacingAndGlyphs" >1,2-dioxetanedione</text>
<path d="M102.3,1368.7 L96.3,1368.7 L96.3,1452.6 L102.3,1452.6" fill="none" stroke="#000" stroke-width="2.6" stroke-linejoin="round"/>
<path d="M204.5,1366.8 L210.5,1366.8 L210.5,1449.8 L204.5,1449.8" fill="none" stroke="#000" stroke-width="2.6" stroke-linejoin="round"/>
<line x1="142.5" y1="1404.6" x2="172" y2="1404.6" stroke="#000" stroke-width="2.3" stroke-linecap="round"/>
<line x1="142.5" y1="1404.6" x2="142.3" y2="1425.9" stroke="#000" stroke-width="2.3" stroke-linecap="round"/>
<line x1="172" y1="1404.6" x2="172" y2="1425.9" stroke="#000" stroke-width="2.3" stroke-linecap="round"/>
<line x1="150.2" y1="1434.2" x2="164.3" y2="1434.2" stroke="#000" stroke-width="2.3" stroke-linecap="round"/>
<text x="142.1" y="1439.8" font-family='"Liberation Serif", serif' font-size="16" text-anchor="middle" fill="#111">O</text>
<text x="172" y="1439.8" font-family='"Liberation Serif", serif' font-size="16" text-anchor="middle" fill="#111">O</text>
<line x1="130.3" y1="1386.5" x2="148" y2="1403.7" stroke="#000" stroke-width="2.3" stroke-linecap="round"/>
<line x1="124.4" y1="1392.8" x2="142.1" y2="1408.7" stroke="#000" stroke-width="2.3" stroke-linecap="round"/>
<line x1="183.7" y1="1387" x2="166.5" y2="1403.7" stroke="#000" stroke-width="2.3" stroke-linecap="round"/>
<line x1="189.6" y1="1392.8" x2="172" y2="1408.2" stroke="#000" stroke-width="2.3" stroke-linecap="round"/>
<text x="121.4" y="1389.5" font-family='"Liberation Serif", serif' font-size="16" text-anchor="middle" fill="#111">O</text>
<text x="192.8" y="1389.5" font-family='"Liberation Serif", serif' font-size="16" text-anchor="middle" fill="#111">O</text>
<circle cx="222.4" cy="1353.6" r="11.7" fill="url(#sph)"/>
<text x="235" y="1346" font-family='"Liberation Serif", serif' font-size="14" font-weight="normal" fill="#000" text-anchor="start" >-</text>
<text x="236.9" y="1411.1" font-family='"Liberation Serif", serif' font-size="31.4" font-weight="bold" fill="#000" text-anchor="start" textLength="45.3" lengthAdjust="spacingAndGlyphs" >CD</text>
<circle cx="292.5" cy="1376.2" r="12" fill="url(#sph)"/>
<text x="301" y="1364" font-family='"Liberation Serif", serif' font-size="15" font-weight="normal" fill="#000" text-anchor="start" >+</text>
<text x="309.5" y="1390" font-family='"Liberation Serif", serif' font-size="21" font-weight="bold" fill="#000" text-anchor="start" textLength="122.5" lengthAdjust="spacingAndGlyphs" >Back electron</text>
<line x1="305" y1="1401.3" x2="427" y2="1401.3" stroke="#000" stroke-width="2.4"/>
<path d="M437,1401.3 L419,1395.8 Q424,1401.3 419,1406.8 Z" fill="#000"/>
<text x="321.8" y="1429.7" font-family='"Liberation Serif", serif' font-size="20.6" font-weight="bold" fill="#000" text-anchor="start" textLength="70.9" lengthAdjust="spacingAndGlyphs" >transfer</text>
<text x="459" y="1411.4" font-family='"Liberation Serif", serif' font-size="31.4" font-weight="bold" fill="#000" textLength="100" lengthAdjust="spacingAndGlyphs">CD+<tspan font-style="italic">hv</tspan></text>
<text x="103.8" y="1499.8" font-family='"Liberation Serif", serif' font-size="34" font-weight="bold" fill="#000" text-anchor="start" textLength="83.2" lengthAdjust="spacingAndGlyphs" >CIEE</text>
<text x="414.6" y="1500" font-family='"Liberation Serif", serif' font-size="34.4" font-weight="bold" fill="#000" text-anchor="start" textLength="194.8" lengthAdjust="spacingAndGlyphs" >luminescence</text>
<circle cx="43.5" cy="1037" r="0.9" fill="#555"/><circle cx="72.5" cy="1036" r="1" fill="#444"/>
<line x1="792.5" y1="1057" x2="792.5" y2="1512" stroke="#000" stroke-width="3" />
<path d="M785.5,1507 L799.5,1507 L792.5,1531 Z" fill="#000"/>
<line x1="783" y1="1059.2" x2="792.5" y2="1059.2" stroke="#000" stroke-width="3" />
<line x1="786.5" y1="1100.5" x2="792.5" y2="1100.5" stroke="#000" stroke-width="3" />
<line x1="783" y1="1141.9" x2="792.5" y2="1141.9" stroke="#000" stroke-width="3" />
<line x1="786.5" y1="1183.2" x2="792.5" y2="1183.2" stroke="#000" stroke-width="3" />
<line x1="783" y1="1224.5" x2="792.5" y2="1224.5" stroke="#000" stroke-width="3" />
<line x1="786.5" y1="1265.8" x2="792.5" y2="1265.8" stroke="#000" stroke-width="3" />
<line x1="783" y1="1307.2" x2="792.5" y2="1307.2" stroke="#000" stroke-width="3" />
<line x1="786.5" y1="1348.5" x2="792.5" y2="1348.5" stroke="#000" stroke-width="3" />
<line x1="783" y1="1389.8" x2="792.5" y2="1389.8" stroke="#000" stroke-width="3" />
<line x1="786.5" y1="1431.1" x2="792.5" y2="1431.1" stroke="#000" stroke-width="3" />
<line x1="783" y1="1472.5" x2="792.5" y2="1472.5" stroke="#000" stroke-width="3" />
<text x="778" y="1070.6" font-family='"Liberation Sans", sans-serif' font-size="33" font-weight="bold" fill="#000" text-anchor="end" textLength="38.5" lengthAdjust="spacingAndGlyphs" >--3</text>
<text x="778" y="1153.3" font-family='"Liberation Sans", sans-serif' font-size="33" font-weight="bold" fill="#000" text-anchor="end" textLength="38.5" lengthAdjust="spacingAndGlyphs" >--4</text>
<text x="778" y="1235.9" font-family='"Liberation Sans", sans-serif' font-size="33" font-weight="bold" fill="#000" text-anchor="end" textLength="38.5" lengthAdjust="spacingAndGlyphs" >--5</text>
<text x="778" y="1318.6" font-family='"Liberation Sans", sans-serif' font-size="33" font-weight="bold" fill="#000" text-anchor="end" textLength="38.5" lengthAdjust="spacingAndGlyphs" >--6</text>
<text x="778" y="1401.2" font-family='"Liberation Sans", sans-serif' font-size="33" font-weight="bold" fill="#000" text-anchor="end" textLength="38.5" lengthAdjust="spacingAndGlyphs" >--7</text>
<text x="778" y="1483.9" font-family='"Liberation Sans", sans-serif' font-size="33" font-weight="bold" fill="#000" text-anchor="end" textLength="38.5" lengthAdjust="spacingAndGlyphs" >--8</text>
<text transform="translate(721.3,1265) rotate(-90)" font-family='"Liberation Sans", sans-serif' font-size="35" font-weight="bold" fill="#000" text-anchor="middle" textLength="274" lengthAdjust="spacingAndGlyphs" >Energy level (eV)</text>
<text x="663.3" y="1085.3" font-family='"Liberation Serif", serif' font-size="44" font-weight="bold" fill="#000" text-anchor="start" textLength="44" lengthAdjust="spacingAndGlyphs" >(f)</text>
<rect x="869.4" y="1173" width="193.5" height="33.5" fill="#ff00ff" />
<rect x="868.5" y="1349.5" width="194.5" height="38.5" fill="#ff0000" />
<rect x="866.5" y="1418.5" width="193.5" height="32.5" fill="#c8c8c8" stroke="#707070" stroke-width="1"/>
<rect x="1102" y="1347" width="198.5" height="39.5" fill="#ff0000" />
<line x1="862" y1="1190.2" x2="1068" y2="1190.2" stroke="#000" stroke-width="6" />
<line x1="860.5" y1="1369.5" x2="1063.5" y2="1369.5" stroke="#000" stroke-width="6" />
<line x1="860.5" y1="1434" x2="1063.5" y2="1434" stroke="#000" stroke-width="6" />
<line x1="1207.5" y1="1073.3" x2="1283" y2="1073.3" stroke="#000" stroke-width="5.5" />
<line x1="866.4" y1="1433" x2="866.4" y2="1210" stroke="#000" stroke-width="5.4" />
<path d="M856.5,1219 L876.3,1219 L866.4,1180 Z" fill="#000"/>
<line x1="899.6" y1="1368" x2="899.6" y2="1210" stroke="#000" stroke-width="5.4" />
<path d="M889.7,1219 L909.5,1219 L899.6,1180 Z" fill="#000"/>
<line x1="929.5" y1="1206" x2="929.5" y2="1325" stroke="#000" stroke-width="5.2" />
<path d="M920,1322 L939,1322 L929.5,1360 Z" fill="#000"/>
<text transform="translate(852,1303.4) rotate(-90)" font-family='"Liberation Sans", sans-serif' font-size="21.5" font-weight="bold" fill="#000" text-anchor="middle" textLength="68.7" lengthAdjust="spacingAndGlyphs" >Band-1</text>
<text transform="translate(892,1301.6) rotate(-90)" font-family='"Liberation Sans", sans-serif' font-size="21.5" font-weight="bold" fill="#000" text-anchor="middle" textLength="70.5" lengthAdjust="spacingAndGlyphs" >Band-2</text>
<text x="819.5" y="1202" font-family='"Liberation Serif", serif' font-size="34" font-weight="bold" fill="#000" text-anchor="start" textLength="31" lengthAdjust="spacingAndGlyphs" >&#960;*</text>
<text x="824" y="1386.5" font-family='"Liberation Sans", sans-serif' font-size="30" font-weight="bold" fill="#000" text-anchor="start" textLength="17.5" lengthAdjust="spacingAndGlyphs" >n</text>
<text x="824.5" y="1448" font-family='"Liberation Serif", serif' font-size="34" font-weight="bold" fill="#000" text-anchor="start" textLength="17" lengthAdjust="spacingAndGlyphs" >&#960;</text>
<text x="942.5" y="1234.8" font-family='"Liberation Sans", sans-serif' font-size="29" font-weight="bold" fill="#000" text-anchor="start" textLength="89.5" lengthAdjust="spacingAndGlyphs" >LUMO</text>
<text x="942.5" y="1340.7" font-family='"Liberation Sans", sans-serif' font-size="29" font-weight="bold" fill="#000" text-anchor="start" textLength="93" lengthAdjust="spacingAndGlyphs" >HOMO</text>
<text x="1200.4" y="1112" font-family='"Liberation Sans", sans-serif' font-size="29" font-weight="bold" fill="#000" text-anchor="start" textLength="89.6" lengthAdjust="spacingAndGlyphs" >LUMO</text>
<text x="1200.4" y="1337.2" font-family='"Liberation Sans", sans-serif' font-size="29" font-weight="bold" fill="#000" text-anchor="start" textLength="94.6" lengthAdjust="spacingAndGlyphs" >HOMO</text>
<text x="1077.6" y="1079.3" font-family='"Liberation Sans", sans-serif' font-size="25" font-weight="bold" fill="#000" text-anchor="start" textLength="108.8" lengthAdjust="spacingAndGlyphs" >1,2-dioxe</text>
<text x="1070.6" y="1112" font-family='"Liberation Sans", sans-serif' font-size="25" font-weight="bold" fill="#000" text-anchor="start" textLength="128" lengthAdjust="spacingAndGlyphs" >-tanedione</text>
<text x="930.2" y="1512.7" font-family='"Liberation Sans", sans-serif' font-size="29.5" font-weight="bold" fill="#000" text-anchor="start" textLength="36.8" lengthAdjust="spacingAndGlyphs" >PL</text>
<text x="1183" y="1512.7" font-family='"Liberation Sans", sans-serif' font-size="29.5" font-weight="bold" fill="#000" text-anchor="start" textLength="38.5" lengthAdjust="spacingAndGlyphs" >CL</text>
<defs><linearGradient id="garr" x1="0" y1="1" x2="0" y2="0"><stop offset="0" stop-color="#0010ff"/><stop offset="0.25" stop-color="#00c0ff"/><stop offset="0.32" stop-color="#00ffff"/><stop offset="0.5" stop-color="#00ff20"/><stop offset="0.68" stop-color="#d0ff00"/><stop offset="0.78" stop-color="#ffff00"/><stop offset="0.88" stop-color="#ffa000"/><stop offset="1" stop-color="#ff2000"/></linearGradient></defs>
<path d="M1105.7,1332 L1118,1332 L1118,1154 L1123.5,1154 L1111.8,1122.5 L1100.2,1154 L1105.7,1154 Z" fill="url(#garr)"/>
<text transform="translate(1123,1226.5) rotate(90)" font-family='"Liberation Serif", serif' font-size="25" font-weight="normal" fill="#000" text-anchor="middle" textLength="200" lengthAdjust="spacingAndGlyphs" >electron transfer</text>
<text transform="translate(1156,1231.6) rotate(90)" font-family='"Liberation Serif", serif' font-size="25" font-weight="normal" fill="#000" text-anchor="middle" textLength="179.6" lengthAdjust="spacingAndGlyphs" >Intermolecular</text>
</svg></body></html>
